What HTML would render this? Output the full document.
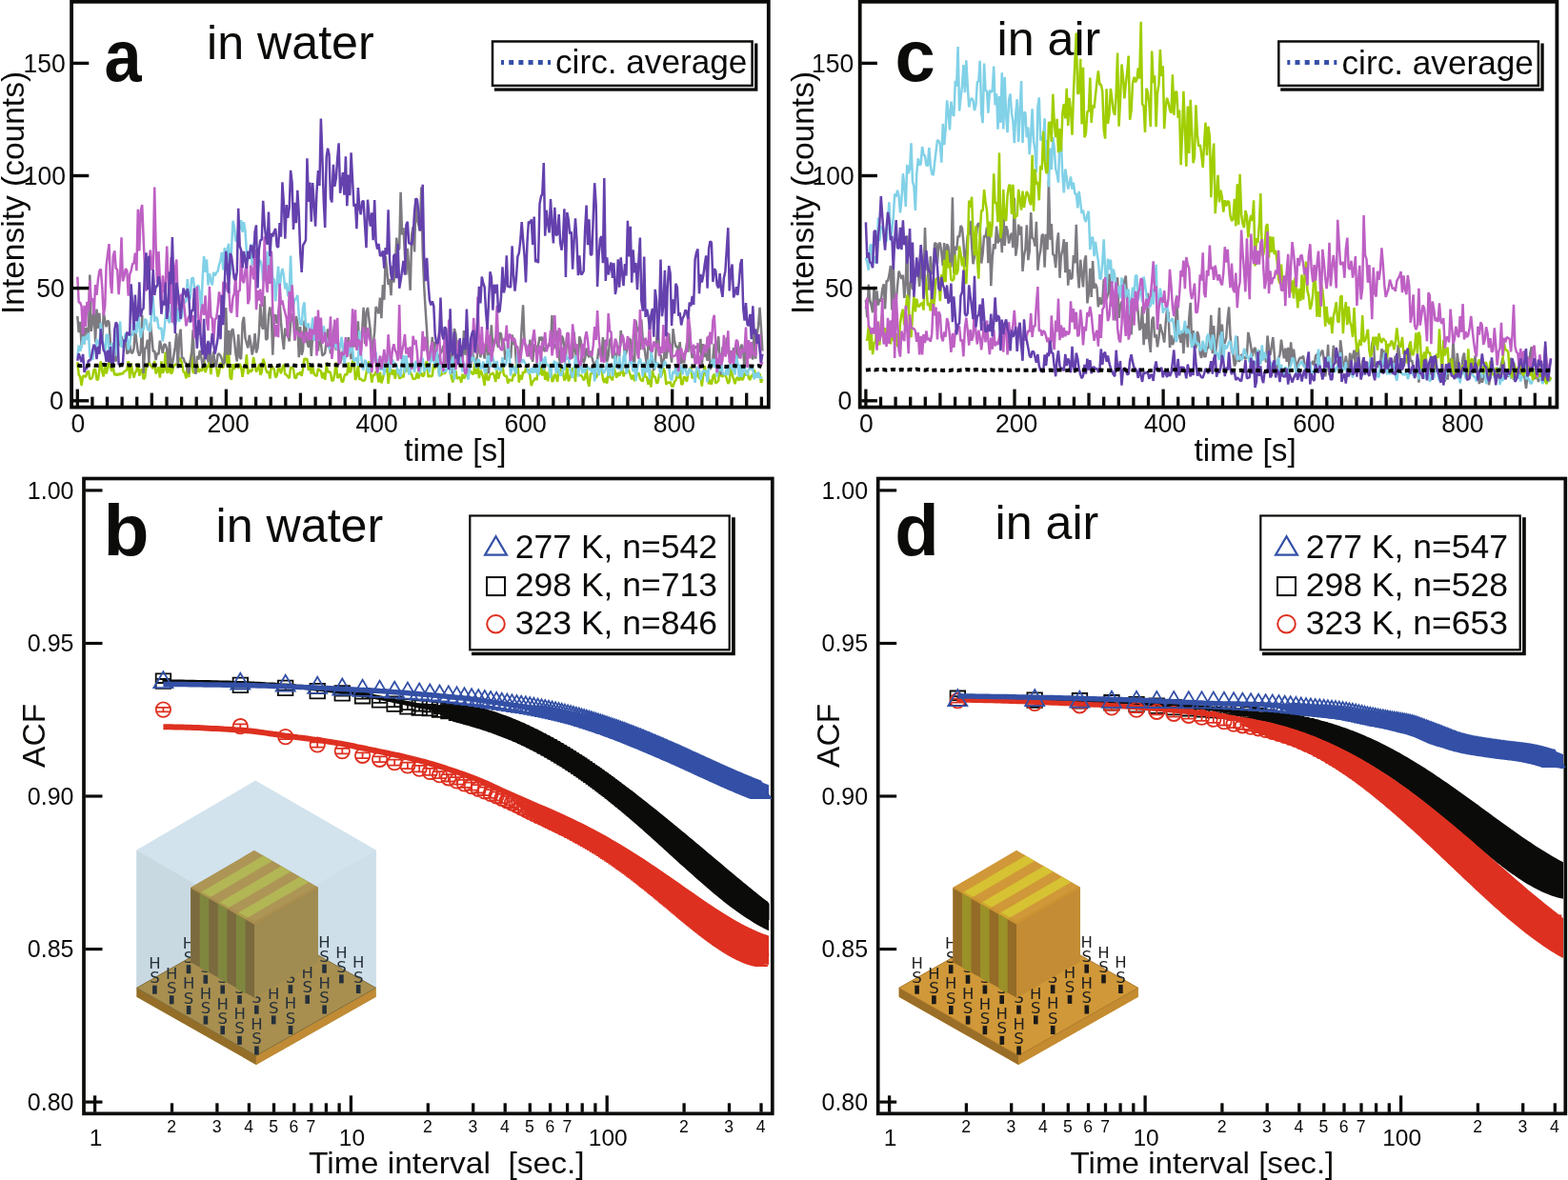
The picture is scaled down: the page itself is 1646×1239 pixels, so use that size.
<!DOCTYPE html>
<html><head><meta charset="utf-8"><title>Figure</title>
<style>html,body{margin:0;padding:0;background:#fff;}svg{display:block;}</style>
</head><body>
<svg width="1646" height="1239" viewBox="0 0 1646 1239" font-family="'Liberation Sans', Arial, Helvetica, sans-serif">
<rect width="1646" height="1239" fill="#fff"/>
<path d="M81.3 380.2 82.7 393.5 84.2 395.8 85.6 404.8 87.1 394.7 88.5 394.8 90 395.9 91.4 390.9 92.9 389.5 94.3 397.9 95.7 397.8 97.2 395.6 98.6 388 100.1 387.7 101.5 398.6 103 398.7 104.4 387.8 105.8 379.3 107.3 390.5 108.7 395.3 110.2 384.2 111.6 392.4 113.1 386.4 114.5 378.8 116 385.3 117.4 389.8 118.8 385.7 120.3 394 121.7 392.2 123.2 394.2 124.6 392.2 126.1 393.5 127.5 391.8 128.9 392.7 130.4 389.9 131.8 389.6 133.3 387.9 134.7 379.1 136.2 397.5 137.6 381.5 139.1 390.3 140.5 396.6 141.9 391.4 143.4 389 144.8 381.5 146.3 394.7 147.7 388.4 149.2 388.1 150.6 398.1 152.1 396.7 153.5 385.8 154.9 383.4 156.4 379.8 157.8 383.7 159.3 385.1 160.7 387.1 162.2 379 163.6 392.4 165 389.5 166.5 385.5 167.9 396.6 169.4 379.4 170.8 391.8 172.3 388.6 173.7 369.7 175.2 391 176.6 391.1 178 375.6 179.5 392.7 180.9 390.5 182.4 383.8 183.8 383.3 185.3 382.1 186.7 383.5 188.2 375.7 189.6 377.5 191 381.1 192.5 390.2 193.9 391.2 195.4 397.5 196.8 382.9 198.3 396.2 199.7 381.2 201.1 370 202.6 391.2 204 391 205.5 389.7 206.9 380.4 208.4 390.9 209.8 387.5 211.3 389.6 212.7 388.1 214.1 376.3 215.6 391.1 217 386.2 218.5 384.1 219.9 379.4 221.4 393.1 222.8 378.7 224.2 382 225.7 379 227.1 384.7 228.6 395.5 230 391.3 231.5 380.8 232.9 385.2 234.4 386.2 235.8 371.4 237.2 364.9 238.7 384.3 240.1 369.9 241.6 396.4 243 398.7 244.5 382.2 245.9 387.8 247.4 382.6 248.8 382.5 250.2 386.9 251.7 382 253.1 385.4 254.6 395.8 256 386.9 257.5 385.9 258.9 372.3 260.3 392.9 261.8 388.1 263.2 390.4 264.7 388.9 266.1 374.9 267.6 383.8 269 390.4 270.5 387.3 271.9 382.5 273.3 393.6 274.8 390.6 276.2 376.8 277.7 380.9 279.1 388 280.6 391.6 282 390.1 283.4 397.6 284.9 383.6 286.3 386 287.8 387.8 289.2 396.4 290.7 394.4 292.1 386.6 293.6 387.4 295 392.3 296.4 386.5 297.9 382.6 299.3 393.1 300.8 393.5 302.2 395.4 303.7 397.2 305.1 385.7 306.6 386.2 308 387.6 309.4 396.7 310.9 397.1 312.3 391.9 313.8 393.3 315.2 390.3 316.7 394.8 318.1 386.9 319.5 376.3 321 377.3 322.4 376.8 323.9 389 325.3 384.2 326.8 392.5 328.2 384.8 329.7 392.6 331.1 394.1 332.5 395.1 334 386.9 335.4 388.8 336.9 389.6 338.3 397.3 339.8 391.1 341.2 398.9 342.7 381.7 344.1 391 345.5 389.9 347 391.7 348.4 399.7 349.9 399.6 351.3 392.6 352.8 380.5 354.2 396.7 355.6 396.1 357.1 392.3 358.5 400.3 360 401.2 361.4 395.2 362.9 392.2 364.3 393.9 365.8 380.6 367.2 391.4 368.6 389.2 370.1 379.3 371.5 377 373 399 374.4 394.8 375.9 383.9 377.3 398.5 378.7 397.7 380.2 399.4 381.6 399.9 383.1 398.9 384.5 391.7 386 382.7 387.4 379.3 388.9 390.5 390.3 401.7 391.7 393.6 393.2 394.1 394.6 390 396.1 392.5 397.5 401.3 399 390.8 400.4 402.3 401.9 397.3 403.3 390.8 404.7 389.7 406.2 380.2 407.6 402.8 409.1 391.7 410.5 387.5 412 393.7 413.4 388.2 414.8 397.9 416.3 388.8 417.7 388.3 419.2 397.4 420.6 396.7 422.1 394 423.5 396.3 425 385.8 426.4 390.6 427.8 382.8 429.3 382.9 430.7 391.1 432.2 393.5 433.6 397.9 435.1 397.7 436.5 397.6 437.9 391.1 439.4 397.4 440.8 392.8 442.3 391.5 443.7 395.4 445.2 394.1 446.6 382.6 448.1 379.4 449.5 396 450.9 394.3 452.4 395.2 453.8 394.7 455.3 382.1 456.7 387.1 458.2 383.2 459.6 378.2 461.1 394.2 462.5 394.2 463.9 392.9 465.4 386 466.8 392.8 468.3 388.8 469.7 384.4 471.2 383.9 472.6 389.2 474 397.1 475.5 401.5 476.9 386.9 478.4 389.4 479.8 397.9 481.3 396.6 482.7 396.1 484.2 401.9 485.6 392.8 487 397.5 488.5 395.4 489.9 388.6 491.4 393.2 492.8 389.6 494.3 390 495.7 392.5 497.2 392.7 498.6 379.1 500 392.8 501.5 381.2 502.9 397.1 504.4 388.9 505.8 391.6 507.3 397 508.7 405 510.1 384.2 511.6 398.6 513 399 514.5 393.1 515.9 392.8 517.4 391.3 518.8 394.4 520.3 401 521.7 388.6 523.1 397.7 524.6 392.3 526 389.3 527.5 384.3 528.9 393.5 530.4 394.9 531.8 394.7 533.2 402.5 534.7 398.5 536.1 399.1 537.6 399.9 539 393 540.5 394.9 541.9 381.8 543.4 380.8 544.8 401.6 546.2 393.6 547.7 398.6 549.1 390.3 550.6 391.8 552 386.7 553.5 390.5 554.9 387.8 556.4 394.4 557.8 405 559.2 400.9 560.7 398.9 562.1 396.8 563.6 399.2 565 382.6 566.5 393.3 567.9 384.3 569.3 394.5 570.8 381.6 572.2 398.9 573.7 390.4 575.1 400.2 576.6 391.7 578 381.8 579.5 401 580.9 399.2 582.3 392.9 583.8 394.6 585.2 400.8 586.7 387 588.1 392.6 589.6 384.5 591 390.7 592.4 399.6 593.9 397.2 595.3 384.7 596.8 400.3 598.2 397.3 599.7 390.5 601.1 386.6 602.6 387.5 604 400.9 605.4 379.6 606.9 393.6 608.3 393.9 609.8 394 611.2 395.4 612.7 399.4 614.1 396.6 615.6 385.4 617 400.4 618.4 405.8 619.9 392.8 621.3 391.9 622.8 389.2 624.2 380.9 625.7 397.1 627.1 393.6 628.5 391 630 385.4 631.4 386.3 632.9 398.2 634.3 401.8 635.8 396.9 637.2 402.7 638.7 388.5 640.1 396.1 641.5 396.7 643 399.5 644.4 384.7 645.9 391.7 647.3 396.6 648.8 391 650.2 394.7 651.7 390.9 653.1 385 654.5 395.3 656 391.6 657.4 391.4 658.9 386.7 660.3 390.1 661.8 394.1 663.2 398.3 664.6 393.5 666.1 400.2 667.5 391.6 669 394.2 670.4 391.4 671.9 397.5 673.3 399.5 674.8 400.3 676.2 388.6 677.6 395.6 679.1 396.4 680.5 403.8 682 396.7 683.4 406.5 684.9 389 686.3 395.9 687.7 395.2 689.2 402.3 690.6 401.6 692.1 392.5 693.5 396.2 695 392.8 696.4 386.4 697.9 390.1 699.3 403.9 700.7 401.5 702.2 401.9 703.6 400.9 705.1 405.5 706.5 405.9 708 400.8 709.4 399.4 710.9 392.9 712.3 397.1 713.7 386.1 715.2 403.6 716.6 403.3 718.1 395.3 719.5 397.1 721 400.9 722.4 391.7 723.8 388 725.3 385.8 726.7 397 728.2 396 729.6 394.5 731.1 395.3 732.5 389.1 734 397.9 735.4 393.9 736.8 405.7 738.3 392.9 739.7 383.9 741.2 394.9 742.6 389 744.1 403.4 745.5 398.8 746.9 403.7 748.4 395.3 749.8 392.7 751.3 402.5 752.7 401.2 754.2 399.8 755.6 378.3 757.1 394.9 758.5 395.3 759.9 393.9 761.4 394.1 762.8 397.3 764.3 402.8 765.7 400.6 767.2 385.7 768.6 393.6 770.1 398 771.5 403.1 772.9 397.5 774.4 396.3 775.8 399.8 777.3 391.3 778.7 399 780.2 397.7 781.6 391.3 783 394.5 784.5 388.9 785.9 397 787.4 398.9 788.8 394 790.3 395 791.7 388.5 793.2 393.2 794.6 396.3 796 393.9 797.5 392.2 798.9 401.8 800.4 398.1" fill="none" stroke="#a0ce00" stroke-width="2.5" stroke-linejoin="bevel"/>
<path d="M81.3 332 82.7 349.2 84.2 337.9 85.6 363 87.1 332.5 88.5 361.4 90 344.8 91.4 344.8 92.9 354.7 94.3 288.6 95.7 347.9 97.2 337.5 98.6 325.3 100.1 359.4 101.5 324.5 103 344.9 104.4 328.7 105.8 356.6 107.3 360.9 108.7 328.3 110.2 336.4 111.6 343.3 113.1 336.5 114.5 338.5 116 363 117.4 376.7 118.8 373.8 120.3 375.1 121.7 379.7 123.2 365.3 124.6 362.5 126.1 356.5 127.5 353 128.9 361.4 130.4 361.5 131.8 357.9 133.3 371.3 134.7 370.3 136.2 361.9 137.6 370.3 139.1 370.7 140.5 366 141.9 344.8 143.4 359 144.8 369.4 146.3 373.7 147.7 369.2 149.2 330.8 150.6 392.3 152.1 365.7 153.5 365.3 154.9 356.7 156.4 380.8 157.8 338.7 159.3 352.8 160.7 369.2 162.2 368.2 163.6 378.1 165 370.8 166.5 372.1 167.9 357.7 169.4 364.3 170.8 370.7 172.3 361.4 173.7 362 175.2 366.6 176.6 385.6 178 358.9 179.5 381.8 180.9 382.4 182.4 373.2 183.8 364.5 185.3 349.9 186.7 386.7 188.2 353.9 189.6 345.6 191 375.7 192.5 375.9 193.9 380.3 195.4 381.4 196.8 388.5 198.3 392.2 199.7 379.3 201.1 371.8 202.6 346.2 204 381.7 205.5 392.9 206.9 373.8 208.4 377.5 209.8 367.9 211.3 375.4 212.7 384.3 214.1 379.7 215.6 361.1 217 365.8 218.5 380.4 219.9 360.2 221.4 384.4 222.8 378.2 224.2 368.9 225.7 384.4 227.1 384.4 228.6 372.1 230 371.5 231.5 373.4 232.9 377.1 234.4 382.8 235.8 380.4 237.2 323 238.7 372.8 240.1 346.9 241.6 372.7 243 347.6 244.5 345.3 245.9 356.7 247.4 371.2 248.8 379.5 250.2 351.2 251.7 375.5 253.1 377 254.6 338.9 256 332.8 257.5 355 258.9 360.3 260.3 365.3 261.8 351.8 263.2 360.7 264.7 372.6 266.1 365.2 267.6 350.1 269 370.5 270.5 365.3 271.9 349.7 273.3 319.2 274.8 341.9 276.2 345.7 277.7 310.7 279.1 356.5 280.6 355.8 282 331.2 283.4 322.5 284.9 332.3 286.3 372.7 287.8 335.1 289.2 330.2 290.7 340 292.1 330.9 293.6 315.6 295 338.4 296.4 354.7 297.9 366.8 299.3 344.6 300.8 352.5 302.2 351.3 303.7 358.5 305.1 340 306.6 329.6 308 333.9 309.4 357.8 310.9 332.1 312.3 339.2 313.8 375.2 315.2 343.1 316.7 372.8 318.1 367.3 319.5 336.9 321 339.9 322.4 359.5 323.9 364.7 325.3 349.4 326.8 374 328.2 350.6 329.7 357.5 331.1 343.6 332.5 355.2 334 368.6 335.4 354.3 336.9 360.2 338.3 373.4 339.8 372.3 341.2 370.6 342.7 357.8 344.1 345.4 345.5 356 347 371.5 348.4 363.9 349.9 350 351.3 339.8 352.8 367.7 354.2 355.1 355.6 362.7 357.1 381.8 358.5 376.1 360 367.7 361.4 366.2 362.9 364.5 364.3 366.6 365.8 354 367.2 369.2 368.6 377.1 370.1 353.1 371.5 364.6 373 346.2 374.4 366.2 375.9 337.3 377.3 369.7 378.7 371.8 380.2 347.1 381.6 322.7 383.1 361.2 384.5 327.9 386 323 387.4 335.1 388.9 348 390.3 369.5 391.7 362.1 393.2 348.6 394.6 322 396.1 325.7 397.5 329.2 399 312.7 400.4 334.2 401.9 299.1 403.3 314.8 404.7 269.2 406.2 283.6 407.6 299 409.1 292.9 410.5 310.2 412 279 413.4 296.7 414.8 280.8 416.3 249.6 417.7 263.4 419.2 260.8 420.6 201.7 422.1 246.4 423.5 239.1 425 268.5 426.4 288.4 427.8 260.9 429.3 283.1 430.7 304.8 432.2 246 433.6 238.2 435.1 264.5 436.5 208.3 437.9 230.2 439.4 236.3 440.8 242.6 442.3 196.6 443.7 263.6 445.2 300.2 446.6 324.3 448.1 347 449.5 374.7 450.9 369.7 452.4 372 453.8 353.9 455.3 378 456.7 358.8 458.2 373.4 459.6 379.6 461.1 373.7 462.5 370.4 463.9 369.1 465.4 362.7 466.8 366.8 468.3 385.8 469.7 380 471.2 348 472.6 369.6 474 392.1 475.5 371.7 476.9 345.1 478.4 350.6 479.8 367.6 481.3 367.3 482.7 361.4 484.2 371.3 485.6 376.1 487 347.1 488.5 372.8 489.9 356.7 491.4 385.2 492.8 380.6 494.3 383.4 495.7 366.8 497.2 376.8 498.6 378 500 380.8 501.5 369.5 502.9 356.3 504.4 375.3 505.8 362.5 507.3 369 508.7 376.6 510.1 366 511.6 349.5 513 392.1 514.5 364.1 515.9 341.4 517.4 368.7 518.8 358.8 520.3 354.1 521.7 360.4 523.1 364.8 524.6 349.4 526 350.5 527.5 364.5 528.9 359.3 530.4 377.9 531.8 371.8 533.2 367.3 534.7 368.9 536.1 376.2 537.6 351.5 539 361.9 540.5 357.5 541.9 381.3 543.4 375.8 544.8 376.9 546.2 371.4 547.7 343 549.1 320.3 550.6 361 552 362.2 553.5 369.7 554.9 374.4 556.4 356.7 557.8 371.7 559.2 379.8 560.7 361.2 562.1 369.2 563.6 363.9 565 363.3 566.5 353.6 567.9 357.6 569.3 353.6 570.8 367.5 572.2 368.9 573.7 362.7 575.1 363.8 576.6 360.5 578 361.9 579.5 331.1 580.9 366.6 582.3 361 583.8 365 585.2 347.4 586.7 374.5 588.1 381.7 589.6 352.7 591 355.4 592.4 363.8 593.9 375.9 595.3 350.6 596.8 360 598.2 373.9 599.7 374.1 601.1 376 602.6 348.5 604 368.1 605.4 379.2 606.9 376 608.3 353.4 609.8 357.9 611.2 375.1 612.7 381.3 614.1 376.3 615.6 365.5 617 372.6 618.4 375.1 619.9 368.6 621.3 374.8 622.8 380.8 624.2 384.2 625.7 380.3 627.1 377.7 628.5 366.1 630 366.8 631.4 377.3 632.9 354 634.3 380 635.8 356.6 637.2 379.7 638.7 373.4 640.1 357.5 641.5 354.6 643 376.4 644.4 368.2 645.9 380.3 647.3 372.1 648.8 363 650.2 373.9 651.7 347 653.1 359 654.5 357.6 656 373.6 657.4 370.3 658.9 364.4 660.3 355.5 661.8 356.8 663.2 371.7 664.6 377.8 666.1 381.8 667.5 336.5 669 347.8 670.4 343.4 671.9 367.4 673.3 335.5 674.8 357.7 676.2 363.7 677.6 373.7 679.1 383.5 680.5 361.3 682 366.3 683.4 367.8 684.9 382.4 686.3 389.1 687.7 382.6 689.2 358.2 690.6 336.4 692.1 372.9 693.5 372.5 695 384.7 696.4 381.1 697.9 365.8 699.3 376.6 700.7 367.8 702.2 350.2 703.6 368.5 705.1 380.7 706.5 345.2 708 357.2 709.4 364.2 710.9 363.6 712.3 370.3 713.7 359.2 715.2 382.2 716.6 370.4 718.1 381.3 719.5 370.9 721 360.1 722.4 369.6 723.8 341.7 725.3 366.2 726.7 376.2 728.2 365.5 729.6 365.1 731.1 363.8 732.5 367.4 734 369.7 735.4 355.8 736.8 384.4 738.3 361.2 739.7 374.7 741.2 370.8 742.6 378.9 744.1 352.4 745.5 388 746.9 384.2 748.4 375.9 749.8 360.9 751.3 382.4 752.7 364.3 754.2 353.2 755.6 377.8 757.1 393.4 758.5 363.7 759.9 370.8 761.4 370.7 762.8 354.6 764.3 357.3 765.7 374.8 767.2 368.3 768.6 379.2 770.1 365.2 771.5 370 772.9 363.1 774.4 376.3 775.8 367.9 777.3 365.3 778.7 361.8 780.2 367.9 781.6 389.4 783 366.6 784.5 382.3 785.9 358 787.4 368.9 788.8 370 790.3 377.4 791.7 345 793.2 376.7 794.6 351.3 796 342.8 797.5 322.9 798.9 343.1 800.4 368.6" fill="none" stroke="#7d7a80" stroke-width="2.5" stroke-linejoin="bevel"/>
<path d="M81.3 375.8 82.7 362.6 84.2 368.6 85.6 364.2 87.1 353.4 88.5 361.1 90 352.4 91.4 356.8 92.9 349.6 94.3 374.5 95.7 374.5 97.2 378 98.6 362.1 100.1 367.6 101.5 356.2 103 360.9 104.4 363.1 105.8 338.9 107.3 355.2 108.7 363.3 110.2 372.6 111.6 351.8 113.1 351.4 114.5 371.6 116 365.1 117.4 360.2 118.8 376.1 120.3 366.2 121.7 346.3 123.2 374.1 124.6 357.5 126.1 337.5 127.5 364.1 128.9 364.2 130.4 356.2 131.8 350.6 133.3 349.9 134.7 367.4 136.2 361.4 137.6 350.7 139.1 352.5 140.5 334.3 141.9 348.3 143.4 349.9 144.8 321.8 146.3 343.3 147.7 354.6 149.2 345.3 150.6 346.4 152.1 335 153.5 336.4 154.9 345.5 156.4 346.7 157.8 348.1 159.3 324.9 160.7 311.1 162.2 338 163.6 332.7 165 334.3 166.5 344.3 167.9 345.2 169.4 344.4 170.8 358.3 172.3 348.4 173.7 332.8 175.2 324 176.6 336.6 178 339.2 179.5 326.2 180.9 302.7 182.4 339.9 183.8 341.1 185.3 336.7 186.7 323.1 188.2 337.9 189.6 322.8 191 333.6 192.5 313.6 193.9 318.2 195.4 315.8 196.8 293.1 198.3 313.9 199.7 312.5 201.1 292.9 202.6 291.3 204 301.1 205.5 333.6 206.9 300.6 208.4 299.7 209.8 307.8 211.3 327.1 212.7 291.4 214.1 269.2 215.6 285.8 217 272.5 218.5 299.5 219.9 287.1 221.4 294.9 222.8 299.3 224.2 286 225.7 289.6 227.1 286.4 228.6 284.9 230 277.9 231.5 273.7 232.9 264.9 234.4 283.5 235.8 260 237.2 288.1 238.7 261.6 240.1 255.7 241.6 289.3 243 262.5 244.5 231.9 245.9 237.9 247.4 253 248.8 253.7 250.2 238.5 251.7 241.1 253.1 231.1 254.6 243.8 256 233.2 257.5 242.9 258.9 265.1 260.3 273 261.8 269.1 263.2 256.5 264.7 278.4 266.1 255.7 267.6 293.8 269 281.9 270.5 290.3 271.9 273 273.3 273.9 274.8 279 276.2 295.7 277.7 293 279.1 289.9 280.6 264 282 287.2 283.4 272.6 284.9 264.7 286.3 293.1 287.8 293 289.2 316.3 290.7 297.4 292.1 279.5 293.6 303.4 295 289.1 296.4 282 297.9 289.5 299.3 303.5 300.8 297.2 302.2 310.5 303.7 310.1 305.1 268.6 306.6 312.2 308 321.3 309.4 314 310.9 314 312.3 309.9 313.8 331.8 315.2 339.9 316.7 341.6 318.1 322.7 319.5 317.3 321 341.7 322.4 343.2 323.9 339.5 325.3 350.9 326.8 349 328.2 333.7 329.7 357.6 331.1 344.1 332.5 332.7 334 357.8 335.4 337.2 336.9 348.3 338.3 355.8 339.8 342.3 341.2 351.2 342.7 356.8 344.1 362 345.5 366.2 347 365.3 348.4 363.5 349.9 354.1 351.3 364.5 352.8 361.1 354.2 368 355.6 361.2 357.1 366.6 358.5 353.8 360 364.2 361.4 382.1 362.9 372.8 364.3 375 365.8 362.8 367.2 371.4 368.6 364.9 370.1 366.1 371.5 379.3 373 378.1 374.4 375.3 375.9 384 377.3 347.4 378.7 367.6 380.2 385.6 381.6 388.4 383.1 377.7 384.5 380.8 386 389.5 387.4 391.7 388.9 380.3 390.3 382.8 391.7 376.2 393.2 380.2 394.6 369.7 396.1 392.1 397.5 377.1 399 386.7 400.4 388.7 401.9 373.9 403.3 393.8 404.7 384 406.2 384.7 407.6 371.2 409.1 391.1 410.5 380.3 412 377.7 413.4 381.7 414.8 381.1 416.3 383.3 417.7 392.5 419.2 387.6 420.6 395.6 422.1 376.4 423.5 373.2 425 391.6 426.4 373.2 427.8 383.1 429.3 393.2 430.7 389.5 432.2 379 433.6 383.4 435.1 390.8 436.5 378.7 437.9 384.5 439.4 387.3 440.8 392.5 442.3 380.6 443.7 375.9 445.2 390.4 446.6 386.9 448.1 386.3 449.5 382.9 450.9 391.4 452.4 365.9 453.8 379.8 455.3 375.7 456.7 385.6 458.2 363.5 459.6 378.1 461.1 395.4 462.5 377.3 463.9 383.7 465.4 391.5 466.8 385.5 468.3 390.7 469.7 379.2 471.2 378.4 472.6 393.2 474 380.1 475.5 374.5 476.9 398.8 478.4 375.4 479.8 377.7 481.3 376.4 482.7 370.2 484.2 383.3 485.6 390.5 487 382.3 488.5 385.5 489.9 381 491.4 398.6 492.8 389.6 494.3 358.7 495.7 379 497.2 375.2 498.6 380.9 500 386.9 501.5 377.9 502.9 377.6 504.4 386.7 505.8 386.5 507.3 379.5 508.7 390.1 510.1 391.5 511.6 375.7 513 373.5 514.5 385.3 515.9 370.6 517.4 375.9 518.8 380.6 520.3 388.3 521.7 379 523.1 388.4 524.6 386 526 389.7 527.5 375.1 528.9 382.9 530.4 384.7 531.8 379.4 533.2 359 534.7 372.9 536.1 394.3 537.6 386.3 539 384.4 540.5 389.2 541.9 392.3 543.4 370.5 544.8 376.9 546.2 376.1 547.7 381 549.1 377.4 550.6 380.1 552 383.1 553.5 386.4 554.9 392.2 556.4 391.2 557.8 386.4 559.2 391.7 560.7 383.5 562.1 391.5 563.6 379.7 565 394.2 566.5 384.1 567.9 373.9 569.3 376.7 570.8 388.5 572.2 374.3 573.7 384 575.1 382.5 576.6 385.6 578 396.7 579.5 382.7 580.9 381.8 582.3 378.8 583.8 391.8 585.2 379.9 586.7 389.7 588.1 394 589.6 393.7 591 385.2 592.4 388.7 593.9 372.2 595.3 377.4 596.8 374.6 598.2 385.9 599.7 393.2 601.1 396.9 602.6 389 604 375.1 605.4 373.3 606.9 395.6 608.3 385.2 609.8 380 611.2 392.2 612.7 386.6 614.1 391.1 615.6 385.5 617 384.3 618.4 388.2 619.9 387.1 621.3 391 622.8 385.8 624.2 400.5 625.7 385.4 627.1 377.1 628.5 394.1 630 388.6 631.4 381.7 632.9 390.7 634.3 391.6 635.8 387.4 637.2 380.3 638.7 394.8 640.1 385.7 641.5 381.9 643 395 644.4 386.4 645.9 373.4 647.3 385.1 648.8 387.5 650.2 373.8 651.7 389.4 653.1 388.1 654.5 375 656 368.4 657.4 392.4 658.9 388.7 660.3 383 661.8 374.9 663.2 381.6 664.6 390.4 666.1 380.7 667.5 399.6 669 387.6 670.4 380.8 671.9 376.4 673.3 382 674.8 395.7 676.2 380.4 677.6 390 679.1 390.5 680.5 377.6 682 398.3 683.4 367.8 684.9 377.2 686.3 378.3 687.7 387.2 689.2 381.3 690.6 381.4 692.1 384.6 693.5 396.5 695 385 696.4 384.9 697.9 379 699.3 382.9 700.7 384.6 702.2 385.6 703.6 396.6 705.1 399.5 706.5 389.9 708 392.5 709.4 384.5 710.9 395.1 712.3 392.3 713.7 382.5 715.2 386.9 716.6 393.4 718.1 384 719.5 385.1 721 394.3 722.4 392.9 723.8 386.9 725.3 389.1 726.7 389.9 728.2 391.8 729.6 401.8 731.1 386.8 732.5 385.4 734 388.7 735.4 399 736.8 392.5 738.3 388.9 739.7 389.9 741.2 389.2 742.6 401.2 744.1 385.8 745.5 383.7 746.9 382.7 748.4 376.8 749.8 385.7 751.3 376.8 752.7 395.6 754.2 384.6 755.6 390 757.1 377.1 758.5 391.1 759.9 392.8 761.4 393.8 762.8 386 764.3 394.1 765.7 383.2 767.2 382.7 768.6 388.2 770.1 388.2 771.5 393.5 772.9 373.2 774.4 381.1 775.8 396.1 777.3 382.6 778.7 395.9 780.2 388.4 781.6 384.8 783 391.6 784.5 394 785.9 388 787.4 385.5 788.8 388.1 790.3 387.1 791.7 398.3 793.2 391.7 794.6 396.6 796 390.5 797.5 397 798.9 396.4 800.4 397.1" fill="none" stroke="#81d1e7" stroke-width="2.5" stroke-linejoin="bevel"/>
<path d="M81.3 290.6 82.7 317.5 84.2 317.8 85.6 321.6 87.1 351.1 88.5 320.8 90 342.9 91.4 316.7 92.9 326.4 94.3 294.3 95.7 315.9 97.2 313.4 98.6 330.5 100.1 299.1 101.5 309.9 103 292.9 104.4 284.5 105.8 282.4 107.3 302.3 108.7 331.2 110.2 321.6 111.6 279 113.1 266.6 114.5 256.1 116 296.8 117.4 308.1 118.8 268.8 120.3 263.3 121.7 281.7 123.2 283.4 124.6 309.1 126.1 289.5 127.5 249.4 128.9 295.3 130.4 290.3 131.8 282.1 133.3 284 134.7 310.6 136.2 288 137.6 284.6 139.1 277.2 140.5 276.4 141.9 265.6 143.4 284.2 144.8 219.9 146.3 263.4 147.7 221.5 149.2 215 150.6 249.9 152.1 282.7 153.5 305.6 154.9 298.3 156.4 274.5 157.8 262.5 159.3 283.3 160.7 281.5 162.2 196.5 163.6 257.4 165 296.5 166.5 264.1 167.9 295.4 169.4 327 170.8 289.4 172.3 307.1 173.7 297.2 175.2 258.5 176.6 295.8 178 318.8 179.5 270.1 180.9 338.8 182.4 332 183.8 282.1 185.3 272.5 186.7 313 188.2 326.1 189.6 310 191 309.4 192.5 313.6 193.9 326.9 195.4 342.3 196.8 336.4 198.3 331.9 199.7 332.4 201.1 337.8 202.6 331 204 355.3 205.5 316.8 206.9 300.9 208.4 337.2 209.8 351.8 211.3 326.7 212.7 319.4 214.1 330.8 215.6 310.4 217 336.2 218.5 347 219.9 300.9 221.4 333.1 222.8 334.2 224.2 359.4 225.7 334.9 227.1 334.3 228.6 323 230 306.4 231.5 313.2 232.9 336.3 234.4 295.9 235.8 302.3 237.2 296.6 238.7 306.3 240.1 301.7 241.6 325.7 243 328.3 244.5 312.1 245.9 308.5 247.4 287.3 248.8 333 250.2 305.7 251.7 305 253.1 262.9 254.6 294.6 256 297 257.5 284.7 258.9 274 260.3 319.1 261.8 313.6 263.2 278.5 264.7 283.6 266.1 293.4 267.6 262 269 325.1 270.5 304.8 271.9 315.7 273.3 303.7 274.8 322 276.2 306.9 277.7 248.2 279.1 293.3 280.6 307 282 278.2 283.4 297.8 284.9 263.6 286.3 328.2 287.8 338.3 289.2 353.5 290.7 341.2 292.1 354.1 293.6 297.9 295 320 296.4 315.4 297.9 323.1 299.3 328.5 300.8 334.4 302.2 354.6 303.7 306.1 305.1 337.8 306.6 299.4 308 320 309.4 356.7 310.9 348.2 312.3 348.3 313.8 352.2 315.2 354.1 316.7 348 318.1 356.5 319.5 360.2 321 349.3 322.4 349.3 323.9 357.6 325.3 344.9 326.8 356.8 328.2 345.7 329.7 351.2 331.1 332.3 332.5 373.5 334 325.5 335.4 357 336.9 333.6 338.3 360.5 339.8 358 341.2 348.8 342.7 360.8 344.1 364.1 345.5 360.7 347 332.4 348.4 377 349.9 361.9 351.3 335.6 352.8 361.1 354.2 333.7 355.6 383.1 357.1 379.2 358.5 369.8 360 372.7 361.4 371.8 362.9 354.1 364.3 374.8 365.8 359.5 367.2 358 368.6 364.4 370.1 324.4 371.5 364 373 325.3 374.4 367.8 375.9 356.5 377.3 358 378.7 373.3 380.2 355 381.6 343.4 383.1 352.5 384.5 363.7 386 343.9 387.4 352.7 388.9 359.3 390.3 391.2 391.7 373.8 393.2 355.8 394.6 380.3 396.1 391.6 397.5 382.8 399 373.5 400.4 387.5 401.9 377.6 403.3 367 404.7 380.8 406.2 378.6 407.6 351.2 409.1 370 410.5 382.9 412 366.4 413.4 361.3 414.8 368.1 416.3 370.9 417.7 378.8 419.2 320.1 420.6 377.1 422.1 368.8 423.5 361.4 425 351 426.4 371.6 427.8 364.9 429.3 375.2 430.7 364 432.2 387.8 433.6 352.7 435.1 361.9 436.5 356.9 437.9 369.8 439.4 390.1 440.8 383 442.3 375 443.7 347.9 445.2 368.7 446.6 353.6 448.1 366.9 449.5 378.8 450.9 375.9 452.4 363.6 453.8 359.3 455.3 378.7 456.7 369.7 458.2 367.9 459.6 358.6 461.1 347.7 462.5 382.4 463.9 380.5 465.4 389.9 466.8 343.7 468.3 365 469.7 385.5 471.2 335.5 472.6 368.5 474 367.3 475.5 364.5 476.9 356.9 478.4 388 479.8 373.1 481.3 357.4 482.7 361.3 484.2 368.7 485.6 375.3 487 385.5 488.5 393 489.9 390.4 491.4 365.4 492.8 364.5 494.3 374.5 495.7 366 497.2 333.9 498.6 362.8 500 371.4 501.5 311.6 502.9 357.5 504.4 372.2 505.8 343 507.3 371.7 508.7 364.2 510.1 359.1 511.6 337.1 513 370.2 514.5 351.8 515.9 379.6 517.4 366.6 518.8 361.4 520.3 357 521.7 320.9 523.1 360.5 524.6 364.3 526 367.3 527.5 367.3 528.9 355.1 530.4 358 531.8 341.5 533.2 366 534.7 350.8 536.1 352.1 537.6 358.3 539 354.6 540.5 357 541.9 363.8 543.4 364.3 544.8 381.1 546.2 378.5 547.7 367.2 549.1 356.7 550.6 355.3 552 366.1 553.5 374.3 554.9 362 556.4 364.9 557.8 377.2 559.2 355.6 560.7 346.2 562.1 362.6 563.6 381 565 366.9 566.5 362.9 567.9 379.4 569.3 358.6 570.8 362.3 572.2 348.9 573.7 369.1 575.1 364.5 576.6 362.8 578 347.2 579.5 373.4 580.9 363.3 582.3 331.1 583.8 361.5 585.2 375.8 586.7 344.6 588.1 347.4 589.6 381.2 591 364.6 592.4 380.4 593.9 366.8 595.3 349.8 596.8 350.1 598.2 376.6 599.7 376.3 601.1 340.3 602.6 354 604 365.8 605.4 361.2 606.9 375.9 608.3 384.2 609.8 382.7 611.2 360.8 612.7 374.5 614.1 355.3 615.6 348.2 617 357.5 618.4 372.6 619.9 371.3 621.3 373.5 622.8 362.2 624.2 343 625.7 356.9 627.1 326.1 628.5 352.3 630 368.3 631.4 380.1 632.9 375.5 634.3 380.6 635.8 358.4 637.2 363.3 638.7 329.1 640.1 347.7 641.5 348.6 643 372.1 644.4 371.7 645.9 355.6 647.3 359.5 648.8 372.2 650.2 370.1 651.7 360.3 653.1 351.2 654.5 355.2 656 365.8 657.4 366.3 658.9 353.1 660.3 360.1 661.8 379.2 663.2 375 664.6 355.6 666.1 335.2 667.5 345.1 669 370.1 670.4 376.7 671.9 325.1 673.3 353.9 674.8 367 676.2 361.2 677.6 354.8 679.1 363.2 680.5 361.9 682 337.5 683.4 368 684.9 369.4 686.3 358.6 687.7 361.9 689.2 365.4 690.6 360.4 692.1 373.7 693.5 363.9 695 370.9 696.4 341 697.9 369.8 699.3 364.4 700.7 348.8 702.2 369.5 703.6 360.8 705.1 374.2 706.5 374 708 373.8 709.4 372.9 710.9 367.5 712.3 390 713.7 367.4 715.2 365.8 716.6 374.3 718.1 378.4 719.5 367.7 721 369.7 722.4 325.6 723.8 342 725.3 362.4 726.7 371.2 728.2 361.8 729.6 381.6 731.1 381.6 732.5 360.2 734 386.5 735.4 373.9 736.8 377.9 738.3 368.6 739.7 362.1 741.2 370.6 742.6 353.6 744.1 365.6 745.5 348.5 746.9 361.3 748.4 336.4 749.8 330.7 751.3 360.4 752.7 391.3 754.2 378.9 755.6 370.6 757.1 383.5 758.5 378.1 759.9 351.9 761.4 374.5 762.8 370.4 764.3 347.4 765.7 380.1 767.2 381.6 768.6 367.9 770.1 382 771.5 368 772.9 357 774.4 358.5 775.8 371.7 777.3 376.5 778.7 365.8 780.2 370 781.6 366.8 783 343.5 784.5 385.9 785.9 357 787.4 376.4 788.8 359.2 790.3 370.1 791.7 373.1 793.2 373.2 794.6 352.4 796 360.8 797.5 350.9 798.9 383.5 800.4 380.1" fill="none" stroke="#be60c4" stroke-width="2.5" stroke-linejoin="bevel"/>
<path d="M81.3 378.8 82.7 371.1 84.2 376.1 85.6 380.2 87.1 371.9 88.5 390.9 90 387.1 91.4 386.3 92.9 378.2 94.3 378.7 95.7 375.5 97.2 367.8 98.6 361.7 100.1 364.8 101.5 377.1 103 363.6 104.4 371.8 105.8 345.3 107.3 357.3 108.7 367.7 110.2 369.8 111.6 379.8 113.1 367.9 114.5 380.5 116 364.2 117.4 386.1 118.8 381.8 120.3 346.3 121.7 338.4 123.2 341 124.6 382.6 126.1 382.8 127.5 382.1 128.9 382.2 130.4 356.5 131.8 359.1 133.3 348.7 134.7 350.9 136.2 352.1 137.6 298.3 139.1 319.9 140.5 346.8 141.9 309.6 143.4 337.3 144.8 332 146.3 296.4 147.7 332.4 149.2 325.5 150.6 323.7 152.1 279.5 153.5 265.4 154.9 304.2 156.4 268.9 157.8 330.8 159.3 316.3 160.7 282.7 162.2 310 163.6 300.5 165 300.8 166.5 290.1 167.9 297.8 169.4 329.8 170.8 315.8 172.3 320.4 173.7 296.5 175.2 334.9 176.6 325.3 178 285.4 179.5 298.5 180.9 249 182.4 303.8 183.8 350 185.3 296.7 186.7 305.6 188.2 317.4 189.6 335.2 191 319.2 192.5 302.6 193.9 306.3 195.4 312.3 196.8 303.3 198.3 311.5 199.7 338.7 201.1 325.9 202.6 326.2 204 302.6 205.5 343.9 206.9 365.8 208.4 336.1 209.8 340.7 211.3 362 212.7 372.7 214.1 334.7 215.6 377.3 217 370.7 218.5 357.9 219.9 372.2 221.4 362.5 222.8 350.1 224.2 360.8 225.7 371.5 227.1 364 228.6 355.3 230 330.7 231.5 356.1 232.9 309.9 234.4 341.2 235.8 297.2 237.2 263.9 238.7 278.2 240.1 307.9 241.6 266 243 269 244.5 281 245.9 292.5 247.4 294.1 248.8 285.4 250.2 218.7 251.7 258.5 253.1 262.4 254.6 281.2 256 263.9 257.5 273.5 258.9 281.9 260.3 263.7 261.8 271.9 263.2 257.6 264.7 259.4 266.1 271.2 267.6 243.3 269 236.4 270.5 302.4 271.9 261.6 273.3 252.4 274.8 251.6 276.2 210.7 277.7 235.8 279.1 248.9 280.6 256.7 282 222.6 283.4 269.2 284.9 245.1 286.3 248.4 287.8 243.2 289.2 240.1 290.7 258.5 292.1 259.8 293.6 234 295 248.7 296.4 191.4 297.9 213.7 299.3 250.7 300.8 215.1 302.2 228.9 303.7 218.2 305.1 178.8 306.6 191.9 308 240.9 309.4 212.7 310.9 234.1 312.3 199.8 313.8 225.3 315.2 264.6 316.7 285.9 318.1 257.4 319.5 255.3 321 251.9 322.4 166.3 323.9 211.8 325.3 191.6 326.8 232.8 328.2 192.1 329.7 215.2 331.1 237.7 332.5 200.8 334 179.1 335.4 194.9 336.9 124.6 338.3 162.1 339.8 211.2 341.2 239 342.7 164.6 344.1 155.7 345.5 162.2 347 208.2 348.4 212.4 349.9 172.9 351.3 195.8 352.8 187.2 354.2 166.7 355.6 150.3 357.1 202.8 358.5 192.5 360 181 361.4 204.6 362.9 164.3 364.3 216.2 365.8 183.5 367.2 205.1 368.6 160.2 370.1 189.9 371.5 216.8 373 214.1 374.4 240.2 375.9 197.1 377.3 218 378.7 225.3 380.2 211.7 381.6 210.7 383.1 237.5 384.5 260.1 386 209.7 387.4 225.6 388.9 237.6 390.3 223.4 391.7 252.3 393.2 210 394.6 253.7 396.1 261.6 397.5 256 399 268.6 400.4 268.2 401.9 263.4 403.3 281.6 404.7 260.1 406.2 267.2 407.6 220.4 409.1 273.5 410.5 288.9 412 294.1 413.4 268.3 414.8 267 416.3 292.1 417.7 256 419.2 302.7 420.6 294.7 422.1 284.1 423.5 273.8 425 288.7 426.4 236.2 427.8 232.8 429.3 255.3 430.7 255.8 432.2 257 433.6 248.8 435.1 221.9 436.5 208.7 437.9 209.4 439.4 223.1 440.8 241.9 442.3 239.8 443.7 193.7 445.2 269.2 446.6 295.2 448.1 270.8 449.5 297 450.9 314.9 452.4 320.3 453.8 316.3 455.3 321.1 456.7 351.7 458.2 360.3 459.6 360.1 461.1 352.8 462.5 312.5 463.9 349.8 465.4 356.4 466.8 343.3 468.3 345.5 469.7 371 471.2 388.1 472.6 324.3 474 367.4 475.5 372.8 476.9 348.6 478.4 376.7 479.8 371.8 481.3 383.1 482.7 355.2 484.2 374.2 485.6 366.3 487 354.8 488.5 367.2 489.9 324.6 491.4 362.9 492.8 382.2 494.3 355.1 495.7 349.2 497.2 347 498.6 370.1 500 357.7 501.5 335.7 502.9 300.9 504.4 318.5 505.8 290.5 507.3 297.5 508.7 301.5 510.1 327.9 511.6 346 513 316.3 514.5 285.2 515.9 291.6 517.4 325.8 518.8 298.8 520.3 308 521.7 298.6 523.1 327.8 524.6 326.7 526 312.4 527.5 280.4 528.9 307.4 530.4 300.1 531.8 268.4 533.2 301.1 534.7 301.1 536.1 301.6 537.6 258.3 539 288.3 540.5 305.6 541.9 292.3 543.4 269.5 544.8 265.9 546.2 253.5 547.7 233 549.1 251.9 550.6 269.2 552 296.4 553.5 254.3 554.9 232.6 556.4 234.7 557.8 230.4 559.2 257 560.7 227.6 562.1 275.2 563.6 272.1 565 276.2 566.5 214.3 567.9 206.6 569.3 203.4 570.8 171.1 572.2 247.7 573.7 220.7 575.1 234.8 576.6 244.4 578 209.1 579.5 235.7 580.9 255.4 582.3 217.8 583.8 247.3 585.2 245.8 586.7 225 588.1 254.7 589.6 262.7 591 249.8 592.4 219.2 593.9 290.9 595.3 223.1 596.8 231.1 598.2 245.6 599.7 243.3 601.1 282.8 602.6 252.1 604 229.4 605.4 251.2 606.9 289.1 608.3 268.3 609.8 288.1 611.2 287.5 612.7 284.5 614.1 241.6 615.6 215.5 617 257.3 618.4 230.2 619.9 267.5 621.3 267.5 622.8 226.7 624.2 192.2 625.7 215.5 627.1 300.9 628.5 269.9 630 250.9 631.4 248.1 632.9 276.3 634.3 187 635.8 295 637.2 270.3 638.7 288.4 640.1 281.2 641.5 275.6 643 291.8 644.4 276.2 645.9 309 647.3 300.7 648.8 272.2 650.2 301.6 651.7 270.4 653.1 287.2 654.5 300.1 656 277.2 657.4 289.4 658.9 231.8 660.3 269.4 661.8 237.7 663.2 296.8 664.6 262.3 666.1 286.3 667.5 276 669 304.1 670.4 274.6 671.9 249.6 673.3 315.6 674.8 326.6 676.2 269.6 677.6 332.9 679.1 324.7 680.5 331.6 682 345.8 683.4 331 684.9 323.9 686.3 353.8 687.7 303.9 689.2 316.1 690.6 356.9 692.1 325.2 693.5 272.6 695 332.2 696.4 320 697.9 283.7 699.3 353.3 700.7 302 702.2 279.2 703.6 286.8 705.1 342 706.5 314.2 708 329.3 709.4 297.8 710.9 301.6 712.3 331.8 713.7 328.3 715.2 341.4 716.6 334.3 718.1 331.4 719.5 325.2 721 328.7 722.4 334.9 723.8 317.5 725.3 321.4 726.7 310.9 728.2 319.9 729.6 272.4 731.1 265.1 732.5 261.5 734 308.3 735.4 287.9 736.8 296.4 738.3 289.3 739.7 278 741.2 268.4 742.6 302.6 744.1 261 745.5 253.3 746.9 254.6 748.4 296 749.8 282.1 751.3 284.3 752.7 299.3 754.2 302.5 755.6 287.2 757.1 304.1 758.5 311.8 759.9 291.7 761.4 284.7 762.8 262 764.3 239.2 765.7 305.4 767.2 285.2 768.6 277.6 770.1 312.4 771.5 308.1 772.9 301.3 774.4 310 775.8 295.9 777.3 277 778.7 272.1 780.2 323.5 781.6 336.6 783 318 784.5 340.6 785.9 342.1 787.4 329.8 788.8 356.2 790.3 321.3 791.7 351.3 793.2 345.6 794.6 360.7 796 351.1 797.5 367.3 798.9 380.5 800.4 371.6" fill="none" stroke="#6441ad" stroke-width="2.5" stroke-linejoin="bevel"/>
<path d="M81.3 383.4 84.4 384.2 87.5 383.6 90.7 384 93.8 383.4 96.9 383.5 100 383.8 103.2 383.8 106.3 383.5 109.4 382.7 112.5 383.5 115.6 383.8 118.8 383.6 121.9 383.7 125 383.7 128.1 383.1 131.3 383.9 134.4 383.4 137.5 383.5 140.6 383.9 143.7 383.4 146.9 383.8 150 383.4 153.1 383.6 156.2 383.6 159.3 383.5 162.5 383.4 165.6 383.7 168.7 383.8 171.8 384.1 175 383.5 178.1 383.8 181.2 384.5 184.3 383.9 187.4 384 190.6 383.9 193.7 383.2 196.8 383.7 199.9 383.1 203.1 384.1 206.2 384.4 209.3 383.7 212.4 384.5 215.5 383.5 218.7 383.5 221.8 384.1 224.9 383.6 228 383.7 231.2 384.3 234.3 383.6 237.4 383.8 240.5 383.9 243.6 384 246.8 384.2 249.9 383.8 253 383.4 256.1 384.2 259.3 384.8 262.4 384.1 265.5 384 268.6 383.7 271.7 383.7 274.9 383.3 278 384 281.1 383.7 284.2 384.2 287.4 383.3 290.5 384.2 293.6 383.6 296.7 383.5 299.8 383.5 303 383.4 306.1 382.9 309.2 383.8 312.3 383.9 315.4 384 318.6 383.8 321.7 383.8 324.8 383 327.9 383.6 331.1 383.1 334.2 383.4 337.3 384 340.4 383.5 343.5 382.5 346.7 383.1 349.8 383.2 352.9 383.3 356 383.7 359.2 383.7 362.3 383.7 365.4 383.4 368.5 383.2 371.6 383.2 374.8 383.5 377.9 383.6 381 383.8 384.1 383.3 387.3 383.4 390.4 383.8 393.5 382.8 396.6 383.5 399.7 383 402.9 383.8 406 383.8 409.1 383.9 412.2 383.9 415.4 383.6 418.5 383 421.6 383.5 424.7 383.7 427.8 383.6 431 383.4 434.1 383.5 437.2 383.6 440.3 383.1 443.5 383.7 446.6 383.7 449.7 383.4 452.8 383.7 455.9 383.9 459.1 383.2 462.2 384.1 465.3 383.9 468.4 383.9 471.6 383.9 474.7 383.8 477.8 383.6 480.9 383.4 484 383.8 487.2 383.7 490.3 383.4 493.4 384.3 496.5 384 499.6 383.6 502.8 383.2 505.9 383.4 509 383.9 512.1 383.7 515.3 383.3 518.4 383.9 521.5 383.8 524.6 383.7 527.7 383.4 530.9 384 534 383.5 537.1 383.8 540.2 384.3 543.4 384.3 546.5 383.9 549.6 382.9 552.7 384.2 555.8 383.6 559 383.5 562.1 384.2 565.2 383.3 568.3 384.2 571.5 384.3 574.6 384.2 577.7 384.1 580.8 384 583.9 383.9 587.1 383.7 590.2 384.9 593.3 383.9 596.4 383.8 599.6 384.1 602.7 384.3 605.8 384.5 608.9 384 612 384.1 615.2 383.9 618.3 384.1 621.4 384.5 624.5 384.1 627.6 384 630.8 384.2 633.9 383.9 637 383.4 640.1 384 643.3 383.2 646.4 384.1 649.5 384.4 652.6 384.6 655.7 384.4 658.9 384.3 662 383.9 665.1 383.9 668.2 384.2 671.4 384 674.5 384 677.6 384.3 680.7 384 683.8 383.7 687 384.3 690.1 384 693.2 384.6 696.3 384.8 699.5 384.7 702.6 384.6 705.7 384.9 708.8 384.1 711.9 384.2 715.1 384.5 718.2 384.3 721.3 384.5 724.4 384.3 727.6 384.4 730.7 384.3 733.8 384.7 736.9 384.4 740 384 743.2 384.5 746.3 384.3 749.4 385 752.5 384.7 755.7 385 758.8 384.6 761.9 384.9 765 384.8 768.1 384.8 771.3 384 774.4 384.7 777.5 385.1 780.6 384.6 783.7 385 786.9 384.4 790 384.5 793.1 384.9 796.2 384.1 799.4 385.2" fill="none" stroke="#000" stroke-width="4" stroke-dasharray="5 3.8"/>
<rect x="75.1" y="1.8" width="731.7" height="425.8" fill="none" stroke="#0b0c09" stroke-width="3.8"/>
<line x1="76.6" y1="420.8" x2="93.3" y2="420.8" stroke="#0b0c09" stroke-width="3.4"/>
<text x="66.8" y="430.3" font-size="27.8" text-anchor="end" font-weight="normal" fill="#0b0c09" transform="matrix(0.9550 0 0 1 3 0)">0</text>
<line x1="76.6" y1="302.6" x2="93.3" y2="302.6" stroke="#0b0c09" stroke-width="3.4"/>
<text x="67.8" y="312.1" font-size="27.8" text-anchor="end" font-weight="normal" fill="#0b0c09" transform="matrix(0.9550 0 0 1 3.1 0)">50</text>
<line x1="76.6" y1="184.5" x2="93.3" y2="184.5" stroke="#0b0c09" stroke-width="3.4"/>
<text x="69.1" y="194" font-size="27.8" text-anchor="end" font-weight="normal" fill="#0b0c09" transform="matrix(0.9550 0 0 1 3.1 0)">100</text>
<line x1="76.6" y1="66.4" x2="93.3" y2="66.4" stroke="#0b0c09" stroke-width="3.4"/>
<text x="68.7" y="75.9" font-size="27.8" text-anchor="end" font-weight="normal" fill="#0b0c09" transform="matrix(0.9550 0 0 1 3.1 0)">150</text>
<line x1="81.3" y1="426.1" x2="81.3" y2="408.6" stroke="#0b0c09" stroke-width="3.3"/>
<text x="81.8" y="453.8" font-size="27.8" text-anchor="middle" font-weight="normal" fill="#0b0c09" transform="matrix(0.9550 0 0 1 3.7 0)">0</text>
<line x1="96.9" y1="426.1" x2="96.9" y2="416.6" stroke="#0b0c09" stroke-width="3.3"/>
<line x1="112.5" y1="426.1" x2="112.5" y2="416.6" stroke="#0b0c09" stroke-width="3.3"/>
<line x1="128.1" y1="426.1" x2="128.1" y2="416.6" stroke="#0b0c09" stroke-width="3.3"/>
<line x1="143.7" y1="426.1" x2="143.7" y2="416.6" stroke="#0b0c09" stroke-width="3.3"/>
<line x1="159.3" y1="426.1" x2="159.3" y2="412.6" stroke="#0b0c09" stroke-width="3.3"/>
<line x1="175" y1="426.1" x2="175" y2="416.6" stroke="#0b0c09" stroke-width="3.3"/>
<line x1="190.6" y1="426.1" x2="190.6" y2="416.6" stroke="#0b0c09" stroke-width="3.3"/>
<line x1="206.2" y1="426.1" x2="206.2" y2="416.6" stroke="#0b0c09" stroke-width="3.3"/>
<line x1="221.8" y1="426.1" x2="221.8" y2="416.6" stroke="#0b0c09" stroke-width="3.3"/>
<line x1="237.4" y1="426.1" x2="237.4" y2="408.6" stroke="#0b0c09" stroke-width="3.3"/>
<text x="239.5" y="453.8" font-size="27.8" text-anchor="middle" font-weight="normal" fill="#0b0c09" transform="matrix(0.9550 0 0 1 10.8 0)">200</text>
<line x1="253" y1="426.1" x2="253" y2="416.6" stroke="#0b0c09" stroke-width="3.3"/>
<line x1="268.6" y1="426.1" x2="268.6" y2="416.6" stroke="#0b0c09" stroke-width="3.3"/>
<line x1="284.2" y1="426.1" x2="284.2" y2="416.6" stroke="#0b0c09" stroke-width="3.3"/>
<line x1="299.8" y1="426.1" x2="299.8" y2="416.6" stroke="#0b0c09" stroke-width="3.3"/>
<line x1="315.4" y1="426.1" x2="315.4" y2="412.6" stroke="#0b0c09" stroke-width="3.3"/>
<line x1="331.1" y1="426.1" x2="331.1" y2="416.6" stroke="#0b0c09" stroke-width="3.3"/>
<line x1="346.7" y1="426.1" x2="346.7" y2="416.6" stroke="#0b0c09" stroke-width="3.3"/>
<line x1="362.3" y1="426.1" x2="362.3" y2="416.6" stroke="#0b0c09" stroke-width="3.3"/>
<line x1="377.9" y1="426.1" x2="377.9" y2="416.6" stroke="#0b0c09" stroke-width="3.3"/>
<line x1="393.5" y1="426.1" x2="393.5" y2="408.6" stroke="#0b0c09" stroke-width="3.3"/>
<text x="395.6" y="453.8" font-size="27.8" text-anchor="middle" font-weight="normal" fill="#0b0c09" transform="matrix(0.9550 0 0 1 17.8 0)">400</text>
<line x1="409.1" y1="426.1" x2="409.1" y2="416.6" stroke="#0b0c09" stroke-width="3.3"/>
<line x1="424.7" y1="426.1" x2="424.7" y2="416.6" stroke="#0b0c09" stroke-width="3.3"/>
<line x1="440.3" y1="426.1" x2="440.3" y2="416.6" stroke="#0b0c09" stroke-width="3.3"/>
<line x1="455.9" y1="426.1" x2="455.9" y2="416.6" stroke="#0b0c09" stroke-width="3.3"/>
<line x1="471.6" y1="426.1" x2="471.6" y2="412.6" stroke="#0b0c09" stroke-width="3.3"/>
<line x1="487.2" y1="426.1" x2="487.2" y2="416.6" stroke="#0b0c09" stroke-width="3.3"/>
<line x1="502.8" y1="426.1" x2="502.8" y2="416.6" stroke="#0b0c09" stroke-width="3.3"/>
<line x1="518.4" y1="426.1" x2="518.4" y2="416.6" stroke="#0b0c09" stroke-width="3.3"/>
<line x1="534" y1="426.1" x2="534" y2="416.6" stroke="#0b0c09" stroke-width="3.3"/>
<line x1="549.6" y1="426.1" x2="549.6" y2="408.6" stroke="#0b0c09" stroke-width="3.3"/>
<text x="551.7" y="453.8" font-size="27.8" text-anchor="middle" font-weight="normal" fill="#0b0c09" transform="matrix(0.9550 0 0 1 24.8 0)">600</text>
<line x1="565.2" y1="426.1" x2="565.2" y2="416.6" stroke="#0b0c09" stroke-width="3.3"/>
<line x1="580.8" y1="426.1" x2="580.8" y2="416.6" stroke="#0b0c09" stroke-width="3.3"/>
<line x1="596.4" y1="426.1" x2="596.4" y2="416.6" stroke="#0b0c09" stroke-width="3.3"/>
<line x1="612" y1="426.1" x2="612" y2="416.6" stroke="#0b0c09" stroke-width="3.3"/>
<line x1="627.6" y1="426.1" x2="627.6" y2="412.6" stroke="#0b0c09" stroke-width="3.3"/>
<line x1="643.3" y1="426.1" x2="643.3" y2="416.6" stroke="#0b0c09" stroke-width="3.3"/>
<line x1="658.9" y1="426.1" x2="658.9" y2="416.6" stroke="#0b0c09" stroke-width="3.3"/>
<line x1="674.5" y1="426.1" x2="674.5" y2="416.6" stroke="#0b0c09" stroke-width="3.3"/>
<line x1="690.1" y1="426.1" x2="690.1" y2="416.6" stroke="#0b0c09" stroke-width="3.3"/>
<line x1="705.7" y1="426.1" x2="705.7" y2="408.6" stroke="#0b0c09" stroke-width="3.3"/>
<text x="707.8" y="453.8" font-size="27.8" text-anchor="middle" font-weight="normal" fill="#0b0c09" transform="matrix(0.9550 0 0 1 31.9 0)">800</text>
<line x1="721.3" y1="426.1" x2="721.3" y2="416.6" stroke="#0b0c09" stroke-width="3.3"/>
<line x1="736.9" y1="426.1" x2="736.9" y2="416.6" stroke="#0b0c09" stroke-width="3.3"/>
<line x1="752.5" y1="426.1" x2="752.5" y2="416.6" stroke="#0b0c09" stroke-width="3.3"/>
<line x1="768.1" y1="426.1" x2="768.1" y2="416.6" stroke="#0b0c09" stroke-width="3.3"/>
<line x1="783.7" y1="426.1" x2="783.7" y2="412.6" stroke="#0b0c09" stroke-width="3.3"/>
<line x1="799.4" y1="426.1" x2="799.4" y2="416.6" stroke="#0b0c09" stroke-width="3.3"/>
<text x="477.8" y="483.7" font-size="33.3" text-anchor="middle" font-weight="normal" fill="#0b0c09">time [s]</text>
<text transform="translate(24.7 202.5) rotate(-90)" font-size="33.5" text-anchor="middle" fill="#0b0c09">Intensity (counts)</text>
<text x="109.6" y="85" font-size="76" text-anchor="start" font-weight="bold" fill="#0b0c09" transform="matrix(0.9250 0 0 1 8.2 0)">a</text>
<text x="217" y="61.5" font-size="50.2" text-anchor="start" font-weight="normal" fill="#0b0c09">in water</text>
<rect x="518.9" y="45.5" width="276.5" height="50.2" fill="#0b0c09"/>
<rect x="515.8" y="42.3" width="276.3" height="50.1" fill="#fff"/>
<rect x="517" y="43.5" width="272.6" height="46.4" fill="#fff" stroke="#0b0c09" stroke-width="2.5"/>
<line x1="526" y1="65.6" x2="578" y2="65.6" stroke="#3550a8" stroke-width="5" stroke-dasharray="3 5.2 5 5.2 5 5.2 5 5.2 5 5.2 5 5.2"/>
<text x="583" y="77.2" font-size="35.2" text-anchor="start" font-weight="normal" fill="#0b0c09">circ. average</text>
<path d="M908.9 314.7 910.3 333.3 911.8 298.7 913.2 315.2 914.7 320.6 916.1 328.2 917.6 300.7 919 327.4 920.5 305.4 921.9 320.6 923.3 313.7 924.8 316.6 926.2 303.6 927.7 298.4 929.1 324.5 930.6 294.7 932 295.3 933.4 289.1 934.9 279 936.3 325.4 937.8 276.5 939.2 325.3 940.7 316.8 942.1 300.2 943.6 284.6 945 288.9 946.4 292.8 947.9 288.8 949.3 313 950.8 298 952.2 247.2 953.7 325.1 955.1 300.4 956.5 293.8 958 304.1 959.4 292.6 960.9 286.1 962.3 290 963.8 286.5 965.2 300.8 966.7 273.7 968.1 290.2 969.5 298.1 971 239.1 972.4 282 973.9 283.8 975.3 304.7 976.8 269.2 978.2 288 979.7 283.3 981.1 255.8 982.5 255 984 277.1 985.4 256 986.9 255 988.3 264.9 989.8 279.2 991.2 255.1 992.6 286.5 994.1 256.4 995.5 259.2 997 280.4 998.4 279.4 999.9 207.3 1001.3 286.8 1002.8 258.7 1004.2 262.6 1005.6 247.9 1007.1 248.8 1008.5 236.8 1010 239.3 1011.4 254.4 1012.9 280.1 1014.3 264.5 1015.8 247.2 1017.2 245.1 1018.6 231.9 1020.1 256.9 1021.5 277.2 1023 268.9 1024.4 253 1025.9 236.8 1027.3 234.1 1028.7 238.5 1030.2 276.5 1031.6 266.7 1033.1 247.3 1034.5 249.2 1036 238.7 1037.4 276.2 1038.9 247.2 1040.3 300.1 1041.7 271 1043.2 256.2 1044.6 261.3 1046.1 237.7 1047.5 255.3 1049 252.3 1050.4 237.9 1051.8 265.2 1053.3 221 1054.7 257.9 1056.2 237.4 1057.6 241.9 1059.1 255.5 1060.5 248.4 1062 244.8 1063.4 260.2 1064.8 207.9 1066.3 268.6 1067.7 258.1 1069.2 235.7 1070.6 246.9 1072.1 237.8 1073.5 285 1075 268.5 1076.4 261.5 1077.8 236.4 1079.3 273.1 1080.7 263.8 1082.2 223.1 1083.6 249.7 1085.1 250.9 1086.5 258.5 1087.9 232.7 1089.4 283.8 1090.8 270.5 1092.3 262.8 1093.7 247.3 1095.2 246 1096.6 280.8 1098.1 245.8 1099.5 262.2 1100.9 189 1102.4 251.8 1103.8 235 1105.3 267.1 1106.7 268 1108.2 281.2 1109.6 255.4 1111 244.4 1112.5 291.8 1113.9 268.7 1115.4 262.4 1116.8 251.2 1118.3 286.3 1119.7 254.1 1121.2 299.6 1122.6 282.8 1124 293.1 1125.5 292 1126.9 268 1128.4 276.4 1129.8 235.7 1131.3 285.3 1132.7 302.5 1134.2 272.7 1135.6 287.2 1137 301.5 1138.5 273.8 1139.9 268.4 1141.4 318.4 1142.8 308.8 1144.3 281.9 1145.7 312 1147.1 274.1 1148.6 303 1150 297.9 1151.5 302.2 1152.9 322.4 1154.4 312.1 1155.8 319.5 1157.3 317.1 1158.7 293.2 1160.1 298.3 1161.6 314.2 1163 309 1164.5 287.5 1165.9 312.7 1167.4 321.8 1168.8 306.3 1170.3 325.2 1171.7 336.8 1173.1 291.2 1174.6 333.9 1176 321.7 1177.5 316.7 1178.9 328.2 1180.4 294.3 1181.8 289.6 1183.2 317.1 1184.7 346.9 1186.1 326 1187.6 351.4 1189 325.7 1190.5 318.3 1191.9 326.4 1193.4 313 1194.8 329.4 1196.2 346.6 1197.7 343.6 1199.1 321.9 1200.6 362.1 1202 339.6 1203.5 356.1 1204.9 307.9 1206.3 357.7 1207.8 369.9 1209.2 336.3 1210.7 332.7 1212.1 354.5 1213.6 351.1 1215 364.4 1216.5 354.3 1217.9 340.3 1219.3 346.5 1220.8 352.3 1222.2 359.6 1223.7 338.9 1225.1 324.6 1226.6 328.7 1228 365 1229.5 351.9 1230.9 362.1 1232.3 358.1 1233.8 348.4 1235.2 310.3 1236.7 344.9 1238.1 352.5 1239.6 359.7 1241 347.3 1242.4 371.2 1243.9 348 1245.3 342.3 1246.8 364.7 1248.2 334.4 1249.7 317.8 1251.1 361.9 1252.6 347 1254 361.5 1255.4 365.6 1256.9 348 1258.3 352.6 1259.8 371.6 1261.2 375.8 1262.7 358.9 1264.1 374.2 1265.5 374.6 1267 364.7 1268.4 365.9 1269.9 356.1 1271.3 330.7 1272.8 371.3 1274.2 342.1 1275.7 373.4 1277.1 362 1278.5 347.3 1280 323 1281.4 375.5 1282.9 340.5 1284.3 360.6 1285.8 359.8 1287.2 354.9 1288.7 334.1 1290.1 322.4 1291.5 353.2 1293 368.3 1294.4 371.8 1295.9 384.4 1297.3 381.1 1298.8 353.1 1300.2 379.7 1301.6 378.4 1303.1 372.4 1304.5 373.2 1306 375.3 1307.4 377.1 1308.9 373.7 1310.3 348.9 1311.8 356 1313.2 364.2 1314.6 374.3 1316.1 367.1 1317.5 364.8 1319 376.6 1320.4 380.7 1321.9 368 1323.3 376.7 1324.8 378.3 1326.2 371.6 1327.6 371.5 1329.1 380.5 1330.5 352.5 1332 366 1333.4 372.9 1334.9 363.8 1336.3 354 1337.7 370.4 1339.2 393.1 1340.6 386.6 1342.1 375.9 1343.5 372.6 1345 356.7 1346.4 366.6 1347.9 376.4 1349.3 365.6 1350.7 380 1352.2 364.9 1353.6 387.9 1355.1 359.3 1356.5 375.9 1358 366.7 1359.4 377.7 1360.8 388.8 1362.3 380.7 1363.7 377.3 1365.2 375.2 1366.6 376.4 1368.1 373.7 1369.5 383 1371 392.7 1372.4 384.9 1373.8 391.1 1375.3 382.5 1376.7 382.3 1378.2 379 1379.6 384 1381.1 373.4 1382.5 372.3 1384 371 1385.4 374.2 1386.8 370.4 1388.3 367.7 1389.7 376.8 1391.2 395.4 1392.6 386.7 1394.1 361.7 1395.5 394.3 1396.9 380.1 1398.4 384.3 1399.8 362.8 1401.3 372.9 1402.7 380.6 1404.2 378.8 1405.6 392.2 1407.1 357.2 1408.5 368.5 1409.9 385.6 1411.4 384.6 1412.8 373.7 1414.3 384.2 1415.7 386.6 1417.2 370.7 1418.6 378.8 1420 374.4 1421.5 367.7 1422.9 384.7 1424.4 361.2 1425.8 366.1 1427.3 386.6 1428.7 390.4 1430.2 379.3 1431.6 375.9 1433 385.3 1434.5 382.5 1435.9 381.9 1437.4 383.1 1438.8 376.4 1440.3 361.6 1441.7 354.4 1443.2 385 1444.6 381.2 1446 385.7 1447.5 381.8 1448.9 384.4 1450.4 366.3 1451.8 368.9 1453.3 385 1454.7 367 1456.1 386 1457.6 380.7 1459 375.7 1460.5 384.3 1461.9 388.5 1463.4 379.8 1464.8 373.6 1466.3 382.7 1467.7 362 1469.1 373 1470.6 386.4 1472 376.1 1473.5 385 1474.9 378.9 1476.4 376 1477.8 377.4 1479.3 365 1480.7 379.7 1482.1 378.3 1483.6 385.8 1485 395.5 1486.5 390.3 1487.9 384.1 1489.4 401.6 1490.8 384.6 1492.2 381.2 1493.7 373.1 1495.1 380.3 1496.6 373.4 1498 384.3 1499.5 389.2 1500.9 381.3 1502.4 393.6 1503.8 373.8 1505.2 394.1 1506.7 372.9 1508.1 390 1509.6 391.1 1511 395.4 1512.5 390.1 1513.9 386.8 1515.3 398 1516.8 400.6 1518.2 390 1519.7 398.6 1521.1 384.3 1522.6 376.4 1524 391.6 1525.5 355.1 1526.9 385.7 1528.3 396.3 1529.8 370.8 1531.2 382.9 1532.7 392.5 1534.1 390 1535.6 375.5 1537 370.7 1538.5 387.7 1539.9 396.8 1541.3 394.5 1542.8 384.1 1544.2 388.6 1545.7 386.6 1547.1 386.3 1548.6 373.3 1550 390.9 1551.4 391 1552.9 403.2 1554.3 393.2 1555.8 401.7 1557.2 397.2 1558.7 390.6 1560.1 394.9 1561.6 392 1563 404.2 1564.4 395.6 1565.9 389.9 1567.3 390.5 1568.8 387.3 1570.2 395.6 1571.7 385.7 1573.1 394.6 1574.5 393.5 1576 382.4 1577.4 375.8 1578.9 381.7 1580.3 398 1581.8 394.6 1583.2 395.4 1584.7 391.3 1586.1 375.9 1587.5 379.1 1589 399 1590.4 390.3 1591.9 389.9 1593.3 396.8 1594.8 395.8 1596.2 382.5 1597.7 392.9 1599.1 394 1600.5 396.4 1602 407.8 1603.4 395.4 1604.9 385.7 1606.3 371 1607.8 364.1 1609.2 398.3 1610.6 394.5 1612.1 397.7 1613.5 392.3 1615 401 1616.4 393.1 1617.9 388.9 1619.3 388.7 1620.8 390.9 1622.2 385.5 1623.6 395.7 1625.1 398.2 1626.5 396.2 1628 397.7" fill="none" stroke="#7d7a80" stroke-width="2.5" stroke-linejoin="bevel"/>
<path d="M908.9 270.5 910.3 275.3 911.8 283.8 913.2 258.7 914.7 256.4 916.1 277.8 917.6 268.7 919 275.3 920.5 276 921.9 228.6 923.3 252.8 924.8 237.9 926.2 238.9 927.7 240.6 929.1 254.3 930.6 253.1 932 229.2 933.4 212.4 934.9 253 936.3 242.7 937.8 228.1 939.2 203.6 940.7 206.6 942.1 199.8 943.6 206.1 945 223.4 946.4 210.3 947.9 182.2 949.3 195.4 950.8 216.9 952.2 172.9 953.7 182.3 955.1 176.5 956.5 150.3 958 191 959.4 195.6 960.9 220.9 962.3 181.9 963.8 166.3 965.2 173.6 966.7 171.8 968.1 154 969.5 162.2 971 163.8 972.4 173.2 973.9 174.3 975.3 155.2 976.8 174.1 978.2 182.4 979.7 184 981.1 171.5 982.5 159.5 984 147.1 985.4 147.8 986.9 151.5 988.3 170.7 989.8 130 991.2 152.1 992.6 136.7 994.1 105.3 995.5 117.5 997 136.4 998.4 106.6 999.9 119.2 1001.3 122 1002.8 84.9 1004.2 90.5 1005.6 49.1 1007.1 116.5 1008.5 102.6 1010 90.4 1011.4 68.1 1012.9 97.2 1014.3 63.3 1015.8 90.8 1017.2 112.5 1018.6 105 1020.1 103 1021.5 105.6 1023 116 1024.4 110.3 1025.9 86 1027.3 85.4 1028.7 63.8 1030.2 118.6 1031.6 129.1 1033.1 66.6 1034.5 94.9 1036 95.7 1037.4 118.6 1038.9 94.8 1040.3 96.8 1041.7 95.8 1043.2 69.5 1044.6 110.3 1046.1 98.4 1047.5 135.7 1049 101 1050.4 128.9 1051.8 76.3 1053.3 135.5 1054.7 81.1 1056.2 122.2 1057.6 139.1 1059.1 104.9 1060.5 98.5 1062 118.9 1063.4 127.6 1064.8 150.1 1066.3 119.2 1067.7 104.2 1069.2 148.9 1070.6 116.9 1072.1 85 1073.5 150 1075 118.1 1076.4 118.2 1077.8 144.3 1079.3 133.6 1080.7 162.2 1082.2 141.3 1083.6 114.2 1085.1 148.7 1086.5 157 1087.9 181 1089.4 112.4 1090.8 102.3 1092.3 147.6 1093.7 142.8 1095.2 148.6 1096.6 124.2 1098.1 177.8 1099.5 147 1100.9 196.3 1102.4 155.5 1103.8 177.9 1105.3 144.1 1106.7 154.9 1108.2 177.5 1109.6 182.8 1111 191.6 1112.5 142 1113.9 149.3 1115.4 183.8 1116.8 202.5 1118.3 177.5 1119.7 185.9 1121.2 198.5 1122.6 193.2 1124 185.4 1125.5 198.7 1126.9 191.7 1128.4 203.8 1129.8 203.1 1131.3 218.5 1132.7 200.9 1134.2 212.4 1135.6 224 1137 220.6 1138.5 229.7 1139.9 233.1 1141.4 225.4 1142.8 221.8 1144.3 262.1 1145.7 250.5 1147.1 248.9 1148.6 269.2 1150 253.8 1151.5 265.4 1152.9 274 1154.4 292.3 1155.8 292.8 1157.3 275.9 1158.7 251.2 1160.1 282.5 1161.6 307.7 1163 271.6 1164.5 283.2 1165.9 272.6 1167.4 297 1168.8 282.5 1170.3 289.4 1171.7 311.1 1173.1 305.1 1174.6 300.3 1176 313.2 1177.5 291.3 1178.9 310.3 1180.4 298.7 1181.8 312.8 1183.2 304.9 1184.7 304.1 1186.1 330.6 1187.6 315.9 1189 301.7 1190.5 312.3 1191.9 289.7 1193.4 289.1 1194.8 315.2 1196.2 307.7 1197.7 302.7 1199.1 317.1 1200.6 290.5 1202 299.3 1203.5 309.7 1204.9 320.7 1206.3 322.4 1207.8 321.1 1209.2 302.9 1210.7 319.7 1212.1 300.8 1213.6 277.8 1215 322 1216.5 321.2 1217.9 302.6 1219.3 312.7 1220.8 328.6 1222.2 323.9 1223.7 325.1 1225.1 318.6 1226.6 337.6 1228 336.1 1229.5 336.9 1230.9 334.2 1232.3 342.2 1233.8 356.5 1235.2 358.8 1236.7 335.9 1238.1 350.9 1239.6 347.9 1241 349.2 1242.4 346.8 1243.9 337 1245.3 350.4 1246.8 345.3 1248.2 348.4 1249.7 352 1251.1 365 1252.6 362 1254 349.4 1255.4 359.5 1256.9 361 1258.3 360.8 1259.8 368.2 1261.2 366.3 1262.7 357.7 1264.1 365.8 1265.5 369.8 1267 353.9 1268.4 350.8 1269.9 358.9 1271.3 367.5 1272.8 351.5 1274.2 355 1275.7 371.7 1277.1 369.5 1278.5 373.3 1280 378.1 1281.4 353.2 1282.9 348.3 1284.3 377.8 1285.8 361.6 1287.2 366 1288.7 363.5 1290.1 358.8 1291.5 358.6 1293 366.5 1294.4 372.3 1295.9 364 1297.3 352.4 1298.8 377.6 1300.2 376.9 1301.6 373.3 1303.1 378.1 1304.5 376 1306 366 1307.4 369.6 1308.9 374.8 1310.3 374.9 1311.8 380.5 1313.2 370.6 1314.6 379.4 1316.1 384.6 1317.5 382.2 1319 378.8 1320.4 366.8 1321.9 378.4 1323.3 382.5 1324.8 362.4 1326.2 378.5 1327.6 369.8 1329.1 375.8 1330.5 375.2 1332 387.4 1333.4 379.4 1334.9 384.3 1336.3 388.8 1337.7 380.1 1339.2 383 1340.6 381.6 1342.1 375 1343.5 394.5 1345 382.7 1346.4 392.3 1347.9 394 1349.3 385.3 1350.7 387.1 1352.2 396.5 1353.6 386.9 1355.1 383.8 1356.5 375.8 1358 376.7 1359.4 384.6 1360.8 394 1362.3 387.9 1363.7 383.2 1365.2 381 1366.6 378.8 1368.1 384.3 1369.5 383.3 1371 389.2 1372.4 388.9 1373.8 383.3 1375.3 380 1376.7 393 1378.2 390.4 1379.6 388.6 1381.1 382.7 1382.5 386.2 1384 366.7 1385.4 383.5 1386.8 390.4 1388.3 388.2 1389.7 389.8 1391.2 387.7 1392.6 384.5 1394.1 375.3 1395.5 374.7 1396.9 381.2 1398.4 392 1399.8 384 1401.3 390.8 1402.7 387.6 1404.2 383.4 1405.6 386.3 1407.1 370 1408.5 384.6 1409.9 388.3 1411.4 388.1 1412.8 380.1 1414.3 394.9 1415.7 390.4 1417.2 393.4 1418.6 389.3 1420 396.4 1421.5 389.9 1422.9 381.2 1424.4 390.9 1425.8 380.3 1427.3 390.8 1428.7 389 1430.2 394.3 1431.6 385.3 1433 384.5 1434.5 386.7 1435.9 381.8 1437.4 390.5 1438.8 375.5 1440.3 386.1 1441.7 393 1443.2 391.1 1444.6 389.5 1446 395.6 1447.5 395.8 1448.9 378.9 1450.4 385 1451.8 382.3 1453.3 370.1 1454.7 382.9 1456.1 393.4 1457.6 384.7 1459 393.3 1460.5 382.5 1461.9 384.9 1463.4 381.5 1464.8 394.1 1466.3 399.7 1467.7 389.8 1469.1 385.6 1470.6 389.8 1472 392.9 1473.5 393.2 1474.9 393.6 1476.4 387.6 1477.8 398 1479.3 393.6 1480.7 387.6 1482.1 390.8 1483.6 394 1485 394 1486.5 389.1 1487.9 386.2 1489.4 398.7 1490.8 376.9 1492.2 387.6 1493.7 391.3 1495.1 397.3 1496.6 396.4 1498 387.6 1499.5 388.7 1500.9 400.7 1502.4 397.9 1503.8 393.8 1505.2 397.4 1506.7 380.2 1508.1 383.2 1509.6 393.8 1511 400.1 1512.5 392.7 1513.9 394.5 1515.3 395.1 1516.8 398.7 1518.2 389.2 1519.7 392.3 1521.1 385.1 1522.6 386.5 1524 394.2 1525.5 392 1526.9 396.1 1528.3 392.4 1529.8 397.7 1531.2 389.4 1532.7 402.3 1534.1 392.2 1535.6 392.9 1537 388.3 1538.5 397.4 1539.9 392.6 1541.3 389.1 1542.8 393.1 1544.2 392.2 1545.7 393.2 1547.1 395.4 1548.6 396.1 1550 400.6 1551.4 393 1552.9 393.1 1554.3 382.9 1555.8 396.6 1557.2 383.5 1558.7 385.1 1560.1 403.1 1561.6 395.2 1563 385.2 1564.4 392.8 1565.9 389.1 1567.3 387 1568.8 396.9 1570.2 391.6 1571.7 394.2 1573.1 385.8 1574.5 404 1576 397.3 1577.4 399.9 1578.9 395.7 1580.3 392 1581.8 392.5 1583.2 394.5 1584.7 389 1586.1 397.8 1587.5 389.5 1589 393.4 1590.4 400.4 1591.9 394 1593.3 392.5 1594.8 393.8 1596.2 400.5 1597.7 395.5 1599.1 380.7 1600.5 379.9 1602 398.2 1603.4 396.3 1604.9 397.9 1606.3 402.1 1607.8 402.8 1609.2 397 1610.6 388 1612.1 388.9 1613.5 386.8 1615 381.1 1616.4 397.7 1617.9 397.1 1619.3 403 1620.8 398.5 1622.2 394.2 1623.6 388.8 1625.1 400.8 1626.5 399.9 1628 397.7" fill="none" stroke="#81d1e7" stroke-width="2.5" stroke-linejoin="bevel"/>
<path d="M908.9 356.3 910.3 357 911.8 342.6 913.2 367.6 914.7 348.2 916.1 372.2 917.6 360.2 919 358.9 920.5 341.7 921.9 354.3 923.3 362.3 924.8 338.5 926.2 330 927.7 358.6 929.1 344.1 930.6 355.2 932 348.3 933.4 345.2 934.9 361.3 936.3 347.4 937.8 357.5 939.2 356.9 940.7 350.1 942.1 364.2 943.6 360.2 945 339.5 946.4 330 947.9 324.7 949.3 341.4 950.8 326.8 952.2 309.9 953.7 313.4 955.1 348 956.5 354.3 958 328.6 959.4 311 960.9 327.3 962.3 313.7 963.8 321.9 965.2 321.5 966.7 318.8 968.1 318 969.5 325.6 971 288.4 972.4 298.4 973.9 320.9 975.3 318 976.8 326.5 978.2 304.1 979.7 327.2 981.1 313.5 982.5 293.1 984 292.3 985.4 290.7 986.9 316.3 988.3 288.1 989.8 298.1 991.2 272.7 992.6 296.3 994.1 262.8 995.5 281.1 997 275.9 998.4 293.6 999.9 294.6 1001.3 293.2 1002.8 267.6 1004.2 288.4 1005.6 283.9 1007.1 258.4 1008.5 266.1 1010 279.3 1011.4 269.8 1012.9 295.1 1014.3 297.9 1015.8 265.2 1017.2 210.6 1018.6 217.7 1020.1 206.7 1021.5 245.4 1023 268.3 1024.4 237.2 1025.9 272.3 1027.3 292.6 1028.7 244.6 1030.2 220.9 1031.6 221.5 1033.1 199.1 1034.5 212 1036 221.2 1037.4 248.1 1038.9 232.6 1040.3 249.2 1041.7 234.9 1043.2 182.2 1044.6 213.4 1046.1 212.5 1047.5 233.1 1049 160.4 1050.4 250.2 1051.8 239.5 1053.3 199.1 1054.7 228.7 1056.2 231.9 1057.6 205 1059.1 194.9 1060.5 194 1062 225 1063.4 193.9 1064.8 229.6 1066.3 226.9 1067.7 227 1069.2 198.9 1070.6 208.7 1072.1 220.7 1073.5 200.6 1075 218 1076.4 208 1077.8 201 1079.3 203.8 1080.7 211.3 1082.2 215.2 1083.6 162.7 1085.1 221.6 1086.5 177.5 1087.9 193.6 1089.4 191.2 1090.8 210.3 1092.3 174 1093.7 178.4 1095.2 137.8 1096.6 168.7 1098.1 180.7 1099.5 181.7 1100.9 128.7 1102.4 128.6 1103.8 148.9 1105.3 98.9 1106.7 128.4 1108.2 144.2 1109.6 124.9 1111 160.1 1112.5 135 1113.9 159 1115.4 118.5 1116.8 109.1 1118.3 124.4 1119.7 92.7 1121.2 132 1122.6 102.9 1124 115.9 1125.5 141.7 1126.9 98.9 1128.4 64.3 1129.8 34.5 1131.3 98.8 1132.7 96.9 1134.2 61.7 1135.6 130.4 1137 70.8 1138.5 144.3 1139.9 140.2 1141.4 116.9 1142.8 117.3 1144.3 81.5 1145.7 128.9 1147.1 110.7 1148.6 113.5 1150 100.2 1151.5 85.9 1152.9 74.5 1154.4 89.1 1155.8 88.4 1157.3 96.3 1158.7 136 1160.1 145.6 1161.6 93.3 1163 129.7 1164.5 119.7 1165.9 93 1167.4 104.5 1168.8 116.9 1170.3 120.9 1171.7 97.9 1173.1 55.5 1174.6 132.8 1176 104.8 1177.5 67.5 1178.9 80.7 1180.4 103.3 1181.8 88.4 1183.2 75.8 1184.7 58.6 1186.1 125.7 1187.6 116.6 1189 87.6 1190.5 80.9 1191.9 86.3 1193.4 83.5 1194.8 71.3 1196.2 82.6 1197.7 22.7 1199.1 109.2 1200.6 111.4 1202 138.9 1203.5 92.7 1204.9 97.2 1206.3 108.1 1207.8 133.1 1209.2 53.6 1210.7 86.9 1212.1 79.3 1213.6 133.3 1215 97.8 1216.5 88.4 1217.9 52.1 1219.3 80 1220.8 69.4 1222.2 135.2 1223.7 111.5 1225.1 102.8 1226.6 108.3 1228 115.5 1229.5 118.7 1230.9 78.2 1232.3 120.8 1233.8 96.9 1235.2 96.1 1236.7 123.9 1238.1 115.6 1239.6 173.3 1241 141.9 1242.4 95.7 1243.9 136.2 1245.3 174.8 1246.8 111.5 1248.2 161 1249.7 104.9 1251.1 136.2 1252.6 171.3 1254 164.3 1255.4 110.2 1256.9 141.4 1258.3 153.8 1259.8 151.9 1261.2 161.8 1262.7 175.9 1264.1 150.8 1265.5 128.7 1267 163.2 1268.4 132.7 1269.9 144 1271.3 207.1 1272.8 168.8 1274.2 150.5 1275.7 224.1 1277.1 205.9 1278.5 183.9 1280 212.4 1281.4 199.7 1282.9 207.6 1284.3 222.7 1285.8 210.2 1287.2 216.3 1288.7 211.1 1290.1 211.8 1291.5 226.5 1293 231.9 1294.4 230.2 1295.9 208.9 1297.3 237.5 1298.8 193.4 1300.2 235.9 1301.6 182.7 1303.1 224.5 1304.5 234.8 1306 239 1307.4 221.1 1308.9 226.6 1310.3 249.3 1311.8 233 1313.2 226 1314.6 231.9 1316.1 210.4 1317.5 279.4 1319 250.1 1320.4 254.8 1321.9 235.8 1323.3 203 1324.8 268 1326.2 267.6 1327.6 259.3 1329.1 237.7 1330.5 235.2 1332 270.7 1333.4 248.1 1334.9 264.9 1336.3 248.7 1337.7 267 1339.2 262.9 1340.6 274.4 1342.1 292.7 1343.5 297.9 1345 277.6 1346.4 297.3 1347.9 305.9 1349.3 297.5 1350.7 287.6 1352.2 285.7 1353.6 309 1355.1 304.9 1356.5 294.3 1358 313.4 1359.4 291.7 1360.8 303.9 1362.3 323.5 1363.7 303.2 1365.2 316 1366.6 288.2 1368.1 314.8 1369.5 291.5 1371 274.6 1372.4 305.4 1373.8 310.6 1375.3 324.8 1376.7 320.2 1378.2 309.6 1379.6 287.5 1381.1 299.7 1382.5 332.6 1384 306.1 1385.4 333 1386.8 298 1388.3 304.7 1389.7 317.7 1391.2 342.8 1392.6 321.9 1394.1 337.4 1395.5 340.2 1396.9 332.8 1398.4 350.1 1399.8 332 1401.3 325.6 1402.7 317.2 1404.2 337.5 1405.6 338.3 1407.1 312.1 1408.5 310.3 1409.9 350.1 1411.4 326.7 1412.8 317.1 1414.3 341.1 1415.7 321.8 1417.2 338.1 1418.6 342.6 1420 353.8 1421.5 323 1422.9 351.6 1424.4 369.6 1425.8 364.2 1427.3 356.8 1428.7 362.9 1430.2 331.1 1431.6 359 1433 357.7 1434.5 352.6 1435.9 345.8 1437.4 368.5 1438.8 375 1440.3 369.6 1441.7 353.6 1443.2 362.3 1444.6 353.5 1446 367.6 1447.5 350 1448.9 356.4 1450.4 360 1451.8 355.2 1453.3 357 1454.7 358.5 1456.1 376 1457.6 360.9 1459 363.8 1460.5 357.8 1461.9 359.7 1463.4 367.2 1464.8 359.2 1466.3 344.4 1467.7 356.2 1469.1 363.8 1470.6 364 1472 353.8 1473.5 372.2 1474.9 367.8 1476.4 371.7 1477.8 382 1479.3 362.8 1480.7 358.4 1482.1 372.1 1483.6 372.5 1485 364.9 1486.5 349.4 1487.9 370.8 1489.4 348.5 1490.8 354 1492.2 387.3 1493.7 376.8 1495.1 369.5 1496.6 376.6 1498 364 1499.5 370.7 1500.9 370 1502.4 378 1503.8 391 1505.2 376.1 1506.7 386.8 1508.1 371.5 1509.6 375.9 1511 345.3 1512.5 372.5 1513.9 393.1 1515.3 356.9 1516.8 373.5 1518.2 368.1 1519.7 364.9 1521.1 388.3 1522.6 391.2 1524 376.6 1525.5 391.2 1526.9 397.6 1528.3 391.6 1529.8 387.6 1531.2 379.9 1532.7 389.2 1534.1 391.9 1535.6 383.5 1537 385 1538.5 379.2 1539.9 395 1541.3 366.3 1542.8 393.6 1544.2 377.6 1545.7 376.9 1547.1 391.8 1548.6 388.2 1550 391.2 1551.4 381.8 1552.9 377.5 1554.3 386.1 1555.8 385.1 1557.2 392.2 1558.7 381.5 1560.1 380.6 1561.6 388.4 1563 394.7 1564.4 379 1565.9 393.6 1567.3 392.3 1568.8 393.9 1570.2 386.2 1571.7 388 1573.1 397 1574.5 392.9 1576 393.2 1577.4 380.6 1578.9 360.4 1580.3 367.2 1581.8 367.6 1583.2 369.7 1584.7 390.5 1586.1 391.6 1587.5 397.3 1589 380.8 1590.4 385.9 1591.9 395.4 1593.3 385.6 1594.8 389.2 1596.2 380.7 1597.7 390.4 1599.1 394.3 1600.5 390.4 1602 390.8 1603.4 382.5 1604.9 391.9 1606.3 394 1607.8 390.1 1609.2 399.1 1610.6 395.8 1612.1 385.8 1613.5 397.3 1615 383.4 1616.4 395.4 1617.9 394.3 1619.3 388.4 1620.8 391.1 1622.2 400.5 1623.6 403.3 1625.1 393 1626.5 399.6 1628 396.4" fill="none" stroke="#a0ce00" stroke-width="2.5" stroke-linejoin="bevel"/>
<path d="M908.9 324.1 910.3 312.6 911.8 342.4 913.2 344.1 914.7 350.8 916.1 344.2 917.6 350.5 919 315.3 920.5 367.7 921.9 337.5 923.3 357.9 924.8 352 926.2 313 927.7 361.5 929.1 349.4 930.6 364 932 333.8 933.4 361 934.9 336.3 936.3 354.4 937.8 313.4 939.2 375.9 940.7 308.2 942.1 337 943.6 368.1 945 374.6 946.4 347.6 947.9 354.6 949.3 358.1 950.8 320.8 952.2 345 953.7 371.3 955.1 330.3 956.5 343.6 958 344.9 959.4 345 960.9 347.6 962.3 358.8 963.8 349 965.2 372.5 966.7 352.8 968.1 372.4 969.5 351.1 971 360 972.4 347.5 973.9 357.2 975.3 354.9 976.8 358.8 978.2 350.9 979.7 318.8 981.1 331.2 982.5 322.6 984 356.5 985.4 327.2 986.9 330.7 988.3 354.1 989.8 358.4 991.2 348.4 992.6 353.7 994.1 334.1 995.5 338.9 997 352.9 998.4 369.9 999.9 349.8 1001.3 364.9 1002.8 349 1004.2 344.5 1005.6 342.4 1007.1 343.2 1008.5 358.3 1010 356.6 1011.4 374.3 1012.9 344.2 1014.3 333.7 1015.8 347.1 1017.2 362.6 1018.6 346.1 1020.1 357.7 1021.5 353.2 1023 320.2 1024.4 349 1025.9 361.5 1027.3 346.8 1028.7 354.2 1030.2 367.4 1031.6 354.4 1033.1 339.4 1034.5 359.4 1036 336.7 1037.4 357.3 1038.9 372.2 1040.3 354.7 1041.7 366.7 1043.2 345.8 1044.6 363.5 1046.1 358.5 1047.5 362.1 1049 354.2 1050.4 347.8 1051.8 353.7 1053.3 369.7 1054.7 341.8 1056.2 342.3 1057.6 372.4 1059.1 338.2 1060.5 355.6 1062 349.3 1063.4 341.2 1064.8 325.9 1066.3 346.6 1067.7 352.6 1069.2 346.2 1070.6 339 1072.1 364.1 1073.5 358.4 1075 352.4 1076.4 357.6 1077.8 352.6 1079.3 347 1080.7 348.3 1082.2 329.1 1083.6 353.9 1085.1 342.2 1086.5 342.8 1087.9 319.2 1089.4 301 1090.8 347.8 1092.3 346 1093.7 352.6 1095.2 347.3 1096.6 348.4 1098.1 353.1 1099.5 359.1 1100.9 354.6 1102.4 372 1103.8 331.4 1105.3 356.2 1106.7 367.1 1108.2 336.5 1109.6 348.5 1111 313.6 1112.5 357.1 1113.9 341.3 1115.4 354.5 1116.8 344 1118.3 353.3 1119.7 347.6 1121.2 351.3 1122.6 349 1124 316.3 1125.5 338.3 1126.9 324 1128.4 345.6 1129.8 327.7 1131.3 353.2 1132.7 351.7 1134.2 325.2 1135.6 338.1 1137 362.5 1138.5 342.9 1139.9 347.5 1141.4 327.8 1142.8 332.5 1144.3 321.9 1145.7 330.4 1147.1 345 1148.6 357.8 1150 351.1 1151.5 346.9 1152.9 363.7 1154.4 330 1155.8 355 1157.3 324.9 1158.7 322.7 1160.1 291 1161.6 319.8 1163 337.1 1164.5 332.1 1165.9 313.1 1167.4 295.2 1168.8 336.5 1170.3 306.7 1171.7 296.3 1173.1 344.4 1174.6 356.4 1176 359.4 1177.5 340.4 1178.9 298.8 1180.4 335.8 1181.8 353 1183.2 312.4 1184.7 356.6 1186.1 349.7 1187.6 316.3 1189 313.1 1190.5 341.7 1191.9 305.9 1193.4 326.3 1194.8 306.9 1196.2 303.7 1197.7 292.2 1199.1 294.1 1200.6 329.2 1202 323.2 1203.5 313.6 1204.9 322.2 1206.3 314.2 1207.8 310.2 1209.2 295.1 1210.7 274.3 1212.1 306.3 1213.6 300.3 1215 346.2 1216.5 323.5 1217.9 314.2 1219.3 313 1220.8 317.9 1222.2 305.1 1223.7 321.9 1225.1 321.7 1226.6 313.5 1228 282.9 1229.5 300.6 1230.9 322.1 1232.3 332.1 1233.8 318 1235.2 311.2 1236.7 323.5 1238.1 308.9 1239.6 284.2 1241 290.4 1242.4 273.6 1243.9 303.2 1245.3 270.1 1246.8 278.1 1248.2 281.5 1249.7 306.2 1251.1 314 1252.6 306.3 1254 297.6 1255.4 328.2 1256.9 327.7 1258.3 314.6 1259.8 288.2 1261.2 294.5 1262.7 265.2 1264.1 307.8 1265.5 312.2 1267 283.9 1268.4 289.8 1269.9 257.6 1271.3 282.7 1272.8 280 1274.2 294 1275.7 278.6 1277.1 288 1278.5 294.4 1280 288.1 1281.4 296.4 1282.9 299.4 1284.3 286.5 1285.8 259.2 1287.2 275.7 1288.7 261.8 1290.1 284.4 1291.5 302.2 1293 276.5 1294.4 303.6 1295.9 307.1 1297.3 286.5 1298.8 323.1 1300.2 302.9 1301.6 296.4 1303.1 241.6 1304.5 265.3 1306 284.7 1307.4 306.3 1308.9 250.2 1310.3 286.7 1311.8 314.1 1313.2 245.5 1314.6 266.5 1316.1 277.2 1317.5 258.2 1319 277.9 1320.4 263.3 1321.9 277.6 1323.3 255.3 1324.8 251.2 1326.2 279.6 1327.6 303.2 1329.1 294.1 1330.5 243 1332 308.2 1333.4 284.4 1334.9 298.2 1336.3 292.1 1337.7 291.8 1339.2 283.7 1340.6 288.1 1342.1 262.9 1343.5 291.2 1345 304.4 1346.4 305.3 1347.9 289.3 1349.3 321.3 1350.7 285.2 1352.2 266.9 1353.6 312.7 1355.1 280.3 1356.5 254.1 1358 266.2 1359.4 281.5 1360.8 301.2 1362.3 270.9 1363.7 279 1365.2 268.8 1366.6 267.8 1368.1 277.6 1369.5 288.3 1371 280.8 1372.4 299.7 1373.8 268.4 1375.3 256.2 1376.7 282.2 1378.2 296.2 1379.6 278.1 1381.1 294.6 1382.5 278.1 1384 263.6 1385.4 290 1386.8 321.7 1388.3 261.8 1389.7 273.7 1391.2 291.4 1392.6 303.1 1394.1 289.9 1395.5 254.9 1396.9 300.5 1398.4 281.3 1399.8 267.8 1401.3 281.2 1402.7 302.5 1404.2 230.8 1405.6 254.1 1407.1 278 1408.5 276.7 1409.9 275.2 1411.4 291.8 1412.8 261.6 1414.3 249.6 1415.7 281.6 1417.2 282.9 1418.6 273.8 1420 291.6 1421.5 283.5 1422.9 269.1 1424.4 321 1425.8 296.6 1427.3 278.8 1428.7 314.4 1430.2 302.7 1431.6 226.1 1433 267.7 1434.5 272.3 1435.9 296.8 1437.4 278.2 1438.8 302.9 1440.3 335.2 1441.7 280.9 1443.2 307.5 1444.6 311.5 1446 284.8 1447.5 293.9 1448.9 284 1450.4 260.4 1451.8 277.1 1453.3 299.7 1454.7 311.9 1456.1 307.5 1457.6 302.9 1459 293.7 1460.5 298.5 1461.9 303.4 1463.4 302.1 1464.8 305.8 1466.3 295.1 1467.7 292.3 1469.1 289.9 1470.6 285.1 1472 307.1 1473.5 289.3 1474.9 304 1476.4 309.1 1477.8 289.1 1479.3 300 1480.7 338.8 1482.1 329.7 1483.6 309.3 1485 341.7 1486.5 346.1 1487.9 341.1 1489.4 302.7 1490.8 341.6 1492.2 331.3 1493.7 320.5 1495.1 323.5 1496.6 339.2 1498 358.3 1499.5 307.4 1500.9 310.3 1502.4 361.1 1503.8 316.5 1505.2 324.5 1506.7 337.2 1508.1 333.8 1509.6 337.9 1511 318.3 1512.5 338 1513.9 339.8 1515.3 334.1 1516.8 365.6 1518.2 354.6 1519.7 353.8 1521.1 359.5 1522.6 324.6 1524 341.9 1525.5 361 1526.9 356.1 1528.3 342.8 1529.8 350 1531.2 354.1 1532.7 332.2 1534.1 348.8 1535.6 319 1537 356.5 1538.5 348.1 1539.9 354.1 1541.3 351.9 1542.8 343.4 1544.2 331.9 1545.7 346.8 1547.1 359.2 1548.6 369.4 1550 374.5 1551.4 342.9 1552.9 351.6 1554.3 338.3 1555.8 341.5 1557.2 362 1558.7 357 1560.1 343.3 1561.6 350.3 1563 365.1 1564.4 355.2 1565.9 369.6 1567.3 368.3 1568.8 344.3 1570.2 361.3 1571.7 383.7 1573.1 369.4 1574.5 365.9 1576 338.8 1577.4 373.5 1578.9 354.9 1580.3 359.5 1581.8 353.8 1583.2 355.1 1584.7 355.7 1586.1 369.3 1587.5 352.1 1589 319.8 1590.4 363.5 1591.9 369.6 1593.3 370.9 1594.8 386.3 1596.2 366 1597.7 380.8 1599.1 370 1600.5 368.7 1602 377.7 1603.4 374.4 1604.9 384.5 1606.3 376.8 1607.8 387.7 1609.2 367.5 1610.6 362.6 1612.1 382.6 1613.5 396 1615 387.9 1616.4 372.3 1617.9 384.6 1619.3 384 1620.8 381.8 1622.2 363.2 1623.6 379 1625.1 387 1626.5 385.6 1628 376" fill="none" stroke="#be60c4" stroke-width="2.5" stroke-linejoin="bevel"/>
<path d="M908.9 233.4 910.3 271 911.8 265.2 913.2 275.3 914.7 276.4 916.1 281.3 917.6 243.1 919 242.1 920.5 276.6 921.9 247.6 923.3 235.1 924.8 206.1 926.2 226 927.7 247.8 929.1 262.7 930.6 238.7 932 222.8 933.4 230.9 934.9 251.9 936.3 247.8 937.8 282.8 939.2 252.6 940.7 231.1 942.1 260.4 943.6 260.8 945 238.9 946.4 262.3 947.9 231.2 949.3 257.2 950.8 247.7 952.2 276.7 953.7 264.7 955.1 240 956.5 297.1 958 254.5 959.4 311.6 960.9 287.4 962.3 270.3 963.8 290.8 965.2 278 966.7 257.2 968.1 274.7 969.5 313.8 971 273.1 972.4 263 973.9 280 975.3 284.9 976.8 285.9 978.2 314.2 979.7 300.1 981.1 260.3 982.5 270.1 984 280.1 985.4 302.8 986.9 305.2 988.3 290.8 989.8 299.2 991.2 302.7 992.6 313.7 994.1 299.5 995.5 318.6 997 314.9 998.4 297.6 999.9 338.1 1001.3 311.4 1002.8 331.5 1004.2 351.3 1005.6 340.8 1007.1 339.7 1008.5 310.4 1010 306.8 1011.4 283.6 1012.9 329.4 1014.3 331.8 1015.8 328.8 1017.2 299.4 1018.6 310.7 1020.1 322 1021.5 335.2 1023 289.8 1024.4 343.4 1025.9 331.9 1027.3 330.8 1028.7 319.6 1030.2 347.1 1031.6 313.4 1033.1 333.9 1034.5 348.4 1036 347.9 1037.4 341 1038.9 347.9 1040.3 329.6 1041.7 353.3 1043.2 339 1044.6 312.3 1046.1 338 1047.5 331.3 1049 333.5 1050.4 368.3 1051.8 335.6 1053.3 351.2 1054.7 340.2 1056.2 335.4 1057.6 345 1059.1 350.3 1060.5 368.4 1062 346.6 1063.4 353.8 1064.8 350.3 1066.3 343.2 1067.7 369 1069.2 347.3 1070.6 338.8 1072.1 362.5 1073.5 378.8 1075 335.4 1076.4 352.1 1077.8 357.3 1079.3 364.9 1080.7 373.3 1082.2 375.6 1083.6 368.8 1085.1 369.4 1086.5 374.6 1087.9 380.8 1089.4 372 1090.8 383.8 1092.3 389.2 1093.7 388.9 1095.2 391 1096.6 372.4 1098.1 383.8 1099.5 370.6 1100.9 373.9 1102.4 357.7 1103.8 369.8 1105.3 370.8 1106.7 384.7 1108.2 395.2 1109.6 377.2 1111 368.3 1112.5 384.4 1113.9 387.2 1115.4 386.8 1116.8 389.5 1118.3 371.9 1119.7 383.9 1121.2 376.4 1122.6 380.3 1124 391.3 1125.5 363.9 1126.9 384.6 1128.4 391.3 1129.8 370.6 1131.3 376.7 1132.7 387.3 1134.2 393.4 1135.6 397.2 1137 394.6 1138.5 382.9 1139.9 392.6 1141.4 376.6 1142.8 388.7 1144.3 378.1 1145.7 392.2 1147.1 385.7 1148.6 385.4 1150 387.7 1151.5 386.8 1152.9 390.8 1154.4 388.7 1155.8 366.3 1157.3 382.8 1158.7 371.6 1160.1 369.8 1161.6 379.9 1163 373.6 1164.5 381.4 1165.9 386.6 1167.4 389.7 1168.8 393.3 1170.3 395.1 1171.7 367.7 1173.1 386.1 1174.6 387.5 1176 379 1177.5 404.6 1178.9 388.4 1180.4 386.4 1181.8 387.7 1183.2 393.3 1184.7 392.6 1186.1 378.5 1187.6 372.2 1189 380.1 1190.5 385.9 1191.9 387.2 1193.4 390 1194.8 396.9 1196.2 386.7 1197.7 394.3 1199.1 400.9 1200.6 391.1 1202 392.2 1203.5 391.1 1204.9 390.8 1206.3 397.7 1207.8 393.7 1209.2 393.6 1210.7 399.9 1212.1 386.6 1213.6 379.5 1215 388.7 1216.5 389.7 1217.9 388.7 1219.3 385.9 1220.8 396.2 1222.2 389.3 1223.7 391.7 1225.1 396 1226.6 390.3 1228 394.9 1229.5 391.6 1230.9 380.4 1232.3 367.5 1233.8 389.6 1235.2 396.6 1236.7 376.8 1238.1 394.3 1239.6 385.2 1241 386.5 1242.4 385.5 1243.9 389.7 1245.3 397.4 1246.8 382.6 1248.2 389.1 1249.7 395.4 1251.1 387.6 1252.6 394 1254 363.2 1255.4 380.6 1256.9 394.6 1258.3 390.5 1259.8 394 1261.2 396.2 1262.7 396.4 1264.1 392.4 1265.5 387 1267 389.2 1268.4 392.1 1269.9 386.7 1271.3 379.2 1272.8 392.7 1274.2 376.4 1275.7 372.5 1277.1 395.6 1278.5 389.7 1280 391.6 1281.4 385.7 1282.9 373 1284.3 379.1 1285.8 395.1 1287.2 385.9 1288.7 388.7 1290.1 369.7 1291.5 387.6 1293 393.1 1294.4 389.7 1295.9 391 1297.3 399.1 1298.8 396.4 1300.2 397.6 1301.6 399.4 1303.1 400.3 1304.5 391.3 1306 390.8 1307.4 378.2 1308.9 397.2 1310.3 396.8 1311.8 396.2 1313.2 375.9 1314.6 392.3 1316.1 378.6 1317.5 407 1319 400.6 1320.4 369.4 1321.9 394.9 1323.3 384.3 1324.8 397.9 1326.2 402.1 1327.6 390.1 1329.1 390.8 1330.5 391.5 1332 368.3 1333.4 396.4 1334.9 394.2 1336.3 381.7 1337.7 378.4 1339.2 396.5 1340.6 387.9 1342.1 390.9 1343.5 401 1345 386.8 1346.4 394.4 1347.9 395.6 1349.3 395.2 1350.7 386.9 1352.2 403.7 1353.6 392.5 1355.1 396.8 1356.5 401.5 1358 397.2 1359.4 393.8 1360.8 391.9 1362.3 398.9 1363.7 390.5 1365.2 392.9 1366.6 400.4 1368.1 392.4 1369.5 388.3 1371 397.6 1372.4 377.8 1373.8 369.4 1375.3 403.5 1376.7 392.1 1378.2 398 1379.6 399.9 1381.1 382.1 1382.5 389.7 1384 391.5 1385.4 383.8 1386.8 389.9 1388.3 398.5 1389.7 392.4 1391.2 374.9 1392.6 385.6 1394.1 380 1395.5 387.6 1396.9 398.6 1398.4 398.3 1399.8 383 1401.3 381.6 1402.7 364.9 1404.2 373.2 1405.6 386 1407.1 374.3 1408.5 401 1409.9 394.7 1411.4 392.6 1412.8 402.5 1414.3 388.7 1415.7 395.5 1417.2 388.7 1418.6 378.4 1420 393.6 1421.5 391.6 1422.9 380.7 1424.4 395.6 1425.8 374.9 1427.3 385.8 1428.7 398.6 1430.2 391 1431.6 375.1 1433 393.6 1434.5 379.3 1435.9 391.5 1437.4 394.9 1438.8 387 1440.3 375.3 1441.7 393 1443.2 399.3 1444.6 384.5 1446 379.6 1447.5 382.7 1448.9 378.7 1450.4 387 1451.8 392.1 1453.3 390.3 1454.7 370.5 1456.1 387.3 1457.6 385.1 1459 381.1 1460.5 375.7 1461.9 392.7 1463.4 390.6 1464.8 393.7 1466.3 371.2 1467.7 386.2 1469.1 390.9 1470.6 376.2 1472 388.5 1473.5 383.7 1474.9 368.6 1476.4 371.4 1477.8 365.6 1479.3 391 1480.7 392.1 1482.1 386.2 1483.6 383.2 1485 397.2 1486.5 389.8 1487.9 371.3 1489.4 384.7 1490.8 392.8 1492.2 391.4 1493.7 398 1495.1 378 1496.6 378.9 1498 399.4 1499.5 382.8 1500.9 378.9 1502.4 374.4 1503.8 399 1505.2 375.9 1506.7 373.6 1508.1 386 1509.6 390.3 1511 395.1 1512.5 402 1513.9 382 1515.3 404.5 1516.8 392 1518.2 382.3 1519.7 387.5 1521.1 380.9 1522.6 388.6 1524 395 1525.5 394.6 1526.9 398 1528.3 392.4 1529.8 396.1 1531.2 380 1532.7 397.2 1534.1 391.3 1535.6 385.7 1537 386.1 1538.5 378.3 1539.9 398.9 1541.3 398.4 1542.8 397.3 1544.2 381.1 1545.7 388.5 1547.1 391.5 1548.6 381.1 1550 384.5 1551.4 399.4 1552.9 390.5 1554.3 386.5 1555.8 371.3 1557.2 381.3 1558.7 384.4 1560.1 385.4 1561.6 395.9 1563 400.1 1564.4 397.2 1565.9 375.4 1567.3 387.6 1568.8 389.4 1570.2 404.3 1571.7 393.4 1573.1 392.3 1574.5 397.5 1576 395.6 1577.4 382.6 1578.9 389.8 1580.3 398.3 1581.8 393 1583.2 390.1 1584.7 393.1 1586.1 387.6 1587.5 376.3 1589 382 1590.4 400.8 1591.9 398.1 1593.3 392.6 1594.8 383.6 1596.2 376.4 1597.7 383.4 1599.1 390.4 1600.5 377.5 1602 366.1 1603.4 395.2 1604.9 392 1606.3 386.4 1607.8 386.5 1609.2 384.2 1610.6 376.1 1612.1 385.6 1613.5 393.8 1615 377.5 1616.4 383.5 1617.9 378.9 1619.3 400 1620.8 393.9 1622.2 358.6 1623.6 395.2 1625.1 400.1 1626.5 388.6 1628 376.9" fill="none" stroke="#6441ad" stroke-width="2.5" stroke-linejoin="bevel"/>
<path d="M908.9 388.4 912 388.2 915.1 387.9 918.3 388.5 921.4 388 924.5 388.2 927.6 388 930.8 388.8 933.9 388.7 937 387.9 940.1 388.1 943.2 388.5 946.4 388.1 949.5 388.7 952.6 388.6 955.7 387.9 958.9 388.4 962 387.6 965.1 388.3 968.2 388.4 971.3 388.7 974.5 387.9 977.6 388.6 980.7 388.7 983.8 388.4 986.9 388.6 990.1 389 993.2 388.8 996.3 389.1 999.4 388.5 1002.6 388.7 1005.7 389 1008.8 388.5 1011.9 388.5 1015 388 1018.2 388.4 1021.3 388.9 1024.4 388.1 1027.5 388.2 1030.7 388.4 1033.8 389 1036.9 388.5 1040 388.3 1043.1 388.8 1046.3 388.9 1049.4 388.4 1052.5 388.5 1055.6 388.5 1058.8 388.7 1061.9 388.8 1065 388.7 1068.1 388.4 1071.2 388.5 1074.4 388.7 1077.5 388.7 1080.6 388.3 1083.7 388.9 1086.9 388.5 1090 388.8 1093.1 388.6 1096.2 389 1099.3 388.9 1102.5 388.6 1105.6 388.9 1108.7 388.9 1111.8 388.4 1115 388.5 1118.1 388.9 1121.2 388.8 1124.3 388.5 1127.4 388.9 1130.6 388.3 1133.7 388.4 1136.8 388.6 1139.9 388.6 1143 388.4 1146.2 388.6 1149.3 388.9 1152.4 388.8 1155.5 388.5 1158.7 388.9 1161.8 388.4 1164.9 388.9 1168 389.1 1171.1 388.7 1174.3 387.9 1177.4 389.1 1180.5 388 1183.6 389.3 1186.8 388.3 1189.9 388.7 1193 388.8 1196.1 388.4 1199.2 388.4 1202.4 388 1205.5 389.3 1208.6 389.1 1211.7 389.1 1214.9 388.1 1218 388.4 1221.1 388.5 1224.2 388.7 1227.3 388.4 1230.5 388.2 1233.6 388.3 1236.7 388.2 1239.8 388.8 1243 389.2 1246.1 388.9 1249.2 388.8 1252.3 388.6 1255.4 388.3 1258.6 388.1 1261.7 388.4 1264.8 388.3 1267.9 388.9 1271.1 388.3 1274.2 388.3 1277.3 388.7 1280.4 388.8 1283.5 388.8 1286.7 389.4 1289.8 389.5 1292.9 388.8 1296 388.7 1299.2 389.2 1302.3 388.8 1305.4 389.1 1308.5 388.6 1311.6 389.4 1314.8 389.2 1317.9 388.8 1321 389 1324.1 388.9 1327.2 390 1330.4 389.4 1333.5 389.5 1336.6 389.4 1339.7 389.3 1342.9 388.6 1346 389.1 1349.1 388.4 1352.2 389.3 1355.3 389.1 1358.5 388.7 1361.6 388.7 1364.7 389 1367.8 389.2 1371 388.8 1374.1 389.2 1377.2 388.3 1380.3 389.4 1383.4 388.9 1386.6 389.4 1389.7 388.7 1392.8 389.5 1395.9 389.2 1399.1 388.8 1402.2 389 1405.3 389.4 1408.4 389.6 1411.5 389.2 1414.7 388.6 1417.8 389.3 1420.9 389.2 1424 389 1427.2 388.9 1430.3 389.3 1433.4 389 1436.5 389.2 1439.6 389.5 1442.8 389.1 1445.9 389.4 1449 389.5 1452.1 389.4 1455.2 389.5 1458.4 389.4 1461.5 389 1464.6 388.9 1467.7 389.4 1470.9 389.9 1474 389.3 1477.1 389 1480.2 389.1 1483.3 389.3 1486.5 389.4 1489.6 389.2 1492.7 389.1 1495.8 388.6 1499 389 1502.1 388.7 1505.2 388.9 1508.3 389.1 1511.4 388.9 1514.6 389 1517.7 389.9 1520.8 389.1 1523.9 389 1527.1 389.2 1530.2 389.2 1533.3 389.3 1536.4 388.5 1539.5 388.7 1542.7 388.2 1545.8 389.5 1548.9 389 1552 388.6 1555.2 389.1 1558.3 388.8 1561.4 389.4 1564.5 388.6 1567.6 389.5 1570.8 389.3 1573.9 388.5 1577 389.3 1580.1 389 1583.3 389.1 1586.4 389.5 1589.5 388.6 1592.6 389.3 1595.7 389.6 1598.9 388.8 1602 388.3 1605.1 388.8 1608.2 388.3 1611.3 389 1614.5 389 1617.6 389.1 1620.7 388.5 1623.8 389.1 1627 388.6" fill="none" stroke="#000" stroke-width="4" stroke-dasharray="5 3.8"/>
<rect x="902.7" y="1.8" width="731.7" height="425.8" fill="none" stroke="#0b0c09" stroke-width="3.8"/>
<line x1="904.2" y1="420.8" x2="920.9" y2="420.8" stroke="#0b0c09" stroke-width="3.4"/>
<text x="894.4" y="430.3" font-size="27.8" text-anchor="end" font-weight="normal" fill="#0b0c09" transform="matrix(0.9550 0 0 1 40.2 0)">0</text>
<line x1="904.2" y1="302.6" x2="920.9" y2="302.6" stroke="#0b0c09" stroke-width="3.4"/>
<text x="895.4" y="312.1" font-size="27.8" text-anchor="end" font-weight="normal" fill="#0b0c09" transform="matrix(0.9550 0 0 1 40.3 0)">50</text>
<line x1="904.2" y1="184.5" x2="920.9" y2="184.5" stroke="#0b0c09" stroke-width="3.4"/>
<text x="896.7" y="194" font-size="27.8" text-anchor="end" font-weight="normal" fill="#0b0c09" transform="matrix(0.9550 0 0 1 40.4 0)">100</text>
<line x1="904.2" y1="66.4" x2="920.9" y2="66.4" stroke="#0b0c09" stroke-width="3.4"/>
<text x="896.3" y="75.9" font-size="27.8" text-anchor="end" font-weight="normal" fill="#0b0c09" transform="matrix(0.9550 0 0 1 40.3 0)">150</text>
<line x1="908.9" y1="426.1" x2="908.9" y2="408.6" stroke="#0b0c09" stroke-width="3.3"/>
<text x="909.4" y="453.8" font-size="27.8" text-anchor="middle" font-weight="normal" fill="#0b0c09" transform="matrix(0.9550 0 0 1 40.9 0)">0</text>
<line x1="924.5" y1="426.1" x2="924.5" y2="416.6" stroke="#0b0c09" stroke-width="3.3"/>
<line x1="940.1" y1="426.1" x2="940.1" y2="416.6" stroke="#0b0c09" stroke-width="3.3"/>
<line x1="955.7" y1="426.1" x2="955.7" y2="416.6" stroke="#0b0c09" stroke-width="3.3"/>
<line x1="971.3" y1="426.1" x2="971.3" y2="416.6" stroke="#0b0c09" stroke-width="3.3"/>
<line x1="986.9" y1="426.1" x2="986.9" y2="412.6" stroke="#0b0c09" stroke-width="3.3"/>
<line x1="1002.6" y1="426.1" x2="1002.6" y2="416.6" stroke="#0b0c09" stroke-width="3.3"/>
<line x1="1018.2" y1="426.1" x2="1018.2" y2="416.6" stroke="#0b0c09" stroke-width="3.3"/>
<line x1="1033.8" y1="426.1" x2="1033.8" y2="416.6" stroke="#0b0c09" stroke-width="3.3"/>
<line x1="1049.4" y1="426.1" x2="1049.4" y2="416.6" stroke="#0b0c09" stroke-width="3.3"/>
<line x1="1065" y1="426.1" x2="1065" y2="408.6" stroke="#0b0c09" stroke-width="3.3"/>
<text x="1067.1" y="453.8" font-size="27.8" text-anchor="middle" font-weight="normal" fill="#0b0c09" transform="matrix(0.9550 0 0 1 48 0)">200</text>
<line x1="1080.6" y1="426.1" x2="1080.6" y2="416.6" stroke="#0b0c09" stroke-width="3.3"/>
<line x1="1096.2" y1="426.1" x2="1096.2" y2="416.6" stroke="#0b0c09" stroke-width="3.3"/>
<line x1="1111.8" y1="426.1" x2="1111.8" y2="416.6" stroke="#0b0c09" stroke-width="3.3"/>
<line x1="1127.4" y1="426.1" x2="1127.4" y2="416.6" stroke="#0b0c09" stroke-width="3.3"/>
<line x1="1143" y1="426.1" x2="1143" y2="412.6" stroke="#0b0c09" stroke-width="3.3"/>
<line x1="1158.7" y1="426.1" x2="1158.7" y2="416.6" stroke="#0b0c09" stroke-width="3.3"/>
<line x1="1174.3" y1="426.1" x2="1174.3" y2="416.6" stroke="#0b0c09" stroke-width="3.3"/>
<line x1="1189.9" y1="426.1" x2="1189.9" y2="416.6" stroke="#0b0c09" stroke-width="3.3"/>
<line x1="1205.5" y1="426.1" x2="1205.5" y2="416.6" stroke="#0b0c09" stroke-width="3.3"/>
<line x1="1221.1" y1="426.1" x2="1221.1" y2="408.6" stroke="#0b0c09" stroke-width="3.3"/>
<text x="1223.2" y="453.8" font-size="27.8" text-anchor="middle" font-weight="normal" fill="#0b0c09" transform="matrix(0.9550 0 0 1 55 0)">400</text>
<line x1="1236.7" y1="426.1" x2="1236.7" y2="416.6" stroke="#0b0c09" stroke-width="3.3"/>
<line x1="1252.3" y1="426.1" x2="1252.3" y2="416.6" stroke="#0b0c09" stroke-width="3.3"/>
<line x1="1267.9" y1="426.1" x2="1267.9" y2="416.6" stroke="#0b0c09" stroke-width="3.3"/>
<line x1="1283.5" y1="426.1" x2="1283.5" y2="416.6" stroke="#0b0c09" stroke-width="3.3"/>
<line x1="1299.2" y1="426.1" x2="1299.2" y2="412.6" stroke="#0b0c09" stroke-width="3.3"/>
<line x1="1314.8" y1="426.1" x2="1314.8" y2="416.6" stroke="#0b0c09" stroke-width="3.3"/>
<line x1="1330.4" y1="426.1" x2="1330.4" y2="416.6" stroke="#0b0c09" stroke-width="3.3"/>
<line x1="1346" y1="426.1" x2="1346" y2="416.6" stroke="#0b0c09" stroke-width="3.3"/>
<line x1="1361.6" y1="426.1" x2="1361.6" y2="416.6" stroke="#0b0c09" stroke-width="3.3"/>
<line x1="1377.2" y1="426.1" x2="1377.2" y2="408.6" stroke="#0b0c09" stroke-width="3.3"/>
<text x="1379.3" y="453.8" font-size="27.8" text-anchor="middle" font-weight="normal" fill="#0b0c09" transform="matrix(0.9550 0 0 1 62.1 0)">600</text>
<line x1="1392.8" y1="426.1" x2="1392.8" y2="416.6" stroke="#0b0c09" stroke-width="3.3"/>
<line x1="1408.4" y1="426.1" x2="1408.4" y2="416.6" stroke="#0b0c09" stroke-width="3.3"/>
<line x1="1424" y1="426.1" x2="1424" y2="416.6" stroke="#0b0c09" stroke-width="3.3"/>
<line x1="1439.6" y1="426.1" x2="1439.6" y2="416.6" stroke="#0b0c09" stroke-width="3.3"/>
<line x1="1455.2" y1="426.1" x2="1455.2" y2="412.6" stroke="#0b0c09" stroke-width="3.3"/>
<line x1="1470.9" y1="426.1" x2="1470.9" y2="416.6" stroke="#0b0c09" stroke-width="3.3"/>
<line x1="1486.5" y1="426.1" x2="1486.5" y2="416.6" stroke="#0b0c09" stroke-width="3.3"/>
<line x1="1502.1" y1="426.1" x2="1502.1" y2="416.6" stroke="#0b0c09" stroke-width="3.3"/>
<line x1="1517.7" y1="426.1" x2="1517.7" y2="416.6" stroke="#0b0c09" stroke-width="3.3"/>
<line x1="1533.3" y1="426.1" x2="1533.3" y2="408.6" stroke="#0b0c09" stroke-width="3.3"/>
<text x="1535.4" y="453.8" font-size="27.8" text-anchor="middle" font-weight="normal" fill="#0b0c09" transform="matrix(0.9550 0 0 1 69.1 0)">800</text>
<line x1="1548.9" y1="426.1" x2="1548.9" y2="416.6" stroke="#0b0c09" stroke-width="3.3"/>
<line x1="1564.5" y1="426.1" x2="1564.5" y2="416.6" stroke="#0b0c09" stroke-width="3.3"/>
<line x1="1580.1" y1="426.1" x2="1580.1" y2="416.6" stroke="#0b0c09" stroke-width="3.3"/>
<line x1="1595.7" y1="426.1" x2="1595.7" y2="416.6" stroke="#0b0c09" stroke-width="3.3"/>
<line x1="1611.3" y1="426.1" x2="1611.3" y2="412.6" stroke="#0b0c09" stroke-width="3.3"/>
<line x1="1627" y1="426.1" x2="1627" y2="416.6" stroke="#0b0c09" stroke-width="3.3"/>
<text x="1307.1" y="483.7" font-size="33.3" text-anchor="middle" font-weight="normal" fill="#0b0c09">time [s]</text>
<text transform="translate(854.2 202.5) rotate(-90)" font-size="33.5" text-anchor="middle" fill="#0b0c09">Intensity (counts)</text>
<text x="939.6" y="85" font-size="76" text-anchor="start" font-weight="bold" fill="#0b0c09">c</text>
<text x="1046.5" y="57.5" font-size="50.2" text-anchor="start" font-weight="normal" fill="#0b0c09">in air</text>
<rect x="1344.2" y="45.5" width="276.5" height="50.2" fill="#0b0c09"/>
<rect x="1341.1" y="42.3" width="276.3" height="50.1" fill="#fff"/>
<rect x="1342.3" y="43.5" width="272.6" height="46.4" fill="#fff" stroke="#0b0c09" stroke-width="2.5"/>
<line x1="1351.3" y1="65.6" x2="1403.3" y2="65.6" stroke="#3550a8" stroke-width="5" stroke-dasharray="3 5.2 5 5.2 5 5.2 5 5.2 5 5.2 5 5.2"/>
<text x="1408.5" y="77.5" font-size="35.2" text-anchor="start" font-weight="normal" fill="#0b0c09">circ. average</text>
<path d="M268.2 819.8L394.8 892.7L394.8 1037.3L268.9 1108.4L143.4 1037.3L143.4 892.7Z" fill="#cfdfe8"/>
<path d="M268.2 819.8L394.8 892.7L268.9 965.8L143.4 892.7Z" fill="#d2e3ed"/>
<path d="M143.4 892.7L268.9 965.8L268.9 1108.4L143.4 1037.3Z" fill="#c9d9e2"/>
<path d="M268.9 965.8L394.8 892.7L394.8 1037.3L268.9 1108.4Z" fill="#cfdfe9"/>
<path d="M143.5 1037.3L268.9 966.2L394.6 1037.3L394.6 1046.8L268.9 1117.9L143.5 1046.8Z" fill="#a88f50"/>
<path d="M143.5 1037.3L268.9 1108.4L268.9 1117.9L143.5 1046.8Z" fill="#946e28"/>
<path d="M268.9 1108.4L394.6 1037.3L394.6 1046.8L268.9 1117.9Z" fill="#c08b34"/>
<path d="M143.5 1037.3L268.9 966.2L394.6 1037.3L268.9 1108.4Z" fill="#a88f50" stroke="#7d6c3c" stroke-width="0.9" stroke-linejoin="round"/>
<rect x="266.9" y="970.2" width="4.6" height="9" fill="#25303a"/><text x="269.2" y="967.7" font-size="16.5" text-anchor="middle" fill="#25303a" font-family="'DejaVu Sans', sans-serif">S</text><text x="269.2" y="952.6" font-size="16.5" text-anchor="middle" fill="#25303a" font-family="'DejaVu Sans', sans-serif">H</text><rect x="284.7" y="980.8" width="4.6" height="9" fill="#25303a"/><text x="287" y="978.3" font-size="16.5" text-anchor="middle" fill="#25303a" font-family="'DejaVu Sans', sans-serif">S</text><text x="287" y="963.2" font-size="16.5" text-anchor="middle" fill="#25303a" font-family="'DejaVu Sans', sans-serif">H</text><rect x="302.6" y="991.5" width="4.6" height="9" fill="#25303a"/><text x="304.9" y="989" font-size="16.5" text-anchor="middle" fill="#25303a" font-family="'DejaVu Sans', sans-serif">S</text><text x="304.9" y="973.9" font-size="16.5" text-anchor="middle" fill="#25303a" font-family="'DejaVu Sans', sans-serif">H</text><rect x="231.3" y="991.7" width="4.6" height="9" fill="#25303a"/><text x="233.6" y="989.2" font-size="16.5" text-anchor="middle" fill="#25303a" font-family="'DejaVu Sans', sans-serif">S</text><text x="233.6" y="974.1" font-size="16.5" text-anchor="middle" fill="#25303a" font-family="'DejaVu Sans', sans-serif">H</text><rect x="320.4" y="1002.1" width="4.6" height="9" fill="#25303a"/><text x="322.7" y="999.6" font-size="16.5" text-anchor="middle" fill="#25303a" font-family="'DejaVu Sans', sans-serif">S</text><text x="322.7" y="984.5" font-size="16.5" text-anchor="middle" fill="#25303a" font-family="'DejaVu Sans', sans-serif">H</text><rect x="249.1" y="1002.3" width="4.6" height="9" fill="#25303a"/><text x="251.4" y="999.8" font-size="16.5" text-anchor="middle" fill="#25303a" font-family="'DejaVu Sans', sans-serif">S</text><text x="251.4" y="984.7" font-size="16.5" text-anchor="middle" fill="#25303a" font-family="'DejaVu Sans', sans-serif">H</text><rect x="338.2" y="1012.7" width="4.6" height="9" fill="#25303a"/><text x="340.5" y="1010.2" font-size="16.5" text-anchor="middle" fill="#25303a" font-family="'DejaVu Sans', sans-serif">S</text><text x="340.5" y="995.1" font-size="16.5" text-anchor="middle" fill="#25303a" font-family="'DejaVu Sans', sans-serif">H</text><rect x="267" y="1013" width="4.6" height="9" fill="#25303a"/><text x="269.3" y="1010.5" font-size="16.5" text-anchor="middle" fill="#25303a" font-family="'DejaVu Sans', sans-serif">S</text><text x="269.3" y="995.4" font-size="16.5" text-anchor="middle" fill="#25303a" font-family="'DejaVu Sans', sans-serif">H</text><rect x="195.7" y="1013.2" width="4.6" height="9" fill="#25303a"/><text x="198" y="1010.7" font-size="16.5" text-anchor="middle" fill="#25303a" font-family="'DejaVu Sans', sans-serif">S</text><text x="198" y="995.6" font-size="16.5" text-anchor="middle" fill="#25303a" font-family="'DejaVu Sans', sans-serif">H</text><rect x="356.1" y="1023.4" width="4.6" height="9" fill="#25303a"/><text x="358.4" y="1020.9" font-size="16.5" text-anchor="middle" fill="#25303a" font-family="'DejaVu Sans', sans-serif">S</text><text x="358.4" y="1005.8" font-size="16.5" text-anchor="middle" fill="#25303a" font-family="'DejaVu Sans', sans-serif">H</text><rect x="284.8" y="1023.6" width="4.6" height="9" fill="#25303a"/><text x="287.1" y="1021.1" font-size="16.5" text-anchor="middle" fill="#25303a" font-family="'DejaVu Sans', sans-serif">S</text><text x="287.1" y="1006" font-size="16.5" text-anchor="middle" fill="#25303a" font-family="'DejaVu Sans', sans-serif">H</text><rect x="213.5" y="1023.8" width="4.6" height="9" fill="#25303a"/><text x="215.8" y="1021.3" font-size="16.5" text-anchor="middle" fill="#25303a" font-family="'DejaVu Sans', sans-serif">S</text><text x="215.8" y="1006.2" font-size="16.5" text-anchor="middle" fill="#25303a" font-family="'DejaVu Sans', sans-serif">H</text><rect x="373.9" y="1034" width="4.6" height="9" fill="#25303a"/><text x="376.2" y="1031.5" font-size="16.5" text-anchor="middle" fill="#25303a" font-family="'DejaVu Sans', sans-serif">S</text><text x="376.2" y="1016.4" font-size="16.5" text-anchor="middle" fill="#25303a" font-family="'DejaVu Sans', sans-serif">H</text><rect x="302.6" y="1034.2" width="4.6" height="9" fill="#25303a"/><text x="304.9" y="1031.7" font-size="16.5" text-anchor="middle" fill="#25303a" font-family="'DejaVu Sans', sans-serif">S</text><text x="304.9" y="1016.6" font-size="16.5" text-anchor="middle" fill="#25303a" font-family="'DejaVu Sans', sans-serif">H</text><rect x="231.4" y="1034.5" width="4.6" height="9" fill="#25303a"/><text x="233.7" y="1032" font-size="16.5" text-anchor="middle" fill="#25303a" font-family="'DejaVu Sans', sans-serif">S</text><text x="233.7" y="1016.9" font-size="16.5" text-anchor="middle" fill="#25303a" font-family="'DejaVu Sans', sans-serif">H</text><rect x="160.1" y="1034.7" width="4.6" height="9" fill="#25303a"/><text x="162.4" y="1032.2" font-size="16.5" text-anchor="middle" fill="#25303a" font-family="'DejaVu Sans', sans-serif">S</text><text x="162.4" y="1017.1" font-size="16.5" text-anchor="middle" fill="#25303a" font-family="'DejaVu Sans', sans-serif">H</text><rect x="320.4" y="1044.9" width="4.6" height="9" fill="#25303a"/><text x="322.8" y="1042.4" font-size="16.5" text-anchor="middle" fill="#25303a" font-family="'DejaVu Sans', sans-serif">S</text><text x="322.8" y="1027.3" font-size="16.5" text-anchor="middle" fill="#25303a" font-family="'DejaVu Sans', sans-serif">H</text><rect x="249.2" y="1045.1" width="4.6" height="9" fill="#25303a"/><text x="251.5" y="1042.6" font-size="16.5" text-anchor="middle" fill="#25303a" font-family="'DejaVu Sans', sans-serif">S</text><text x="251.5" y="1027.5" font-size="16.5" text-anchor="middle" fill="#25303a" font-family="'DejaVu Sans', sans-serif">H</text><rect x="177.9" y="1045.3" width="4.6" height="9" fill="#25303a"/><text x="180.2" y="1042.8" font-size="16.5" text-anchor="middle" fill="#25303a" font-family="'DejaVu Sans', sans-serif">S</text><text x="180.2" y="1027.7" font-size="16.5" text-anchor="middle" fill="#25303a" font-family="'DejaVu Sans', sans-serif">H</text><rect x="338.3" y="1055.5" width="4.6" height="9" fill="#25303a"/><text x="340.6" y="1053" font-size="16.5" text-anchor="middle" fill="#25303a" font-family="'DejaVu Sans', sans-serif">S</text><text x="340.6" y="1037.9" font-size="16.5" text-anchor="middle" fill="#25303a" font-family="'DejaVu Sans', sans-serif">H</text><rect x="267" y="1055.7" width="4.6" height="9" fill="#25303a"/><text x="269.3" y="1053.2" font-size="16.5" text-anchor="middle" fill="#25303a" font-family="'DejaVu Sans', sans-serif">S</text><text x="269.3" y="1038.1" font-size="16.5" text-anchor="middle" fill="#25303a" font-family="'DejaVu Sans', sans-serif">H</text><rect x="195.8" y="1056" width="4.6" height="9" fill="#25303a"/><text x="198.1" y="1053.5" font-size="16.5" text-anchor="middle" fill="#25303a" font-family="'DejaVu Sans', sans-serif">S</text><text x="198.1" y="1038.4" font-size="16.5" text-anchor="middle" fill="#25303a" font-family="'DejaVu Sans', sans-serif">H</text><rect x="284.9" y="1066.4" width="4.6" height="9" fill="#25303a"/><text x="287.2" y="1063.9" font-size="16.5" text-anchor="middle" fill="#25303a" font-family="'DejaVu Sans', sans-serif">S</text><text x="287.2" y="1048.8" font-size="16.5" text-anchor="middle" fill="#25303a" font-family="'DejaVu Sans', sans-serif">H</text><rect x="213.6" y="1066.6" width="4.6" height="9" fill="#25303a"/><text x="215.9" y="1064.1" font-size="16.5" text-anchor="middle" fill="#25303a" font-family="'DejaVu Sans', sans-serif">S</text><text x="215.9" y="1049" font-size="16.5" text-anchor="middle" fill="#25303a" font-family="'DejaVu Sans', sans-serif">H</text><rect x="302.7" y="1077" width="4.6" height="9" fill="#25303a"/><text x="305" y="1074.5" font-size="16.5" text-anchor="middle" fill="#25303a" font-family="'DejaVu Sans', sans-serif">S</text><text x="305" y="1059.4" font-size="16.5" text-anchor="middle" fill="#25303a" font-family="'DejaVu Sans', sans-serif">H</text><rect x="231.4" y="1077.2" width="4.6" height="9" fill="#25303a"/><text x="233.7" y="1074.7" font-size="16.5" text-anchor="middle" fill="#25303a" font-family="'DejaVu Sans', sans-serif">S</text><text x="233.7" y="1059.6" font-size="16.5" text-anchor="middle" fill="#25303a" font-family="'DejaVu Sans', sans-serif">H</text><rect x="249.2" y="1087.9" width="4.6" height="9" fill="#25303a"/><text x="251.6" y="1085.4" font-size="16.5" text-anchor="middle" fill="#25303a" font-family="'DejaVu Sans', sans-serif">S</text><text x="251.6" y="1070.3" font-size="16.5" text-anchor="middle" fill="#25303a" font-family="'DejaVu Sans', sans-serif">H</text><rect x="267.1" y="1098.5" width="4.6" height="9" fill="#25303a"/><text x="269.4" y="1096" font-size="16.5" text-anchor="middle" fill="#25303a" font-family="'DejaVu Sans', sans-serif">S</text><text x="269.4" y="1080.9" font-size="16.5" text-anchor="middle" fill="#25303a" font-family="'DejaVu Sans', sans-serif">H</text>
<path d="M266.8 893.1L333.8 931.8L333.8 1009.4L267 1047.6L200.2 1010.2L200.2 932Z" fill="#a08b50"/>
<path d="M200.2 932L267 970.6L267 1047.6L200.2 1010.2Z" fill="#7a6a3e"/>
<path d="M267 970.6L333.8 931.8L333.8 1009.4L267 1047.6Z" fill="#a08b50"/>
<path d="M266.8 893.1L333.8 931.8L267 970.6L200.2 932Z" fill="#ad9556"/>
<path d="M209.7 937.5L219.3 943L285.9 904.1L276.3 898.6Z" fill="#b2b655"/>
<path d="M209.7 937.5L219.3 943L219.3 1021.2L209.7 1015.7Z" fill="#7f873e"/>
<path d="M228.8 948.5L238.4 954.1L305 915.2L295.4 909.6Z" fill="#b2b655"/>
<path d="M228.8 948.5L238.4 954.1L238.4 1032.3L228.8 1026.7Z" fill="#7f873e"/>
<path d="M247.9 959.6L257.5 965.1L324.1 926.2L314.5 920.7Z" fill="#b2b655"/>
<path d="M247.9 959.6L257.5 965.1L257.5 1043.3L247.9 1037.8Z" fill="#7f873e"/>
<path d="M201.2 932L267 969.1L332.8 931.8" fill="none" stroke="#a8884a" stroke-width="3" stroke-opacity="0.55"/>
<rect x="88" y="502.5" width="722.8" height="666.8" fill="none" stroke="#0b0c09" stroke-width="3.7"/>
<line x1="89.5" y1="1157.1" x2="107.5" y2="1157.1" stroke="#0b0c09" stroke-width="3.2"/>
<text x="77.5" y="1165.9" font-size="25" text-anchor="end" font-weight="normal" fill="#0b0c09">0.80</text>
<line x1="89.5" y1="996.6" x2="107.5" y2="996.6" stroke="#0b0c09" stroke-width="3.2"/>
<text x="77.5" y="1005.4" font-size="25" text-anchor="end" font-weight="normal" fill="#0b0c09">0.85</text>
<line x1="89.5" y1="836" x2="107.5" y2="836" stroke="#0b0c09" stroke-width="3.2"/>
<text x="77.5" y="844.8" font-size="25" text-anchor="end" font-weight="normal" fill="#0b0c09">0.90</text>
<line x1="89.5" y1="675.5" x2="107.5" y2="675.5" stroke="#0b0c09" stroke-width="3.2"/>
<text x="77.5" y="684.3" font-size="25" text-anchor="end" font-weight="normal" fill="#0b0c09">0.95</text>
<line x1="89.5" y1="514.9" x2="107.5" y2="514.9" stroke="#0b0c09" stroke-width="3.2"/>
<text x="77.5" y="523.7" font-size="25" text-anchor="end" font-weight="normal" fill="#0b0c09">1.00</text>
<line x1="99.6" y1="1167.8" x2="99.6" y2="1150.3" stroke="#0b0c09" stroke-width="3.3"/>
<text x="100.6" y="1203.3" font-size="24.5" text-anchor="middle" font-weight="normal" fill="#0b0c09">1</text>
<line x1="180.5" y1="1167.8" x2="180.5" y2="1158.3" stroke="#0b0c09" stroke-width="3.3"/>
<text x="180.2" y="1188.8" font-size="17.6" text-anchor="middle" font-weight="normal" fill="#0b0c09">2</text>
<line x1="227.9" y1="1167.8" x2="227.9" y2="1158.3" stroke="#0b0c09" stroke-width="3.3"/>
<text x="227.6" y="1188.8" font-size="17.6" text-anchor="middle" font-weight="normal" fill="#0b0c09">3</text>
<line x1="261.4" y1="1167.8" x2="261.4" y2="1158.3" stroke="#0b0c09" stroke-width="3.3"/>
<text x="261.1" y="1188.8" font-size="17.6" text-anchor="middle" font-weight="normal" fill="#0b0c09">4</text>
<line x1="287.5" y1="1167.8" x2="287.5" y2="1158.3" stroke="#0b0c09" stroke-width="3.3"/>
<text x="287.2" y="1188.8" font-size="17.6" text-anchor="middle" font-weight="normal" fill="#0b0c09">5</text>
<line x1="308.8" y1="1167.8" x2="308.8" y2="1158.3" stroke="#0b0c09" stroke-width="3.3"/>
<text x="308.5" y="1188.8" font-size="17.6" text-anchor="middle" font-weight="normal" fill="#0b0c09">6</text>
<line x1="326.8" y1="1167.8" x2="326.8" y2="1158.3" stroke="#0b0c09" stroke-width="3.3"/>
<text x="326.5" y="1188.8" font-size="17.6" text-anchor="middle" font-weight="normal" fill="#0b0c09">7</text>
<line x1="342.4" y1="1167.8" x2="342.4" y2="1158.3" stroke="#0b0c09" stroke-width="3.3"/>
<line x1="356.1" y1="1167.8" x2="356.1" y2="1158.3" stroke="#0b0c09" stroke-width="3.3"/>
<line x1="368.4" y1="1167.8" x2="368.4" y2="1150.3" stroke="#0b0c09" stroke-width="3.3"/>
<text x="369.4" y="1203.3" font-size="24.5" text-anchor="middle" font-weight="normal" fill="#0b0c09">10</text>
<line x1="449.3" y1="1167.8" x2="449.3" y2="1158.3" stroke="#0b0c09" stroke-width="3.3"/>
<text x="449" y="1188.8" font-size="17.6" text-anchor="middle" font-weight="normal" fill="#0b0c09">2</text>
<line x1="496.7" y1="1167.8" x2="496.7" y2="1158.3" stroke="#0b0c09" stroke-width="3.3"/>
<text x="496.4" y="1188.8" font-size="17.6" text-anchor="middle" font-weight="normal" fill="#0b0c09">3</text>
<line x1="530.2" y1="1167.8" x2="530.2" y2="1158.3" stroke="#0b0c09" stroke-width="3.3"/>
<text x="529.9" y="1188.8" font-size="17.6" text-anchor="middle" font-weight="normal" fill="#0b0c09">4</text>
<line x1="556.3" y1="1167.8" x2="556.3" y2="1158.3" stroke="#0b0c09" stroke-width="3.3"/>
<text x="556" y="1188.8" font-size="17.6" text-anchor="middle" font-weight="normal" fill="#0b0c09">5</text>
<line x1="577.6" y1="1167.8" x2="577.6" y2="1158.3" stroke="#0b0c09" stroke-width="3.3"/>
<text x="577.3" y="1188.8" font-size="17.6" text-anchor="middle" font-weight="normal" fill="#0b0c09">6</text>
<line x1="595.6" y1="1167.8" x2="595.6" y2="1158.3" stroke="#0b0c09" stroke-width="3.3"/>
<text x="595.3" y="1188.8" font-size="17.6" text-anchor="middle" font-weight="normal" fill="#0b0c09">7</text>
<line x1="611.2" y1="1167.8" x2="611.2" y2="1158.3" stroke="#0b0c09" stroke-width="3.3"/>
<line x1="624.9" y1="1167.8" x2="624.9" y2="1158.3" stroke="#0b0c09" stroke-width="3.3"/>
<line x1="637.2" y1="1167.8" x2="637.2" y2="1150.3" stroke="#0b0c09" stroke-width="3.3"/>
<text x="638.2" y="1203.3" font-size="24.5" text-anchor="middle" font-weight="normal" fill="#0b0c09">100</text>
<line x1="718.1" y1="1167.8" x2="718.1" y2="1158.3" stroke="#0b0c09" stroke-width="3.3"/>
<text x="717.8" y="1188.8" font-size="17.6" text-anchor="middle" font-weight="normal" fill="#0b0c09">2</text>
<line x1="765.5" y1="1167.8" x2="765.5" y2="1158.3" stroke="#0b0c09" stroke-width="3.3"/>
<text x="765.2" y="1188.8" font-size="17.6" text-anchor="middle" font-weight="normal" fill="#0b0c09">3</text>
<line x1="799" y1="1167.8" x2="799" y2="1158.3" stroke="#0b0c09" stroke-width="3.3"/>
<text x="798.7" y="1188.8" font-size="17.6" text-anchor="middle" font-weight="normal" fill="#0b0c09">4</text>
<text x="324.1" y="1231.7" font-size="31.5" text-anchor="start" font-weight="normal" fill="#0b0c09" transform="matrix(1.0654 0 0 1 -21.2 0)" xml:space="preserve">Time interval  [sec.]</text>
<text transform="translate(47 772.4) rotate(-90)" font-size="33.5" text-anchor="middle" fill="#0b0c09">ACF</text>
<text x="108.4" y="583.2" font-size="76" text-anchor="start" font-weight="bold" fill="#0b0c09" transform="matrix(1.0350 0 0 1 -3.8 0)">b</text>
<text x="226.5" y="569.1" font-size="50.2" text-anchor="start" font-weight="normal" fill="#0b0c09">in water</text>
<rect x="495" y="543.2" width="276.8" height="145" fill="#0b0c09"/>
<rect x="492.2" y="540.4" width="275.9" height="144.3" fill="#fff"/>
<rect x="493.3" y="541.5" width="272.4" height="140.8" fill="#fff" stroke="#0b0c09" stroke-width="2.2"/>
<path d="M520.5 563.2 L509.1 582.6 L531.9 582.6 Z" fill="none" stroke="#3350a6" stroke-width="2.2" stroke-linejoin="miter"/>
<rect x="511" y="606.1" width="19" height="19" fill="none" stroke="#0b0c09" stroke-width="2"/>
<circle cx="520.5" cy="655.2" r="9.3" fill="none" stroke="#de3020" stroke-width="2"/>
<text x="540.8" y="586.5" font-size="35" text-anchor="start" font-weight="normal" fill="#0b0c09" transform="matrix(1.0150 0 0 1 -8.1 0)">277 K, n=542</text>
<text x="540.8" y="626.3" font-size="35" text-anchor="start" font-weight="normal" fill="#0b0c09" transform="matrix(1.0150 0 0 1 -8.1 0)">298 K, n=713</text>
<text x="540.8" y="666.1" font-size="35" text-anchor="start" font-weight="normal" fill="#0b0c09" transform="matrix(1.0150 0 0 1 -8.1 0)">323 K, n=846</text>
<path d="M163.7 707.3h15.5v15.5h-15.5ZM244.6 711.7h15.5v15.5h-15.5ZM291.9 714.6h15.5v15.5h-15.5ZM325.5 717.8h15.5v15.5h-15.5ZM351.5 720.1h15.5v15.5h-15.5ZM372.8 723h15.5v15.5h-15.5ZM390.8 727.1h15.5v15.5h-15.5ZM406.4 731.3h15.5v15.5h-15.5ZM420.2 734.2h15.5v15.5h-15.5ZM432.5 735.3h15.5v15.5h-15.5ZM443.6 735.9h15.5v15.5h-15.5ZM453.7 737.3h15.5v15.5h-15.5ZM463.1 738.9h15.5v15.5h-15.5ZM471.7 740.5h15.5v15.5h-15.5ZM479.8 742.3h15.5v15.5h-15.5ZM487.3 744.1h15.5v15.5h-15.5ZM494.4 746h15.5v15.5h-15.5ZM501.1 748h15.5v15.5h-15.5ZM507.4 750h15.5v15.5h-15.5ZM513.4 752h15.5v15.5h-15.5ZM519.1 754.1h15.5v15.5h-15.5ZM524.5 756.2h15.5v15.5h-15.5ZM529.7 758.3h15.5v15.5h-15.5ZM534.7 760.4h15.5v15.5h-15.5ZM539.4 762.5h15.5v15.5h-15.5ZM544 764.6h15.5v15.5h-15.5ZM548.4 766.7h15.5v15.5h-15.5ZM552.7 768.8h15.5v15.5h-15.5ZM556.8 770.8h15.5v15.5h-15.5ZM560.7 772.9h15.5v15.5h-15.5ZM564.5 775h15.5v15.5h-15.5ZM568.3 777h15.5v15.5h-15.5ZM571.8 779h15.5v15.5h-15.5ZM575.3 781.1h15.5v15.5h-15.5ZM578.7 783.1h15.5v15.5h-15.5ZM582 785h15.5v15.5h-15.5ZM585.2 787h15.5v15.5h-15.5ZM588.3 788.9h15.5v15.5h-15.5ZM591.3 790.9h15.5v15.5h-15.5ZM594.3 792.8h15.5v15.5h-15.5ZM597.2 794.7h15.5v15.5h-15.5ZM600 796.5h15.5v15.5h-15.5ZM602.7 798.4h15.5v15.5h-15.5ZM605.4 800.2h15.5v15.5h-15.5ZM608 802h15.5v15.5h-15.5ZM610.6 803.8h15.5v15.5h-15.5ZM613.1 805.6h15.5v15.5h-15.5ZM615.6 807.4h15.5v15.5h-15.5ZM618 809.1h15.5v15.5h-15.5ZM620.3 810.8h15.5v15.5h-15.5ZM622.7 812.5h15.5v15.5h-15.5ZM624.9 814.2h15.5v15.5h-15.5ZM627.2 815.9h15.5v15.5h-15.5ZM629.3 817.5h15.5v15.5h-15.5ZM631.5 819.1h15.5v15.5h-15.5ZM633.6 820.7h15.5v15.5h-15.5ZM635.6 822.3h15.5v15.5h-15.5ZM637.7 823.9h15.5v15.5h-15.5ZM639.7 825.5h15.5v15.5h-15.5ZM641.6 827h15.5v15.5h-15.5ZM643.6 828.5h15.5v15.5h-15.5ZM645.5 830h15.5v15.5h-15.5ZM647.3 831.5h15.5v15.5h-15.5ZM649.2 833h15.5v15.5h-15.5ZM651 834.4h15.5v15.5h-15.5ZM652.8 835.9h15.5v15.5h-15.5ZM654.5 837.3h15.5v15.5h-15.5ZM656.2 838.7h15.5v15.5h-15.5ZM657.9 840.1h15.5v15.5h-15.5ZM659.6 841.5h15.5v15.5h-15.5ZM661.3 842.9h15.5v15.5h-15.5ZM662.9 844.2h15.5v15.5h-15.5ZM664.5 845.6h15.5v15.5h-15.5ZM666.1 846.9h15.5v15.5h-15.5ZM667.7 848.2h15.5v15.5h-15.5ZM669.2 849.5h15.5v15.5h-15.5ZM670.8 850.8h15.5v15.5h-15.5ZM672.3 852h15.5v15.5h-15.5ZM673.7 853.3h15.5v15.5h-15.5ZM675.2 854.5h15.5v15.5h-15.5ZM676.7 855.8h15.5v15.5h-15.5ZM678.1 857h15.5v15.5h-15.5ZM679.5 858.2h15.5v15.5h-15.5ZM680.9 859.4h15.5v15.5h-15.5ZM682.3 860.6h15.5v15.5h-15.5ZM683.7 861.7h15.5v15.5h-15.5ZM685 862.9h15.5v15.5h-15.5ZM686.3 864h15.5v15.5h-15.5ZM687.7 865.2h15.5v15.5h-15.5ZM689 866.3h15.5v15.5h-15.5ZM690.3 867.4h15.5v15.5h-15.5ZM691.5 868.5h15.5v15.5h-15.5ZM692.8 869.6h15.5v15.5h-15.5ZM694 870.7h15.5v15.5h-15.5ZM695.3 871.7h15.5v15.5h-15.5ZM696.5 872.8h15.5v15.5h-15.5ZM697.7 873.8h15.5v15.5h-15.5ZM698.9 874.9h15.5v15.5h-15.5ZM700.1 875.9h15.5v15.5h-15.5ZM701.3 876.9h15.5v15.5h-15.5ZM702.4 877.9h15.5v15.5h-15.5ZM703.6 878.9h15.5v15.5h-15.5ZM704.7 879.9h15.5v15.5h-15.5ZM705.8 880.9h15.5v15.5h-15.5ZM707 881.9h15.5v15.5h-15.5ZM708.1 882.8h15.5v15.5h-15.5ZM709.2 883.8h15.5v15.5h-15.5ZM710.3 884.7h15.5v15.5h-15.5ZM711.3 885.6h15.5v15.5h-15.5ZM712.4 886.6h15.5v15.5h-15.5ZM713.4 887.5h15.5v15.5h-15.5ZM714.5 888.4h15.5v15.5h-15.5ZM715.5 889.3h15.5v15.5h-15.5ZM716.6 890.2h15.5v15.5h-15.5ZM717.6 891.1h15.5v15.5h-15.5ZM718.6 891.9h15.5v15.5h-15.5ZM719.6 892.8h15.5v15.5h-15.5ZM720.6 893.6h15.5v15.5h-15.5ZM721.6 894.5h15.5v15.5h-15.5ZM722.5 895.3h15.5v15.5h-15.5ZM723.5 896.2h15.5v15.5h-15.5ZM724.5 897h15.5v15.5h-15.5ZM725.4 897.8h15.5v15.5h-15.5ZM726.4 898.6h15.5v15.5h-15.5ZM727.3 899.4h15.5v15.5h-15.5ZM728.2 900.2h15.5v15.5h-15.5ZM729.2 901h15.5v15.5h-15.5ZM730.1 901.8h15.5v15.5h-15.5ZM731 902.6h15.5v15.5h-15.5ZM731.9 903.3h15.5v15.5h-15.5ZM732.8 904.1h15.5v15.5h-15.5ZM733.7 904.9h15.5v15.5h-15.5ZM734.6 905.6h15.5v15.5h-15.5ZM735.4 906.3h15.5v15.5h-15.5ZM736.3 907.1h15.5v15.5h-15.5ZM737.2 907.8h15.5v15.5h-15.5ZM738 908.5h15.5v15.5h-15.5ZM738.9 909.2h15.5v15.5h-15.5ZM739.7 909.9h15.5v15.5h-15.5ZM740.5 910.6h15.5v15.5h-15.5ZM741.4 911.3h15.5v15.5h-15.5ZM742.2 912h15.5v15.5h-15.5ZM743 912.7h15.5v15.5h-15.5ZM743.8 913.4h15.5v15.5h-15.5ZM744.6 914.1h15.5v15.5h-15.5ZM745.4 914.7h15.5v15.5h-15.5ZM746.2 915.4h15.5v15.5h-15.5ZM747 916h15.5v15.5h-15.5ZM747.8 916.7h15.5v15.5h-15.5ZM748.6 917.3h15.5v15.5h-15.5ZM749.4 918h15.5v15.5h-15.5ZM750.1 918.6h15.5v15.5h-15.5ZM750.9 919.2h15.5v15.5h-15.5ZM751.7 919.9h15.5v15.5h-15.5ZM752.4 920.5h15.5v15.5h-15.5ZM753.2 921.1h15.5v15.5h-15.5ZM753.9 921.7h15.5v15.5h-15.5ZM754.7 922.3h15.5v15.5h-15.5ZM755.4 922.9h15.5v15.5h-15.5ZM756.1 923.5h15.5v15.5h-15.5ZM756.9 924.1h15.5v15.5h-15.5ZM757.6 924.6h15.5v15.5h-15.5ZM758.3 925.2h15.5v15.5h-15.5ZM759 925.8h15.5v15.5h-15.5ZM759.7 926.3h15.5v15.5h-15.5ZM760.4 926.9h15.5v15.5h-15.5ZM761.1 927.5h15.5v15.5h-15.5ZM761.8 928h15.5v15.5h-15.5ZM762.5 928.6h15.5v15.5h-15.5ZM763.2 929.1h15.5v15.5h-15.5ZM763.9 929.6h15.5v15.5h-15.5ZM764.6 930.2h15.5v15.5h-15.5ZM765.3 930.7h15.5v15.5h-15.5ZM765.9 931.2h15.5v15.5h-15.5ZM766.6 931.7h15.5v15.5h-15.5ZM767.3 932.2h15.5v15.5h-15.5ZM767.9 932.8h15.5v15.5h-15.5ZM768.6 933.3h15.5v15.5h-15.5ZM769.2 933.8h15.5v15.5h-15.5ZM769.9 934.3h15.5v15.5h-15.5ZM770.5 934.8h15.5v15.5h-15.5ZM771.2 935.2h15.5v15.5h-15.5ZM771.8 935.7h15.5v15.5h-15.5ZM772.4 936.2h15.5v15.5h-15.5ZM773.1 936.7h15.5v15.5h-15.5ZM773.7 937.2h15.5v15.5h-15.5ZM774.3 937.6h15.5v15.5h-15.5ZM775 938.1h15.5v15.5h-15.5ZM775.6 938.6h15.5v15.5h-15.5ZM776.2 939h15.5v15.5h-15.5ZM776.8 939.5h15.5v15.5h-15.5ZM777.4 939.9h15.5v15.5h-15.5ZM778 940.4h15.5v15.5h-15.5ZM778.6 940.8h15.5v15.5h-15.5ZM779.2 941.2h15.5v15.5h-15.5ZM779.8 941.7h15.5v15.5h-15.5ZM780.4 942.1h15.5v15.5h-15.5ZM781 942.5h15.5v15.5h-15.5ZM781.6 943h15.5v15.5h-15.5ZM782.2 943.4h15.5v15.5h-15.5ZM782.8 943.8h15.5v15.5h-15.5ZM783.3 944.2h15.5v15.5h-15.5ZM783.9 944.6h15.5v15.5h-15.5ZM784.5 945h15.5v15.5h-15.5ZM785.1 945.4h15.5v15.5h-15.5ZM785.6 945.8h15.5v15.5h-15.5ZM786.2 946.2h15.5v15.5h-15.5ZM786.8 946.6h15.5v15.5h-15.5ZM787.3 947h15.5v15.5h-15.5ZM787.9 947.4h15.5v15.5h-15.5ZM788.4 947.8h15.5v15.5h-15.5ZM789 948.2h15.5v15.5h-15.5ZM789.5 948.5h15.5v15.5h-15.5ZM790.1 948.9h15.5v15.5h-15.5ZM790.6 949.3h15.5v15.5h-15.5ZM791.2 949.6h15.5v15.5h-15.5Z" fill="none" stroke="#0b0c09" stroke-width="1.8"/>
<path d="M164.4 713h14M164.4 717h14M171.4 713V717M245.3 717.2h14M245.3 721.6h14M252.3 717.2V721.6M292.7 720h14M292.7 724.8h14M299.7 720V724.8M326.2 722.9h14M326.2 728.1h14M333.2 722.9V728.1M352.3 725.1h14M352.3 730.6h14M359.3 725.1V730.6M373.6 727.9h14M373.6 733.7h14M380.6 727.9V733.7M391.6 731.9h14M391.6 737.9h14M398.6 731.9V737.9M407.2 735.9h14M407.2 742.2h14M414.2 735.9V742.2M420.9 738.6h14M420.9 745.2h14M427.9 738.6V745.2M433.2 739.5h14M433.2 746.5h14M440.2 739.5V746.5M444.3 739.9h14M444.3 747.3h14M451.3 739.9V747.3M454.5 741.2h14M454.5 749h14M461.5 741.2V749M463.8 742.5h14M463.8 750.7h14M470.8 742.5V750.7M472.5 744h14M472.5 752.5h14M479.5 744V752.5M480.5 745.6h14M480.5 754.5h14M487.5 745.6V754.5M488.1 747.2h14M488.1 756.5h14M495.1 747.2V756.5M495.2 748.9h14M495.2 758.6h14M502.2 748.9V758.6M501.8 750.7h14M501.8 760.7h14M508.8 750.7V760.7M508.1 752.6h14M508.1 762.8h14M515.1 752.6V762.8M514.1 754.5h14M514.1 765h14M521.1 754.5V765M519.8 756.4h14M519.8 767.2h14M526.8 756.4V767.2M525.3 758.4h14M525.3 769.4h14M532.3 758.4V769.4M530.4 760.3h14M530.4 771.7h14M537.4 760.3V771.7M535.4 762.3h14M535.4 773.9h14M542.4 762.3V773.9M540.2 764.3h14M540.2 776.1h14M547.2 764.3V776.1M544.8 766.3h14M544.8 778.3h14M551.8 766.3V778.3M549.2 768.3h14M549.2 780.5h14M556.2 768.3V780.5M553.4 770.3h14M553.4 782.7h14M560.4 770.3V782.7M557.5 772.3h14M557.5 784.9h14M564.5 772.3V784.9M561.5 774.3h14M561.5 787h14M568.5 774.3V787M565.3 776.3h14M565.3 789.2h14M572.3 776.3V789.2M569 778.2h14M569 791.3h14M576 778.2V791.3M572.6 780.2h14M572.6 793.4h14M579.6 780.2V793.4M576.1 782.1h14M576.1 795.5h14M583.1 782.1V795.5M579.5 784.1h14M579.5 797.6h14M586.5 784.1V797.6M582.7 786h14M582.7 799.6h14M589.7 786V799.6M585.9 787.9h14M585.9 801.6h14M592.9 787.9V801.6M589.1 789.8h14M589.1 803.6h14M596.1 789.8V803.6M592.1 791.6h14M592.1 805.6h14M599.1 791.6V805.6M595 793.5h14M595 807.6h14M602 793.5V807.6M597.9 795.3h14M597.9 809.5h14M604.9 795.3V809.5M600.7 797.2h14M600.7 811.4h14M607.7 797.2V811.4M603.5 799h14M603.5 813.3h14M610.5 799V813.3M606.2 800.8h14M606.2 815.2h14M613.2 800.8V815.2M608.8 802.5h14M608.8 817h14M615.8 802.5V817M611.4 804.3h14M611.4 818.9h14M618.4 804.3V818.9M613.9 806h14M613.9 820.7h14M620.9 806V820.7M616.3 807.7h14M616.3 822.5h14M623.3 807.7V822.5M618.7 809.4h14M618.7 824.3h14M625.7 809.4V824.3M621.1 811.1h14M621.1 826h14M628.1 811.1V826M623.4 812.8h14M623.4 827.8h14M630.4 812.8V827.8M625.7 814.4h14M625.7 829.5h14M632.7 814.4V829.5M627.9 816h14M627.9 831.2h14M634.9 816V831.2M630.1 817.6h14M630.1 832.9h14M637.1 817.6V832.9M632.2 819.2h14M632.2 834.5h14M639.2 819.2V834.5M634.3 820.8h14M634.3 836.2h14M641.3 820.8V836.2M636.4 822.4h14M636.4 837.8h14M643.4 822.4V837.8M638.4 823.9h14M638.4 839.4h14M645.4 823.9V839.4M640.4 825.4h14M640.4 841h14M647.4 825.4V841M642.4 826.9h14M642.4 842.5h14M649.4 826.9V842.5M644.3 828.4h14M644.3 844.1h14M651.3 828.4V844.1M646.2 829.9h14M646.2 845.6h14M653.2 829.9V845.6M648.1 831.4h14M648.1 847.2h14M655.1 831.4V847.2M649.9 832.8h14M649.9 848.7h14M656.9 832.8V848.7M651.7 834.2h14M651.7 850.1h14M658.7 834.2V850.1M653.5 835.6h14M653.5 851.6h14M660.5 835.6V851.6M655.3 837h14M655.3 853.1h14M662.3 837V853.1M657 838.4h14M657 854.5h14M664 838.4V854.5M658.7 839.8h14M658.7 855.9h14M665.7 839.8V855.9M660.4 841.2h14M660.4 857.3h14M667.4 841.2V857.3M662 842.5h14M662 858.7h14M669 842.5V858.7M663.7 843.8h14M663.7 860.1h14M670.7 843.8V860.1M665.3 845.1h14M665.3 861.5h14M672.3 845.1V861.5M666.9 846.4h14M666.9 862.8h14M673.9 846.4V862.8M668.4 847.7h14M668.4 864.1h14M675.4 847.7V864.1M670 849h14M670 865.5h14M677 849V865.5M671.5 850.3h14M671.5 866.8h14M678.5 850.3V866.8M673 851.5h14M673 868.1h14M680 851.5V868.1M674.5 852.7h14M674.5 869.3h14M681.5 852.7V869.3M676 854h14M676 870.6h14M683 854V870.6M677.4 855.2h14M677.4 871.9h14M684.4 855.2V871.9M678.8 856.4h14M678.8 873.1h14M685.8 856.4V873.1M680.3 857.5h14M680.3 874.3h14M687.3 857.5V874.3M681.7 858.7h14M681.7 875.5h14M688.7 858.7V875.5M683 859.9h14M683 876.7h14M690 859.9V876.7M684.4 861h14M684.4 877.9h14M691.4 861V877.9M685.8 862.2h14M685.8 879.1h14M692.8 862.2V879.1M687.1 863.3h14M687.1 880.3h14M694.1 863.3V880.3M688.4 864.4h14M688.4 881.4h14M695.4 864.4V881.4M689.7 865.5h14M689.7 882.6h14M696.7 865.5V882.6M691 866.6h14M691 883.7h14M698 866.6V883.7M692.3 867.7h14M692.3 884.8h14M699.3 867.7V884.8M693.5 868.7h14M693.5 885.9h14M700.5 868.7V885.9M694.8 869.8h14M694.8 887h14M701.8 869.8V887M696 870.9h14M696 888.1h14M703 870.9V888.1M697.3 871.9h14M697.3 889.2h14M704.3 871.9V889.2M698.5 872.9h14M698.5 890.3h14M705.5 872.9V890.3M699.7 873.9h14M699.7 891.3h14M706.7 873.9V891.3M700.8 875h14M700.8 892.4h14M707.8 875V892.4M702 876h14M702 893.4h14M709 876V893.4M703.2 876.9h14M703.2 894.4h14M710.2 876.9V894.4M704.3 877.9h14M704.3 895.4h14M711.3 877.9V895.4M705.5 878.9h14M705.5 896.4h14M712.5 878.9V896.4M706.6 879.9h14M706.6 897.4h14M713.6 879.9V897.4M707.7 880.8h14M707.7 898.4h14M714.7 880.8V898.4M708.8 881.8h14M708.8 899.4h14M715.8 881.8V899.4M709.9 882.7h14M709.9 900.3h14M716.9 882.7V900.3M711 883.6h14M711 901.3h14M718 883.6V901.3M712.1 884.5h14M712.1 902.2h14M719.1 884.5V902.2M713.1 885.4h14M713.1 903.2h14M720.1 885.4V903.2M714.2 886.3h14M714.2 904.1h14M721.2 886.3V904.1M715.2 887.2h14M715.2 905h14M722.2 887.2V905M716.3 888.1h14M716.3 905.9h14M723.3 888.1V905.9M717.3 889h14M717.3 906.9h14M724.3 889V906.9M718.3 889.9h14M718.3 907.7h14M725.3 889.9V907.7M719.3 890.7h14M719.3 908.6h14M726.3 890.7V908.6M720.3 891.6h14M720.3 909.5h14M727.3 891.6V909.5M721.3 892.4h14M721.3 910.4h14M728.3 892.4V910.4M722.3 893.2h14M722.3 911.2h14M729.3 893.2V911.2M723.3 894.1h14M723.3 912.1h14M730.3 894.1V912.1M724.3 894.9h14M724.3 913h14M731.3 894.9V913M725.2 895.7h14M725.2 913.8h14M732.2 895.7V913.8M726.2 896.5h14M726.2 914.6h14M733.2 896.5V914.6M727.1 897.3h14M727.1 915.4h14M734.1 897.3V915.4M728.1 898.1h14M728.1 916.3h14M735.1 898.1V916.3M729 898.9h14M729 917.1h14M736 898.9V917.1M729.9 899.7h14M729.9 917.9h14M736.9 899.7V917.9M730.8 900.4h14M730.8 918.7h14M737.8 900.4V918.7M731.7 901.2h14M731.7 919.5h14M738.7 901.2V919.5M732.6 901.9h14M732.6 920.2h14M739.6 901.9V920.2M733.5 902.7h14M733.5 921h14M740.5 902.7V921M734.4 903.4h14M734.4 921.8h14M741.4 903.4V921.8M735.3 904.2h14M735.3 922.5h14M742.3 904.2V922.5M736.2 904.9h14M736.2 923.3h14M743.2 904.9V923.3M737 905.6h14M737 924h14M744 905.6V924M737.9 906.3h14M737.9 924.8h14M744.9 906.3V924.8M738.8 907h14M738.8 925.5h14M745.8 907V925.5M739.6 907.7h14M739.6 926.2h14M746.6 907.7V926.2M740.5 908.4h14M740.5 926.9h14M747.5 908.4V926.9M741.3 909.1h14M741.3 927.7h14M748.3 909.1V927.7M742.1 909.8h14M742.1 928.4h14M749.1 909.8V928.4M743 910.5h14M743 929.1h14M750 910.5V929.1M743.8 911.2h14M743.8 929.8h14M750.8 911.2V929.8M744.6 911.8h14M744.6 930.4h14M751.6 911.8V930.4M745.4 912.5h14M745.4 931.1h14M752.4 912.5V931.1M746.2 913.2h14M746.2 931.8h14M753.2 913.2V931.8M747 913.8h14M747 932.5h14M754 913.8V932.5M747.8 914.4h14M747.8 933.1h14M754.8 914.4V933.1M748.6 915.1h14M748.6 933.8h14M755.6 915.1V933.8M749.3 915.7h14M749.3 934.5h14M756.3 915.7V934.5M750.1 916.3h14M750.1 935.1h14M757.1 916.3V935.1M750.9 917h14M750.9 935.7h14M757.9 917V935.7M751.7 917.6h14M751.7 936.4h14M758.7 917.6V936.4M752.4 918.2h14M752.4 937h14M759.4 918.2V937M753.2 918.8h14M753.2 937.6h14M760.2 918.8V937.6M753.9 919.4h14M753.9 938.3h14M760.9 919.4V938.3M754.7 920h14M754.7 938.9h14M761.7 920V938.9M755.4 920.6h14M755.4 939.5h14M762.4 920.6V939.5M756.2 921.2h14M756.2 940.1h14M763.2 921.2V940.1M756.9 921.8h14M756.9 940.7h14M763.9 921.8V940.7M757.6 922.3h14M757.6 941.3h14M764.6 922.3V941.3M758.3 922.9h14M758.3 941.9h14M765.3 922.9V941.9M759.1 923.5h14M759.1 942.5h14M766.1 923.5V942.5M759.8 924h14M759.8 943h14M766.8 924V943M760.5 924.6h14M760.5 943.6h14M767.5 924.6V943.6M761.2 925.1h14M761.2 944.2h14M768.2 925.1V944.2M761.9 925.7h14M761.9 944.7h14M768.9 925.7V944.7M762.6 926.2h14M762.6 945.3h14M769.6 926.2V945.3M763.3 926.8h14M763.3 945.9h14M770.3 926.8V945.9M764 927.3h14M764 946.4h14M771 927.3V946.4M764.6 927.8h14M764.6 946.9h14M771.6 927.8V946.9M765.3 928.3h14M765.3 947.5h14M772.3 928.3V947.5M766 928.9h14M766 948h14M773 928.9V948M766.7 929.4h14M766.7 948.6h14M773.7 929.4V948.6M767.3 929.9h14M767.3 949.1h14M774.3 929.9V949.1M768 930.4h14M768 949.6h14M775 930.4V949.6M768.7 930.9h14M768.7 950.1h14M775.7 930.9V950.1M769.3 931.4h14M769.3 950.6h14M776.3 931.4V950.6M770 931.9h14M770 951.2h14M777 931.9V951.2M770.6 932.4h14M770.6 951.7h14M777.6 932.4V951.7M771.3 932.9h14M771.3 952.2h14M778.3 932.9V952.2M771.9 933.3h14M771.9 952.7h14M778.9 933.3V952.7M772.6 933.8h14M772.6 953.2h14M779.6 933.8V953.2M773.2 934.3h14M773.2 953.6h14M780.2 934.3V953.6M773.8 934.8h14M773.8 954.1h14M780.8 934.8V954.1M774.5 935.2h14M774.5 954.6h14M781.5 935.2V954.6M775.1 935.7h14M775.1 955.1h14M782.1 935.7V955.1M775.7 936.1h14M775.7 955.6h14M782.7 936.1V955.6M776.3 936.6h14M776.3 956h14M783.3 936.6V956M776.9 937h14M776.9 956.5h14M783.9 937V956.5M777.6 937.5h14M777.6 956.9h14M784.6 937.5V956.9M778.2 937.9h14M778.2 957.4h14M785.2 937.9V957.4M778.8 938.4h14M778.8 957.9h14M785.8 938.4V957.9M779.4 938.8h14M779.4 958.3h14M786.4 938.8V958.3M780 939.2h14M780 958.8h14M787 939.2V958.8M780.6 939.7h14M780.6 959.2h14M787.6 939.7V959.2M781.2 940.1h14M781.2 959.6h14M788.2 940.1V959.6M781.8 940.5h14M781.8 960.1h14M788.8 940.5V960.1M782.3 940.9h14M782.3 960.5h14M789.3 940.9V960.5M782.9 941.3h14M782.9 960.9h14M789.9 941.3V960.9M783.5 941.7h14M783.5 961.4h14M790.5 941.7V961.4M784.1 942.2h14M784.1 961.8h14M791.1 942.2V961.8M784.7 942.6h14M784.7 962.2h14M791.7 942.6V962.2M785.2 943h14M785.2 962.6h14M792.2 943V962.6M785.8 943.3h14M785.8 963h14M792.8 943.3V963M786.4 943.7h14M786.4 963.4h14M793.4 943.7V963.4M786.9 944.1h14M786.9 963.8h14M793.9 944.1V963.8M787.5 944.5h14M787.5 964.2h14M794.5 944.5V964.2M788.1 944.9h14M788.1 964.6h14M795.1 944.9V964.6M788.6 945.3h14M788.6 965h14M795.6 945.3V965M789.2 945.7h14M789.2 965.4h14M796.2 945.7V965.4M789.7 946h14M789.7 965.8h14M796.7 946V965.8M790.3 946.4h14M790.3 966.2h14M797.3 946.4V966.2M790.8 946.8h14M790.8 966.5h14M797.8 946.8V966.5M791.4 947.1h14M791.4 966.9h14M798.4 947.1V966.9M791.9 947.5h14M791.9 967.3h14M798.9 947.5V967.3" fill="none" stroke="#0b0c09" stroke-width="1.8"/>
<path d="M445 743L447.6 742.7L450.2 742.2L452.8 741.8L455.4 741.3L458 740.8L460.6 740.3L463.2 739.7L465.8 739.2L468.4 738.6L471 738.1L473.6 737.5L476.3 737.4L478.9 737.7L481.5 738.1L484.1 738.5L486.7 738.9L489.3 739.4L491.9 739.9L494.5 740.5L497.1 741.1L499.7 741.7L502.3 742.3L504.9 743L507.5 743.7L510.1 744.4L512.7 745.2L515.3 746L517.9 746.8L520.5 747.6L523.1 748.5L525.7 749.4L528.3 750.4L530.9 751.3L533.5 752.3L536.2 753.3L538.8 754.4L541.4 755.5L544 756.6L546.6 757.7L549.2 758.8L551.8 760L554.4 761.2L557 762.4L559.6 763.7L562.2 765L564.8 766.3L567.4 767.6L570 769L572.6 770.3L575.2 771.7L577.8 773.1L580.4 774.6L583 776L585.6 777.5L588.2 779L590.8 780.6L593.4 782.1L596.1 783.7L598.7 785.3L601.3 786.9L603.9 788.5L606.5 790.2L609.1 791.8L611.7 793.5L614.3 795.2L616.9 796.9L619.5 798.7L622.1 800.4L624.7 802.2L627.3 804L629.9 805.8L632.5 807.6L635.1 809.5L637.7 811.3L640.3 813.2L642.9 815.1L645.5 817L648.1 818.9L650.7 820.8L653.3 822.8L655.9 824.7L658.6 826.7L661.2 828.7L663.8 830.6L666.4 832.6L669 834.7L671.6 836.7L674.2 838.7L676.8 840.8L679.4 842.8L682 844.9L684.6 847L687.2 849L689.8 851.1L692.4 853.2L695 855.3L697.6 857.4L700.2 859.6L702.8 861.7L705.4 863.8L708 866L710.6 868.1L713.2 870.3L715.8 872.4L718.5 874.6L721.1 876.8L723.7 878.9L726.3 881.1L728.9 883.3L731.5 885.4L734.1 887.6L736.7 889.8L739.3 892L741.9 894.2L744.5 896.4L747.1 898.6L749.7 900.7L752.3 902.9L754.9 905.1L757.5 907.3L760.1 909.5L762.7 911.7L765.3 913.9L767.9 916L770.5 918.2L773.1 920.4L775.7 922.5L778.4 924.7L781 926.9L783.6 929L786.2 931.2L788.8 933.3L791.4 935.5L794 937.6L796.6 939.7L799.2 941.8L801.8 943.9L804.4 946L807 948.1L807 977.3L804.4 976L801.8 974.7L799.2 973.3L796.6 971.9L794 970.4L791.4 968.9L788.8 967.3L786.2 965.6L783.6 963.9L781 962.2L778.4 960.4L775.7 958.6L773.1 956.7L770.5 954.8L767.9 952.9L765.3 950.9L762.7 948.9L760.1 946.9L757.5 944.8L754.9 942.7L752.3 940.6L749.7 938.4L747.1 936.2L744.5 934L741.9 931.8L739.3 929.6L736.7 927.3L734.1 925L731.5 922.7L728.9 920.4L726.3 918.1L723.7 915.8L721.1 913.5L718.5 911.1L715.8 908.8L713.2 906.4L710.6 904L708 901.7L705.4 899.3L702.8 896.9L700.2 894.6L697.6 892.2L695 889.8L692.4 887.5L689.8 885.1L687.2 882.7L684.6 880.4L682 878L679.4 875.7L676.8 873.4L674.2 871.1L671.6 868.8L669 866.5L666.4 864.2L663.8 861.9L661.2 859.7L658.6 857.4L655.9 855.2L653.3 853L650.7 850.8L648.1 848.6L645.5 846.5L642.9 844.3L640.3 842.2L637.7 840.1L635.1 838L632.5 836L629.9 834L627.3 832L624.7 830L622.1 828L619.5 826.1L616.9 824.1L614.3 822.2L611.7 820.4L609.1 818.5L606.5 816.7L603.9 814.9L601.3 813.2L598.7 811.4L596.1 809.7L593.4 808L590.8 806.3L588.2 804.7L585.6 803.1L583 801.5L580.4 800L577.8 798.4L575.2 796.9L572.6 795.5L570 794L567.4 792.6L564.8 791.2L562.2 789.8L559.6 788.5L557 787.2L554.4 785.9L551.8 784.6L549.2 783.4L546.6 782.2L544 781L541.4 779.8L538.8 778.7L536.2 777.6L533.5 776.5L530.9 775.5L528.3 774.4L525.7 773.4L523.1 772.4L520.5 771.5L517.9 770.5L515.3 769.6L512.7 768.7L510.1 767.8L507.5 766.9L504.9 766.1L502.3 765.3L499.7 764.5L497.1 763.7L494.5 762.9L491.9 762.1L489.3 761.4L486.7 760.7L484.1 759.9L481.5 759.2L478.9 758.5L476.3 757.9L473.6 756.7L471 755.2L468.4 753.8L465.8 752.3L463.2 751L460.6 749.7L458 748.4L455.4 747.2L452.8 746L450.2 745L447.6 744L445 743Z" fill="#0b0c09"/>
<path d="M171.4 716 175.4 716 179.4 716 183.4 716 187.4 716.1 191.3 716.1 195.3 716.2 199.3 716.2 203.3 716.3 207.3 716.4 211.3 716.5 215.2 716.5 219.2 716.6 223.2 716.7 227.2 716.8 231.2 716.9 235.2 717 239.2 717.1 243.1 717.3 247.1 717.4 251.1 717.5 255.1 717.6 259.1 717.7 263.1 717.9 267.1 718.1 271 718.2 275 718.4 279 718.7 283 718.9 287 719.1 291 719.4 294.9 719.7 298.9 719.9 302.9 720.2 306.9 720.5 310.9 720.9 314.9 721.2 318.9 721.6 322.8 722 326.8 722.4 330.8 722.9 334.8 723.3 338.8 723.8 342.8 724.3 346.7 724.8 350.7 725.3 354.7 725.9 358.7 726.4 362.7 727 366.7 727.6 370.7 728.1 374.6 728.7 378.6 729.3 382.6 729.9 386.6 730.5 390.6 731.2 394.6 731.9 398.5 732.6 402.5 733.4 406.5 734.2 410.5 734.9 414.5 735.8 418.5 736.6 422.5 737.4 426.4 738.2 430.4 739 434.4 739.9 438.4 740.7 442.4 741.5 446.4 742.2 450.4 742.7 454.3 743.1 458.3 743.6 462.3 744.2 466.3 744.8 470.3 745.5 474.3 746.2 478.2 747 482.2 747.8 486.2 748.7 490.2 749.6 494.2 750.6 498.2 751.7 502.2 752.8 506.1 753.9 510.1 755.1 514.1 756.4 518.1 757.7 522.1 759.1 526.1 760.5 530 762 534 763.6 538 765.2 542 766.9 546 768.7 550 770.5 554 772.3 557.9 774.3 561.9 776.3 565.9 778.3 569.9 780.4 573.9 782.6 577.9 784.8 581.9 787.1 585.8 789.4 589.8 791.8 593.8 794.3 597.8 796.8 601.8 799.4 605.8 802 609.7 804.6 613.7 807.4 617.7 810.1 621.7 812.9 625.7 815.8 629.7 818.7 633.7 821.7 637.6 824.7 641.6 827.7 645.6 830.8 649.6 833.9 653.6 837.1 657.6 840.3 661.5 843.5 665.5 846.7 669.5 850 673.5 853.3 677.5 856.7 681.5 860 685.5 863.4 689.4 866.8 693.4 870.2 697.4 873.6 701.4 877.1 705.4 880.5 709.4 884 713.3 887.4 717.3 890.9 721.3 894.3 725.3 897.8 729.3 901.2 733.3 904.6 737.3 908.1 741.2 911.4 745.2 914.8 749.2 918.2 753.2 921.5 757.2 924.8 761.2 928 765.2 931.2 769.1 934.4 773.1 937.5 777.1 940.6 781.1 943.6 785.1 946.6 789.1 949.5 793 952.3 797 955.1 801 957.8 805 960.4" fill="none" stroke="#0b0c09" stroke-width="5"/>
<path d="M163.7 745.1a7.7 7.7 0 1 0 15.4 0a7.7 7.7 0 1 0 -15.4 0M244.6 762.7a7.7 7.7 0 1 0 15.4 0a7.7 7.7 0 1 0 -15.4 0M292 773.6a7.7 7.7 0 1 0 15.4 0a7.7 7.7 0 1 0 -15.4 0M325.5 782a7.7 7.7 0 1 0 15.4 0a7.7 7.7 0 1 0 -15.4 0M351.6 788.6a7.7 7.7 0 1 0 15.4 0a7.7 7.7 0 1 0 -15.4 0M372.9 793.3a7.7 7.7 0 1 0 15.4 0a7.7 7.7 0 1 0 -15.4 0M390.9 797.3a7.7 7.7 0 1 0 15.4 0a7.7 7.7 0 1 0 -15.4 0M406.5 800.7a7.7 7.7 0 1 0 15.4 0a7.7 7.7 0 1 0 -15.4 0M420.2 803.9a7.7 7.7 0 1 0 15.4 0a7.7 7.7 0 1 0 -15.4 0M432.5 807.1a7.7 7.7 0 1 0 15.4 0a7.7 7.7 0 1 0 -15.4 0M443.6 810.4a7.7 7.7 0 1 0 15.4 0a7.7 7.7 0 1 0 -15.4 0M453.8 813.7a7.7 7.7 0 1 0 15.4 0a7.7 7.7 0 1 0 -15.4 0M463.1 816.8a7.7 7.7 0 1 0 15.4 0a7.7 7.7 0 1 0 -15.4 0M471.8 819.9a7.7 7.7 0 1 0 15.4 0a7.7 7.7 0 1 0 -15.4 0M479.8 822.9a7.7 7.7 0 1 0 15.4 0a7.7 7.7 0 1 0 -15.4 0M487.4 825.7a7.7 7.7 0 1 0 15.4 0a7.7 7.7 0 1 0 -15.4 0M494.5 828.3a7.7 7.7 0 1 0 15.4 0a7.7 7.7 0 1 0 -15.4 0M501.1 831a7.7 7.7 0 1 0 15.4 0a7.7 7.7 0 1 0 -15.4 0M507.4 833.5a7.7 7.7 0 1 0 15.4 0a7.7 7.7 0 1 0 -15.4 0M513.4 836a7.7 7.7 0 1 0 15.4 0a7.7 7.7 0 1 0 -15.4 0M519.1 838.5a7.7 7.7 0 1 0 15.4 0a7.7 7.7 0 1 0 -15.4 0M524.6 840.9a7.7 7.7 0 1 0 15.4 0a7.7 7.7 0 1 0 -15.4 0M529.7 843.2a7.7 7.7 0 1 0 15.4 0a7.7 7.7 0 1 0 -15.4 0M534.7 845.5a7.7 7.7 0 1 0 15.4 0a7.7 7.7 0 1 0 -15.4 0M539.5 847.9a7.7 7.7 0 1 0 15.4 0a7.7 7.7 0 1 0 -15.4 0M544.1 850.2a7.7 7.7 0 1 0 15.4 0a7.7 7.7 0 1 0 -15.4 0M548.5 852.4a7.7 7.7 0 1 0 15.4 0a7.7 7.7 0 1 0 -15.4 0M552.7 854.4a7.7 7.7 0 1 0 15.4 0a7.7 7.7 0 1 0 -15.4 0M556.8 856.3a7.7 7.7 0 1 0 15.4 0a7.7 7.7 0 1 0 -15.4 0M560.8 858.1a7.7 7.7 0 1 0 15.4 0a7.7 7.7 0 1 0 -15.4 0M564.6 859.9a7.7 7.7 0 1 0 15.4 0a7.7 7.7 0 1 0 -15.4 0M568.3 861.7a7.7 7.7 0 1 0 15.4 0a7.7 7.7 0 1 0 -15.4 0M571.9 863.4a7.7 7.7 0 1 0 15.4 0a7.7 7.7 0 1 0 -15.4 0M575.4 865a7.7 7.7 0 1 0 15.4 0a7.7 7.7 0 1 0 -15.4 0M578.8 866.6a7.7 7.7 0 1 0 15.4 0a7.7 7.7 0 1 0 -15.4 0M582 868.2a7.7 7.7 0 1 0 15.4 0a7.7 7.7 0 1 0 -15.4 0M585.2 869.8a7.7 7.7 0 1 0 15.4 0a7.7 7.7 0 1 0 -15.4 0M588.4 871.3a7.7 7.7 0 1 0 15.4 0a7.7 7.7 0 1 0 -15.4 0M591.4 872.8a7.7 7.7 0 1 0 15.4 0a7.7 7.7 0 1 0 -15.4 0M594.3 874.3a7.7 7.7 0 1 0 15.4 0a7.7 7.7 0 1 0 -15.4 0M597.2 875.8a7.7 7.7 0 1 0 15.4 0a7.7 7.7 0 1 0 -15.4 0M600 877.3a7.7 7.7 0 1 0 15.4 0a7.7 7.7 0 1 0 -15.4 0M602.8 878.8a7.7 7.7 0 1 0 15.4 0a7.7 7.7 0 1 0 -15.4 0M605.5 880.2a7.7 7.7 0 1 0 15.4 0a7.7 7.7 0 1 0 -15.4 0M608.1 881.7a7.7 7.7 0 1 0 15.4 0a7.7 7.7 0 1 0 -15.4 0M610.7 883.1a7.7 7.7 0 1 0 15.4 0a7.7 7.7 0 1 0 -15.4 0M613.2 884.5a7.7 7.7 0 1 0 15.4 0a7.7 7.7 0 1 0 -15.4 0M615.6 885.9a7.7 7.7 0 1 0 15.4 0a7.7 7.7 0 1 0 -15.4 0M618 887.3a7.7 7.7 0 1 0 15.4 0a7.7 7.7 0 1 0 -15.4 0M620.4 888.7a7.7 7.7 0 1 0 15.4 0a7.7 7.7 0 1 0 -15.4 0M622.7 890.1a7.7 7.7 0 1 0 15.4 0a7.7 7.7 0 1 0 -15.4 0M625 891.5a7.7 7.7 0 1 0 15.4 0a7.7 7.7 0 1 0 -15.4 0M627.2 892.8a7.7 7.7 0 1 0 15.4 0a7.7 7.7 0 1 0 -15.4 0M629.4 894.2a7.7 7.7 0 1 0 15.4 0a7.7 7.7 0 1 0 -15.4 0M631.5 895.5a7.7 7.7 0 1 0 15.4 0a7.7 7.7 0 1 0 -15.4 0M633.6 896.9a7.7 7.7 0 1 0 15.4 0a7.7 7.7 0 1 0 -15.4 0M635.7 898.2a7.7 7.7 0 1 0 15.4 0a7.7 7.7 0 1 0 -15.4 0M637.7 899.5a7.7 7.7 0 1 0 15.4 0a7.7 7.7 0 1 0 -15.4 0M639.7 900.9a7.7 7.7 0 1 0 15.4 0a7.7 7.7 0 1 0 -15.4 0M641.7 902.2a7.7 7.7 0 1 0 15.4 0a7.7 7.7 0 1 0 -15.4 0M643.6 903.5a7.7 7.7 0 1 0 15.4 0a7.7 7.7 0 1 0 -15.4 0M645.5 904.8a7.7 7.7 0 1 0 15.4 0a7.7 7.7 0 1 0 -15.4 0M647.4 906.1a7.7 7.7 0 1 0 15.4 0a7.7 7.7 0 1 0 -15.4 0M649.2 907.3a7.7 7.7 0 1 0 15.4 0a7.7 7.7 0 1 0 -15.4 0M651 908.6a7.7 7.7 0 1 0 15.4 0a7.7 7.7 0 1 0 -15.4 0M652.8 909.9a7.7 7.7 0 1 0 15.4 0a7.7 7.7 0 1 0 -15.4 0M654.6 911.1a7.7 7.7 0 1 0 15.4 0a7.7 7.7 0 1 0 -15.4 0M656.3 912.3a7.7 7.7 0 1 0 15.4 0a7.7 7.7 0 1 0 -15.4 0M658 913.6a7.7 7.7 0 1 0 15.4 0a7.7 7.7 0 1 0 -15.4 0M659.7 914.8a7.7 7.7 0 1 0 15.4 0a7.7 7.7 0 1 0 -15.4 0M661.3 916a7.7 7.7 0 1 0 15.4 0a7.7 7.7 0 1 0 -15.4 0M663 917.2a7.7 7.7 0 1 0 15.4 0a7.7 7.7 0 1 0 -15.4 0M664.6 918.4a7.7 7.7 0 1 0 15.4 0a7.7 7.7 0 1 0 -15.4 0M666.2 919.6a7.7 7.7 0 1 0 15.4 0a7.7 7.7 0 1 0 -15.4 0M667.7 920.8a7.7 7.7 0 1 0 15.4 0a7.7 7.7 0 1 0 -15.4 0M669.3 922a7.7 7.7 0 1 0 15.4 0a7.7 7.7 0 1 0 -15.4 0M670.8 923.1a7.7 7.7 0 1 0 15.4 0a7.7 7.7 0 1 0 -15.4 0M672.3 924.3a7.7 7.7 0 1 0 15.4 0a7.7 7.7 0 1 0 -15.4 0M673.8 925.4a7.7 7.7 0 1 0 15.4 0a7.7 7.7 0 1 0 -15.4 0M675.3 926.5a7.7 7.7 0 1 0 15.4 0a7.7 7.7 0 1 0 -15.4 0M676.7 927.7a7.7 7.7 0 1 0 15.4 0a7.7 7.7 0 1 0 -15.4 0M678.1 928.8a7.7 7.7 0 1 0 15.4 0a7.7 7.7 0 1 0 -15.4 0M679.6 929.9a7.7 7.7 0 1 0 15.4 0a7.7 7.7 0 1 0 -15.4 0M681 931a7.7 7.7 0 1 0 15.4 0a7.7 7.7 0 1 0 -15.4 0M682.3 932a7.7 7.7 0 1 0 15.4 0a7.7 7.7 0 1 0 -15.4 0M683.7 933.1a7.7 7.7 0 1 0 15.4 0a7.7 7.7 0 1 0 -15.4 0M685.1 934.2a7.7 7.7 0 1 0 15.4 0a7.7 7.7 0 1 0 -15.4 0M686.4 935.2a7.7 7.7 0 1 0 15.4 0a7.7 7.7 0 1 0 -15.4 0M687.7 936.3a7.7 7.7 0 1 0 15.4 0a7.7 7.7 0 1 0 -15.4 0M689 937.3a7.7 7.7 0 1 0 15.4 0a7.7 7.7 0 1 0 -15.4 0M690.3 938.3a7.7 7.7 0 1 0 15.4 0a7.7 7.7 0 1 0 -15.4 0M691.6 939.4a7.7 7.7 0 1 0 15.4 0a7.7 7.7 0 1 0 -15.4 0M692.8 940.4a7.7 7.7 0 1 0 15.4 0a7.7 7.7 0 1 0 -15.4 0M694.1 941.4a7.7 7.7 0 1 0 15.4 0a7.7 7.7 0 1 0 -15.4 0M695.3 942.4a7.7 7.7 0 1 0 15.4 0a7.7 7.7 0 1 0 -15.4 0M696.6 943.3a7.7 7.7 0 1 0 15.4 0a7.7 7.7 0 1 0 -15.4 0M697.8 944.3a7.7 7.7 0 1 0 15.4 0a7.7 7.7 0 1 0 -15.4 0M699 945.3a7.7 7.7 0 1 0 15.4 0a7.7 7.7 0 1 0 -15.4 0M700.1 946.2a7.7 7.7 0 1 0 15.4 0a7.7 7.7 0 1 0 -15.4 0M701.3 947.2a7.7 7.7 0 1 0 15.4 0a7.7 7.7 0 1 0 -15.4 0M702.5 948.1a7.7 7.7 0 1 0 15.4 0a7.7 7.7 0 1 0 -15.4 0M703.6 949a7.7 7.7 0 1 0 15.4 0a7.7 7.7 0 1 0 -15.4 0M704.8 949.9a7.7 7.7 0 1 0 15.4 0a7.7 7.7 0 1 0 -15.4 0M705.9 950.8a7.7 7.7 0 1 0 15.4 0a7.7 7.7 0 1 0 -15.4 0M707 951.7a7.7 7.7 0 1 0 15.4 0a7.7 7.7 0 1 0 -15.4 0M708.1 952.6a7.7 7.7 0 1 0 15.4 0a7.7 7.7 0 1 0 -15.4 0M709.2 953.5a7.7 7.7 0 1 0 15.4 0a7.7 7.7 0 1 0 -15.4 0M710.3 954.4a7.7 7.7 0 1 0 15.4 0a7.7 7.7 0 1 0 -15.4 0M711.4 955.2a7.7 7.7 0 1 0 15.4 0a7.7 7.7 0 1 0 -15.4 0M712.4 956.1a7.7 7.7 0 1 0 15.4 0a7.7 7.7 0 1 0 -15.4 0M713.5 956.9a7.7 7.7 0 1 0 15.4 0a7.7 7.7 0 1 0 -15.4 0M714.5 957.7a7.7 7.7 0 1 0 15.4 0a7.7 7.7 0 1 0 -15.4 0M715.6 958.5a7.7 7.7 0 1 0 15.4 0a7.7 7.7 0 1 0 -15.4 0M716.6 959.4a7.7 7.7 0 1 0 15.4 0a7.7 7.7 0 1 0 -15.4 0M717.6 960.2a7.7 7.7 0 1 0 15.4 0a7.7 7.7 0 1 0 -15.4 0M718.6 961a7.7 7.7 0 1 0 15.4 0a7.7 7.7 0 1 0 -15.4 0M719.6 961.7a7.7 7.7 0 1 0 15.4 0a7.7 7.7 0 1 0 -15.4 0M720.6 962.5a7.7 7.7 0 1 0 15.4 0a7.7 7.7 0 1 0 -15.4 0M721.6 963.3a7.7 7.7 0 1 0 15.4 0a7.7 7.7 0 1 0 -15.4 0M722.6 964a7.7 7.7 0 1 0 15.4 0a7.7 7.7 0 1 0 -15.4 0M723.6 964.8a7.7 7.7 0 1 0 15.4 0a7.7 7.7 0 1 0 -15.4 0M724.5 965.5a7.7 7.7 0 1 0 15.4 0a7.7 7.7 0 1 0 -15.4 0M725.5 966.3a7.7 7.7 0 1 0 15.4 0a7.7 7.7 0 1 0 -15.4 0M726.4 967a7.7 7.7 0 1 0 15.4 0a7.7 7.7 0 1 0 -15.4 0M727.4 967.7a7.7 7.7 0 1 0 15.4 0a7.7 7.7 0 1 0 -15.4 0M728.3 968.4a7.7 7.7 0 1 0 15.4 0a7.7 7.7 0 1 0 -15.4 0M729.2 969.1a7.7 7.7 0 1 0 15.4 0a7.7 7.7 0 1 0 -15.4 0M730.1 969.8a7.7 7.7 0 1 0 15.4 0a7.7 7.7 0 1 0 -15.4 0M731 970.5a7.7 7.7 0 1 0 15.4 0a7.7 7.7 0 1 0 -15.4 0M731.9 971.1a7.7 7.7 0 1 0 15.4 0a7.7 7.7 0 1 0 -15.4 0M732.8 971.8a7.7 7.7 0 1 0 15.4 0a7.7 7.7 0 1 0 -15.4 0M733.7 972.5a7.7 7.7 0 1 0 15.4 0a7.7 7.7 0 1 0 -15.4 0M734.6 973.1a7.7 7.7 0 1 0 15.4 0a7.7 7.7 0 1 0 -15.4 0M735.5 973.8a7.7 7.7 0 1 0 15.4 0a7.7 7.7 0 1 0 -15.4 0M736.3 974.4a7.7 7.7 0 1 0 15.4 0a7.7 7.7 0 1 0 -15.4 0M737.2 975a7.7 7.7 0 1 0 15.4 0a7.7 7.7 0 1 0 -15.4 0M738.1 975.6a7.7 7.7 0 1 0 15.4 0a7.7 7.7 0 1 0 -15.4 0M738.9 976.2a7.7 7.7 0 1 0 15.4 0a7.7 7.7 0 1 0 -15.4 0M739.8 976.8a7.7 7.7 0 1 0 15.4 0a7.7 7.7 0 1 0 -15.4 0M740.6 977.4a7.7 7.7 0 1 0 15.4 0a7.7 7.7 0 1 0 -15.4 0M741.4 978a7.7 7.7 0 1 0 15.4 0a7.7 7.7 0 1 0 -15.4 0M742.3 978.6a7.7 7.7 0 1 0 15.4 0a7.7 7.7 0 1 0 -15.4 0M743.1 979.2a7.7 7.7 0 1 0 15.4 0a7.7 7.7 0 1 0 -15.4 0M743.9 979.7a7.7 7.7 0 1 0 15.4 0a7.7 7.7 0 1 0 -15.4 0M744.7 980.3a7.7 7.7 0 1 0 15.4 0a7.7 7.7 0 1 0 -15.4 0M745.5 980.8a7.7 7.7 0 1 0 15.4 0a7.7 7.7 0 1 0 -15.4 0M746.3 981.3a7.7 7.7 0 1 0 15.4 0a7.7 7.7 0 1 0 -15.4 0M747.1 981.9a7.7 7.7 0 1 0 15.4 0a7.7 7.7 0 1 0 -15.4 0M747.9 982.4a7.7 7.7 0 1 0 15.4 0a7.7 7.7 0 1 0 -15.4 0M748.6 982.9a7.7 7.7 0 1 0 15.4 0a7.7 7.7 0 1 0 -15.4 0M749.4 983.4a7.7 7.7 0 1 0 15.4 0a7.7 7.7 0 1 0 -15.4 0M750.2 983.9a7.7 7.7 0 1 0 15.4 0a7.7 7.7 0 1 0 -15.4 0M751 984.4a7.7 7.7 0 1 0 15.4 0a7.7 7.7 0 1 0 -15.4 0M751.7 984.9a7.7 7.7 0 1 0 15.4 0a7.7 7.7 0 1 0 -15.4 0M752.5 985.4a7.7 7.7 0 1 0 15.4 0a7.7 7.7 0 1 0 -15.4 0M753.2 985.8a7.7 7.7 0 1 0 15.4 0a7.7 7.7 0 1 0 -15.4 0M754 986.3a7.7 7.7 0 1 0 15.4 0a7.7 7.7 0 1 0 -15.4 0M754.7 986.8a7.7 7.7 0 1 0 15.4 0a7.7 7.7 0 1 0 -15.4 0M755.5 987.2a7.7 7.7 0 1 0 15.4 0a7.7 7.7 0 1 0 -15.4 0M756.2 987.7a7.7 7.7 0 1 0 15.4 0a7.7 7.7 0 1 0 -15.4 0M756.9 988.1a7.7 7.7 0 1 0 15.4 0a7.7 7.7 0 1 0 -15.4 0M757.6 988.5a7.7 7.7 0 1 0 15.4 0a7.7 7.7 0 1 0 -15.4 0M758.4 988.9a7.7 7.7 0 1 0 15.4 0a7.7 7.7 0 1 0 -15.4 0M759.1 989.4a7.7 7.7 0 1 0 15.4 0a7.7 7.7 0 1 0 -15.4 0M759.8 989.8a7.7 7.7 0 1 0 15.4 0a7.7 7.7 0 1 0 -15.4 0M760.5 990.2a7.7 7.7 0 1 0 15.4 0a7.7 7.7 0 1 0 -15.4 0M761.2 990.5a7.7 7.7 0 1 0 15.4 0a7.7 7.7 0 1 0 -15.4 0M761.9 990.9a7.7 7.7 0 1 0 15.4 0a7.7 7.7 0 1 0 -15.4 0M762.6 991.3a7.7 7.7 0 1 0 15.4 0a7.7 7.7 0 1 0 -15.4 0M763.3 991.7a7.7 7.7 0 1 0 15.4 0a7.7 7.7 0 1 0 -15.4 0M763.9 992a7.7 7.7 0 1 0 15.4 0a7.7 7.7 0 1 0 -15.4 0M764.6 992.4a7.7 7.7 0 1 0 15.4 0a7.7 7.7 0 1 0 -15.4 0M765.3 992.8a7.7 7.7 0 1 0 15.4 0a7.7 7.7 0 1 0 -15.4 0M766 993.1a7.7 7.7 0 1 0 15.4 0a7.7 7.7 0 1 0 -15.4 0M766.6 993.5a7.7 7.7 0 1 0 15.4 0a7.7 7.7 0 1 0 -15.4 0M767.3 993.8a7.7 7.7 0 1 0 15.4 0a7.7 7.7 0 1 0 -15.4 0M768 994.1a7.7 7.7 0 1 0 15.4 0a7.7 7.7 0 1 0 -15.4 0M768.6 994.5a7.7 7.7 0 1 0 15.4 0a7.7 7.7 0 1 0 -15.4 0M769.3 994.8a7.7 7.7 0 1 0 15.4 0a7.7 7.7 0 1 0 -15.4 0M769.9 995.1a7.7 7.7 0 1 0 15.4 0a7.7 7.7 0 1 0 -15.4 0M770.6 995.4a7.7 7.7 0 1 0 15.4 0a7.7 7.7 0 1 0 -15.4 0M771.2 995.7a7.7 7.7 0 1 0 15.4 0a7.7 7.7 0 1 0 -15.4 0M771.9 996a7.7 7.7 0 1 0 15.4 0a7.7 7.7 0 1 0 -15.4 0M772.5 996.2a7.7 7.7 0 1 0 15.4 0a7.7 7.7 0 1 0 -15.4 0M773.1 996.5a7.7 7.7 0 1 0 15.4 0a7.7 7.7 0 1 0 -15.4 0M773.8 996.8a7.7 7.7 0 1 0 15.4 0a7.7 7.7 0 1 0 -15.4 0M774.4 997a7.7 7.7 0 1 0 15.4 0a7.7 7.7 0 1 0 -15.4 0M775 997.3a7.7 7.7 0 1 0 15.4 0a7.7 7.7 0 1 0 -15.4 0M775.6 997.6a7.7 7.7 0 1 0 15.4 0a7.7 7.7 0 1 0 -15.4 0M776.2 997.8a7.7 7.7 0 1 0 15.4 0a7.7 7.7 0 1 0 -15.4 0M776.9 998.1a7.7 7.7 0 1 0 15.4 0a7.7 7.7 0 1 0 -15.4 0M777.5 998.3a7.7 7.7 0 1 0 15.4 0a7.7 7.7 0 1 0 -15.4 0M778.1 998.6a7.7 7.7 0 1 0 15.4 0a7.7 7.7 0 1 0 -15.4 0M778.7 998.8a7.7 7.7 0 1 0 15.4 0a7.7 7.7 0 1 0 -15.4 0M779.3 999a7.7 7.7 0 1 0 15.4 0a7.7 7.7 0 1 0 -15.4 0M779.9 999.2a7.7 7.7 0 1 0 15.4 0a7.7 7.7 0 1 0 -15.4 0M780.5 999.4a7.7 7.7 0 1 0 15.4 0a7.7 7.7 0 1 0 -15.4 0M781.1 999.6a7.7 7.7 0 1 0 15.4 0a7.7 7.7 0 1 0 -15.4 0M781.6 999.8a7.7 7.7 0 1 0 15.4 0a7.7 7.7 0 1 0 -15.4 0M782.2 1000a7.7 7.7 0 1 0 15.4 0a7.7 7.7 0 1 0 -15.4 0M782.8 1000.2a7.7 7.7 0 1 0 15.4 0a7.7 7.7 0 1 0 -15.4 0M783.4 1000.4a7.7 7.7 0 1 0 15.4 0a7.7 7.7 0 1 0 -15.4 0M784 1000.5a7.7 7.7 0 1 0 15.4 0a7.7 7.7 0 1 0 -15.4 0M784.5 1000.7a7.7 7.7 0 1 0 15.4 0a7.7 7.7 0 1 0 -15.4 0M785.1 1000.8a7.7 7.7 0 1 0 15.4 0a7.7 7.7 0 1 0 -15.4 0M785.7 1001a7.7 7.7 0 1 0 15.4 0a7.7 7.7 0 1 0 -15.4 0M786.2 1001.1a7.7 7.7 0 1 0 15.4 0a7.7 7.7 0 1 0 -15.4 0M786.8 1001.3a7.7 7.7 0 1 0 15.4 0a7.7 7.7 0 1 0 -15.4 0M787.4 1001.4a7.7 7.7 0 1 0 15.4 0a7.7 7.7 0 1 0 -15.4 0M787.9 1001.5a7.7 7.7 0 1 0 15.4 0a7.7 7.7 0 1 0 -15.4 0M788.5 1001.7a7.7 7.7 0 1 0 15.4 0a7.7 7.7 0 1 0 -15.4 0M789 1001.8a7.7 7.7 0 1 0 15.4 0a7.7 7.7 0 1 0 -15.4 0M789.6 1001.9a7.7 7.7 0 1 0 15.4 0a7.7 7.7 0 1 0 -15.4 0M790.1 1002a7.7 7.7 0 1 0 15.4 0a7.7 7.7 0 1 0 -15.4 0M790.7 1002.2a7.7 7.7 0 1 0 15.4 0a7.7 7.7 0 1 0 -15.4 0M791.2 1002.3a7.7 7.7 0 1 0 15.4 0a7.7 7.7 0 1 0 -15.4 0" fill="none" stroke="#de3020" stroke-width="1.8"/>
<path d="M164.4 742.9h14M164.4 747.3h14M171.4 742.9V747.3M245.3 760.3h14M245.3 765h14M252.3 760.3V765M292.7 771.1h14M292.7 776.1h14M299.7 771.1V776.1M326.2 779.3h14M326.2 784.6h14M333.2 779.3V784.6M352.3 785.8h14M352.3 791.4h14M359.3 785.8V791.4M373.6 790.4h14M373.6 796.2h14M380.6 790.4V796.2M391.6 794.3h14M391.6 800.2h14M398.6 794.3V800.2M407.2 797.6h14M407.2 803.7h14M414.2 797.6V803.7M420.9 800.7h14M420.9 807.1h14M427.9 800.7V807.1M433.2 803.8h14M433.2 810.4h14M440.2 803.8V810.4M444.3 806.9h14M444.3 813.8h14M451.3 806.9V813.8M454.5 810.1h14M454.5 817.2h14M461.5 810.1V817.2M463.8 813.1h14M463.8 820.5h14M470.8 813.1V820.5M472.5 816.1h14M472.5 823.7h14M479.5 816.1V823.7M480.5 818.9h14M480.5 826.8h14M487.5 818.9V826.8M488.1 821.6h14M488.1 829.7h14M495.1 821.6V829.7M495.2 824.2h14M495.2 832.5h14M502.2 824.2V832.5M501.8 826.7h14M501.8 835.2h14M508.8 826.7V835.2M508.1 829.1h14M508.1 837.9h14M515.1 829.1V837.9M514.1 831.5h14M514.1 840.5h14M521.1 831.5V840.5M519.8 833.9h14M519.8 843.1h14M526.8 833.9V843.1M525.3 836.2h14M525.3 845.6h14M532.3 836.2V845.6M530.4 838.4h14M530.4 848h14M537.4 838.4V848M535.4 840.6h14M535.4 850.4h14M542.4 840.6V850.4M540.2 843h14M540.2 852.9h14M547.2 843V852.9M544.8 845.2h14M544.8 855.3h14M551.8 845.2V855.3M549.2 847.2h14M549.2 857.5h14M556.2 847.2V857.5M553.4 849.1h14M553.4 859.6h14M560.4 849.1V859.6M557.5 851h14M557.5 861.6h14M564.5 851V861.6M561.5 852.8h14M561.5 863.5h14M568.5 852.8V863.5M565.3 854.5h14M565.3 865.4h14M572.3 854.5V865.4M569 856.1h14M569 867.2h14M576 856.1V867.2M572.6 857.8h14M572.6 868.9h14M579.6 857.8V868.9M576.1 859.3h14M576.1 870.7h14M583.1 859.3V870.7M579.5 860.9h14M579.5 872.3h14M586.5 860.9V872.3M582.7 862.4h14M582.7 874h14M589.7 862.4V874M585.9 863.9h14M585.9 875.6h14M592.9 863.9V875.6M589.1 865.4h14M589.1 877.2h14M596.1 865.4V877.2M592.1 866.8h14M592.1 878.8h14M599.1 866.8V878.8M595 868.3h14M595 880.4h14M602 868.3V880.4M597.9 869.7h14M597.9 881.9h14M604.9 869.7V881.9M600.7 871.1h14M600.7 883.5h14M607.7 871.1V883.5M603.5 872.5h14M603.5 885h14M610.5 872.5V885M606.2 873.9h14M606.2 886.5h14M613.2 873.9V886.5M608.8 875.3h14M608.8 888h14M615.8 875.3V888M611.4 876.7h14M611.4 889.5h14M618.4 876.7V889.5M613.9 878.1h14M613.9 890.9h14M620.9 878.1V890.9M616.3 879.4h14M616.3 892.4h14M623.3 879.4V892.4M618.7 880.8h14M618.7 893.9h14M625.7 880.8V893.9M621.1 882.1h14M621.1 895.3h14M628.1 882.1V895.3M623.4 883.4h14M623.4 896.7h14M630.4 883.4V896.7M625.7 884.8h14M625.7 898.2h14M632.7 884.8V898.2M627.9 886.1h14M627.9 899.6h14M634.9 886.1V899.6M630.1 887.4h14M630.1 901h14M637.1 887.4V901M632.2 888.7h14M632.2 902.4h14M639.2 888.7V902.4M634.3 890h14M634.3 903.8h14M641.3 890V903.8M636.4 891.3h14M636.4 905.2h14M643.4 891.3V905.2M638.4 892.5h14M638.4 906.6h14M645.4 892.5V906.6M640.4 893.8h14M640.4 907.9h14M647.4 893.8V907.9M642.4 895.1h14M642.4 909.3h14M649.4 895.1V909.3M644.3 896.3h14M644.3 910.6h14M651.3 896.3V910.6M646.2 897.6h14M646.2 912h14M653.2 897.6V912M648.1 898.8h14M648.1 913.3h14M655.1 898.8V913.3M649.9 900h14M649.9 914.6h14M656.9 900V914.6M651.7 901.3h14M651.7 915.9h14M658.7 901.3V915.9M653.5 902.5h14M653.5 917.2h14M660.5 902.5V917.2M655.3 903.7h14M655.3 918.5h14M662.3 903.7V918.5M657 904.9h14M657 919.8h14M664 904.9V919.8M658.7 906.1h14M658.7 921.1h14M665.7 906.1V921.1M660.4 907.2h14M660.4 922.4h14M667.4 907.2V922.4M662 908.4h14M662 923.6h14M669 908.4V923.6M663.7 909.6h14M663.7 924.9h14M670.7 909.6V924.9M665.3 910.7h14M665.3 926.1h14M672.3 910.7V926.1M666.9 911.9h14M666.9 927.3h14M673.9 911.9V927.3M668.4 913h14M668.4 928.6h14M675.4 913V928.6M670 914.1h14M670 929.8h14M677 914.1V929.8M671.5 915.3h14M671.5 931h14M678.5 915.3V931M673 916.4h14M673 932.2h14M680 916.4V932.2M674.5 917.5h14M674.5 933.4h14M681.5 917.5V933.4M676 918.5h14M676 934.5h14M683 918.5V934.5M677.4 919.6h14M677.4 935.7h14M684.4 919.6V935.7M678.8 920.7h14M678.8 936.8h14M685.8 920.7V936.8M680.3 921.8h14M680.3 938h14M687.3 921.8V938M681.7 922.8h14M681.7 939.1h14M688.7 922.8V939.1M683 923.9h14M683 940.2h14M690 923.9V940.2M684.4 924.9h14M684.4 941.4h14M691.4 924.9V941.4M685.8 925.9h14M685.8 942.5h14M692.8 925.9V942.5M687.1 926.9h14M687.1 943.5h14M694.1 926.9V943.5M688.4 927.9h14M688.4 944.6h14M695.4 927.9V944.6M689.7 928.9h14M689.7 945.7h14M696.7 928.9V945.7M691 929.9h14M691 946.8h14M698 929.9V946.8M692.3 930.9h14M692.3 947.8h14M699.3 930.9V947.8M693.5 931.9h14M693.5 948.9h14M700.5 931.9V948.9M694.8 932.8h14M694.8 949.9h14M701.8 932.8V949.9M696 933.8h14M696 950.9h14M703 933.8V950.9M697.3 934.7h14M697.3 951.9h14M704.3 934.7V951.9M698.5 935.7h14M698.5 952.9h14M705.5 935.7V952.9M699.7 936.6h14M699.7 953.9h14M706.7 936.6V953.9M700.8 937.5h14M700.8 954.9h14M707.8 937.5V954.9M702 938.4h14M702 955.9h14M709 938.4V955.9M703.2 939.3h14M703.2 956.9h14M710.2 939.3V956.9M704.3 940.2h14M704.3 957.8h14M711.3 940.2V957.8M705.5 941.1h14M705.5 958.8h14M712.5 941.1V958.8M706.6 942h14M706.6 959.7h14M713.6 942V959.7M707.7 942.8h14M707.7 960.6h14M714.7 942.8V960.6M708.8 943.7h14M708.8 961.6h14M715.8 943.7V961.6M709.9 944.5h14M709.9 962.5h14M716.9 944.5V962.5M711 945.3h14M711 963.4h14M718 945.3V963.4M712.1 946.2h14M712.1 964.3h14M719.1 946.2V964.3M713.1 947h14M713.1 965.1h14M720.1 947V965.1M714.2 947.8h14M714.2 966h14M721.2 947.8V966M715.2 948.6h14M715.2 966.9h14M722.2 948.6V966.9M716.3 949.4h14M716.3 967.7h14M723.3 949.4V967.7M717.3 950.1h14M717.3 968.6h14M724.3 950.1V968.6M718.3 950.9h14M718.3 969.4h14M725.3 950.9V969.4M719.3 951.7h14M719.3 970.2h14M726.3 951.7V970.2M720.3 952.4h14M720.3 971h14M727.3 952.4V971M721.3 953.2h14M721.3 971.8h14M728.3 953.2V971.8M722.3 953.9h14M722.3 972.6h14M729.3 953.9V972.6M723.3 954.6h14M723.3 973.4h14M730.3 954.6V973.4M724.3 955.4h14M724.3 974.2h14M731.3 955.4V974.2M725.2 956.1h14M725.2 975h14M732.2 956.1V975M726.2 956.8h14M726.2 975.7h14M733.2 956.8V975.7M727.1 957.5h14M727.1 976.5h14M734.1 957.5V976.5M728.1 958.1h14M728.1 977.2h14M735.1 958.1V977.2M729 958.8h14M729 978h14M736 958.8V978M729.9 959.5h14M729.9 978.7h14M736.9 959.5V978.7M730.8 960.2h14M730.8 979.4h14M737.8 960.2V979.4M731.7 960.8h14M731.7 980.1h14M738.7 960.8V980.1M732.6 961.5h14M732.6 980.8h14M739.6 961.5V980.8M733.5 962.1h14M733.5 981.5h14M740.5 962.1V981.5M734.4 962.7h14M734.4 982.2h14M741.4 962.7V982.2M735.3 963.3h14M735.3 982.9h14M742.3 963.3V982.9M736.2 963.9h14M736.2 983.6h14M743.2 963.9V983.6M737 964.5h14M737 984.2h14M744 964.5V984.2M737.9 965.1h14M737.9 984.9h14M744.9 965.1V984.9M738.8 965.7h14M738.8 985.5h14M745.8 965.7V985.5M739.6 966.3h14M739.6 986.1h14M746.6 966.3V986.1M740.5 966.9h14M740.5 986.8h14M747.5 966.9V986.8M741.3 967.4h14M741.3 987.4h14M748.3 967.4V987.4M742.1 968h14M742.1 988h14M749.1 968V988M743 968.6h14M743 988.6h14M750 968.6V988.6M743.8 969.1h14M743.8 989.2h14M750.8 969.1V989.2M744.6 969.6h14M744.6 989.8h14M751.6 969.6V989.8M745.4 970.2h14M745.4 990.4h14M752.4 970.2V990.4M746.2 970.7h14M746.2 990.9h14M753.2 970.7V990.9M747 971.2h14M747 991.5h14M754 971.2V991.5M747.8 971.7h14M747.8 992.1h14M754.8 971.7V992.1M748.6 972.2h14M748.6 992.6h14M755.6 972.2V992.6M749.3 972.7h14M749.3 993.1h14M756.3 972.7V993.1M750.1 973.1h14M750.1 993.7h14M757.1 973.1V993.7M750.9 973.6h14M750.9 994.2h14M757.9 973.6V994.2M751.7 974.1h14M751.7 994.7h14M758.7 974.1V994.7M752.4 974.5h14M752.4 995.2h14M759.4 974.5V995.2M753.2 975h14M753.2 995.7h14M760.2 975V995.7M753.9 975.4h14M753.9 996.2h14M760.9 975.4V996.2M754.7 975.9h14M754.7 996.7h14M761.7 975.9V996.7M755.4 976.3h14M755.4 997.2h14M762.4 976.3V997.2M756.2 976.7h14M756.2 997.7h14M763.2 976.7V997.7M756.9 977.2h14M756.9 998.2h14M763.9 977.2V998.2M757.6 977.6h14M757.6 998.6h14M764.6 977.6V998.6M758.3 978h14M758.3 999.1h14M765.3 978V999.1M759.1 978.4h14M759.1 999.5h14M766.1 978.4V999.5M759.8 978.8h14M759.8 999.9h14M766.8 978.8V999.9M760.5 979.1h14M760.5 1000.4h14M767.5 979.1V1000.4M761.2 979.5h14M761.2 1000.8h14M768.2 979.5V1000.8M761.9 979.9h14M761.9 1001.2h14M768.9 979.9V1001.2M762.6 980.2h14M762.6 1001.6h14M769.6 980.2V1001.6M763.3 980.6h14M763.3 1002h14M770.3 980.6V1002M764 980.9h14M764 1002.4h14M771 980.9V1002.4M764.6 981.3h14M764.6 1002.8h14M771.6 981.3V1002.8M765.3 981.6h14M765.3 1003.2h14M772.3 981.6V1003.2M766 982h14M766 1003.6h14M773 982V1003.6M766.7 982.3h14M766.7 1003.9h14M773.7 982.3V1003.9M767.3 982.6h14M767.3 1004.3h14M774.3 982.6V1004.3M768 982.9h14M768 1004.7h14M775 982.9V1004.7M768.7 983.2h14M768.7 1005h14M775.7 983.2V1005M769.3 983.5h14M769.3 1005.4h14M776.3 983.5V1005.4M770 983.8h14M770 1005.7h14M777 983.8V1005.7M770.6 984.1h14M770.6 1006h14M777.6 984.1V1006M771.3 984.4h14M771.3 1006.4h14M778.3 984.4V1006.4M771.9 984.7h14M771.9 1006.7h14M778.9 984.7V1006.7M772.6 984.9h14M772.6 1007h14M779.6 984.9V1007M773.2 985.2h14M773.2 1007.3h14M780.2 985.2V1007.3M773.8 985.4h14M773.8 1007.6h14M780.8 985.4V1007.6M774.5 985.7h14M774.5 1007.9h14M781.5 985.7V1007.9M775.1 985.9h14M775.1 1008.2h14M782.1 985.9V1008.2M775.7 986.2h14M775.7 1008.4h14M782.7 986.2V1008.4M776.3 986.4h14M776.3 1008.7h14M783.3 986.4V1008.7M776.9 986.6h14M776.9 1009h14M783.9 986.6V1009M777.6 986.9h14M777.6 1009.3h14M784.6 986.9V1009.3M778.2 987.1h14M778.2 1009.5h14M785.2 987.1V1009.5M778.8 987.3h14M778.8 1009.8h14M785.8 987.3V1009.8M779.4 987.5h14M779.4 1010h14M786.4 987.5V1010M780 987.7h14M780 1010.3h14M787 987.7V1010.3M780.6 987.9h14M780.6 1010.5h14M787.6 987.9V1010.5M781.2 988.1h14M781.2 1010.8h14M788.2 988.1V1010.8M781.8 988.3h14M781.8 1011h14M788.8 988.3V1011M782.3 988.5h14M782.3 1011.2h14M789.3 988.5V1011.2M782.9 988.6h14M782.9 1011.4h14M789.9 988.6V1011.4M783.5 988.8h14M783.5 1011.6h14M790.5 988.8V1011.6M784.1 988.9h14M784.1 1011.8h14M791.1 988.9V1011.8M784.7 989.1h14M784.7 1012h14M791.7 989.1V1012M785.2 989.2h14M785.2 1012.2h14M792.2 989.2V1012.2M785.8 989.4h14M785.8 1012.3h14M792.8 989.4V1012.3M786.4 989.5h14M786.4 1012.5h14M793.4 989.5V1012.5M786.9 989.6h14M786.9 1012.7h14M793.9 989.6V1012.7M787.5 989.7h14M787.5 1012.8h14M794.5 989.7V1012.8M788.1 989.8h14M788.1 1013h14M795.1 989.8V1013M788.6 990h14M788.6 1013.1h14M795.6 990V1013.1M789.2 990.1h14M789.2 1013.3h14M796.2 990.1V1013.3M789.7 990.2h14M789.7 1013.4h14M796.7 990.2V1013.4M790.3 990.3h14M790.3 1013.6h14M797.3 990.3V1013.6M790.8 990.4h14M790.8 1013.7h14M797.8 990.4V1013.7M791.4 990.5h14M791.4 1013.9h14M798.4 990.5V1013.9M791.9 990.6h14M791.9 1014h14M798.9 990.6V1014" fill="none" stroke="#de3020" stroke-width="1.8"/>
<path d="M540 843.3L541.9 843.5L543.8 843.8L545.8 844L547.7 844.2L549.6 844.3L551.5 844.5L553.4 844.7L555.4 844.8L557.3 845L559.2 845.1L561.1 845.2L563.1 845.4L565 845.5L566.9 845.6L568.8 845.7L570.7 846.1L572.7 846.9L574.6 847.8L576.5 848.6L578.4 849.5L580.3 850.3L582.3 851.2L584.2 852.1L586.1 852.9L588 853.8L589.9 854.7L591.9 855.6L593.8 856.5L595.7 857.4L597.6 858.3L599.5 859.2L601.5 860.1L603.4 861L605.3 862L607.2 862.9L609.2 863.8L611.1 864.8L613 865.8L614.9 866.7L616.8 867.7L618.8 868.7L620.7 869.7L622.6 870.7L624.5 871.8L626.4 872.8L628.4 873.8L630.3 874.9L632.2 875.9L634.1 877L636 878.1L638 879.2L639.9 880.3L641.8 881.4L643.7 882.5L645.6 883.6L647.6 884.7L649.5 885.9L651.4 887L653.3 888.2L655.3 889.4L657.2 890.5L659.1 891.7L661 892.9L662.9 894.1L664.9 895.4L666.8 896.6L668.7 897.8L670.6 899L672.5 900.3L674.5 901.5L676.4 902.8L678.3 904.1L680.2 905.3L682.1 906.6L684.1 907.9L686 909.2L687.9 910.5L689.8 911.8L691.7 913.1L693.7 914.4L695.6 915.8L697.5 917.1L699.4 918.4L701.4 919.7L703.3 921.1L705.2 922.4L707.1 923.7L709 925.1L711 926.4L712.9 927.8L714.8 929.1L716.7 930.5L718.6 931.8L720.6 933.1L722.5 934.5L724.4 935.8L726.3 937.2L728.2 938.5L730.2 939.8L732.1 941.1L734 942.5L735.9 943.8L737.8 945.1L739.8 946.4L741.7 947.7L743.6 949L745.5 950.3L747.5 951.5L749.4 952.8L751.3 954.1L753.2 955.3L755.1 956.5L757.1 957.8L759 959L760.9 960.2L762.8 961.3L764.7 962.5L766.7 963.6L768.6 964.8L770.5 965.9L772.4 967L774.3 968.1L776.3 969.1L778.2 970.2L780.1 971.2L782 972.2L783.9 973.1L785.9 974.1L787.8 975L789.7 975.9L791.6 976.8L793.6 977.6L795.5 978.4L797.4 979.2L799.3 980L801.2 980.7L803.2 981.4L805.1 982L807 982.6L807 1012.9L805.1 1012.7L803.2 1012.5L801.2 1012.2L799.3 1011.9L797.4 1011.5L795.5 1011.1L793.6 1010.6L791.6 1010L789.7 1009.4L787.8 1008.8L785.9 1008.1L783.9 1007.3L782 1006.5L780.1 1005.7L778.2 1004.8L776.3 1003.9L774.3 1003L772.4 1002L770.5 1000.9L768.6 999.9L766.7 998.8L764.7 997.7L762.8 996.5L760.9 995.3L759 994.1L757.1 992.9L755.1 991.6L753.2 990.3L751.3 989L749.4 987.7L747.5 986.3L745.5 985L743.6 983.6L741.7 982.2L739.8 980.7L737.8 979.3L735.9 977.9L734 976.4L732.1 974.9L730.2 973.4L728.2 971.9L726.3 970.4L724.4 968.9L722.5 967.4L720.6 965.9L718.6 964.4L716.7 962.8L714.8 961.3L712.9 959.8L711 958.2L709 956.7L707.1 955.1L705.2 953.6L703.3 952.1L701.4 950.5L699.4 949L697.5 947.5L695.6 945.9L693.7 944.4L691.7 942.9L689.8 941.4L687.9 939.9L686 938.4L684.1 936.9L682.1 935.4L680.2 933.9L678.3 932.5L676.4 931L674.5 929.6L672.5 928.1L670.6 926.7L668.7 925.3L666.8 923.9L664.9 922.5L662.9 921.1L661 919.7L659.1 918.4L657.2 917L655.3 915.7L653.3 914.4L651.4 913L649.5 911.7L647.6 910.5L645.6 909.2L643.7 907.9L641.8 906.7L639.9 905.5L638 904.2L636 903L634.1 901.9L632.2 900.7L630.3 899.5L628.4 898.4L626.4 897.2L624.5 896.1L622.6 895L620.7 893.9L618.8 892.8L616.8 891.7L614.9 890.7L613 889.6L611.1 888.6L609.2 887.5L607.2 886.5L605.3 885.5L603.4 884.5L601.5 883.5L599.5 882.6L597.6 881.6L595.7 880.6L593.8 879.7L591.9 878.7L589.9 877.8L588 876.9L586.1 875.9L584.2 875L582.3 874.1L580.3 873.2L578.4 872.3L576.5 871.4L574.6 870.5L572.7 869.6L570.7 868.7L568.8 867.4L566.9 865.7L565 864.1L563.1 862.5L561.1 860.9L559.2 859.3L557.3 857.7L555.4 856.1L553.4 854.5L551.5 852.9L549.6 851.3L547.7 849.7L545.8 848.1L543.8 846.5L541.9 844.9L540 843.3Z" fill="#de3020"/>
<path d="M171.4 763.3 175.4 763.3 179.4 763.3 183.4 763.4 187.4 763.5 191.3 763.6 195.3 763.7 199.3 763.8 203.3 764 207.3 764.1 211.3 764.3 215.2 764.5 219.2 764.7 223.2 764.9 227.2 765.1 231.2 765.3 235.2 765.6 239.2 765.8 243.1 766 247.1 766.3 251.1 766.5 255.1 766.8 259.1 767.2 263.1 767.6 267.1 768 271 768.5 275 769.1 279 769.6 283 770.2 287 770.8 291 771.3 294.9 771.9 298.9 772.5 302.9 773 306.9 773.5 310.9 774 314.9 774.6 318.9 775.1 322.8 775.6 326.8 776.1 330.8 776.7 334.8 777.2 338.8 777.8 342.8 778.4 346.7 779 350.7 779.6 354.7 780.3 358.7 780.9 362.7 781.7 366.7 782.5 370.7 783.3 374.6 784.2 378.6 785 382.6 785.8 386.6 786.7 390.6 787.5 394.6 788.3 398.5 789.1 402.5 789.9 406.5 790.8 410.5 791.6 414.5 792.5 418.5 793.3 422.5 794.2 426.4 795.2 430.4 796.1 434.4 797.1 438.4 798.1 442.4 799.2 446.4 800.2 450.4 801.4 454.3 802.5 458.3 803.7 462.3 804.9 466.3 806.2 470.3 807.5 474.3 808.8 478.2 810.1 482.2 811.5 486.2 812.9 490.2 814.4 494.2 815.8 498.2 817.3 502.2 818.9 506.1 820.6 510.1 822.3 514.1 824.1 518.1 825.9 522.1 827.7 526.1 829.6 530 831.4 534 833.3 538 835.1 542 836.8 546 838.6 550 840.3 554 842 557.9 843.8 561.9 845.5 565.9 847.2 569.9 848.9 573.9 850.7 577.9 852.4 581.9 854.2 585.8 856 589.8 857.8 593.8 859.7 597.8 861.5 601.8 863.4 605.8 865.4 609.7 867.3 613.7 869.3 617.7 871.4 621.7 873.5 625.7 875.6 629.7 877.7 633.7 879.9 637.6 882.2 641.6 884.5 645.6 886.8 649.6 889.1 653.6 891.5 657.6 894 661.5 896.5 665.5 899 669.5 901.5 673.5 904.1 677.5 906.7 681.5 909.4 685.5 912 689.4 914.7 693.4 917.5 697.4 920.2 701.4 923 705.4 925.7 709.4 928.5 713.3 931.3 717.3 934.1 721.3 936.9 725.3 939.6 729.3 942.4 733.3 945.2 737.3 947.9 741.2 950.6 745.2 953.3 749.2 955.9 753.2 958.5 757.2 961 761.2 963.5 765.2 966 769.1 968.3 773.1 970.6 777.1 972.8 781.1 974.9 785.1 976.9 789.1 978.8 793 980.6 797 982.2 801 983.8 805 984.9" fill="none" stroke="#de3020" stroke-width="6"/>
<path d="M171.4 705.2L161.4 722.2L181.4 722.2ZM252.3 706.7L242.3 723.7L262.3 723.7ZM299.7 708.7L289.7 725.7L309.7 725.7ZM333.2 710.8L323.2 727.8L343.2 727.8ZM359.3 712.5L349.3 729.5L369.3 729.5ZM380.6 713.8L370.6 730.8L390.6 730.8ZM398.6 714.8L388.6 731.8L408.6 731.8ZM414.2 715.7L404.2 732.7L424.2 732.7ZM427.9 716.6L417.9 733.6L437.9 733.6ZM440.2 717.5L430.2 734.5L450.2 734.5ZM451.3 718.5L441.3 735.5L461.3 735.5ZM461.5 719.5L451.5 736.5L471.5 736.5ZM470.8 720.4L460.8 737.4L480.8 737.4ZM479.5 721.4L469.5 738.4L489.5 738.4ZM487.5 722.3L477.5 739.3L497.5 739.3ZM495.1 723.2L485.1 740.2L505.1 740.2ZM502.2 724.1L492.2 741.1L512.2 741.1ZM508.8 725L498.8 742L518.8 742ZM515.1 726L505.1 743L525.1 743ZM521.1 726.9L511.1 743.9L531.1 743.9ZM526.8 727.8L516.8 744.8L536.8 744.8ZM532.3 728.6L522.3 745.6L542.3 745.6ZM537.4 729.4L527.4 746.4L547.4 746.4ZM542.4 730.1L532.4 747.1L552.4 747.1ZM547.2 730.8L537.2 747.8L557.2 747.8ZM551.8 731.4L541.8 748.4L561.8 748.4ZM556.2 732.1L546.2 749.1L566.2 749.1ZM560.4 732.8L550.4 749.8L570.4 749.8ZM564.5 733.6L554.5 750.6L574.5 750.6ZM568.5 734.3L558.5 751.3L578.5 751.3ZM572.3 735L562.3 752L582.3 752ZM576 735.8L566 752.8L586 752.8ZM579.6 736.5L569.6 753.5L589.6 753.5ZM583.1 737.3L573.1 754.3L593.1 754.3ZM586.5 738.1L576.5 755.1L596.5 755.1ZM589.7 738.8L579.7 755.8L599.7 755.8ZM592.9 739.6L582.9 756.6L602.9 756.6ZM596.1 740.4L586.1 757.4L606.1 757.4ZM599.1 741.1L589.1 758.1L609.1 758.1ZM602 741.9L592 758.9L612 758.9ZM604.9 742.7L594.9 759.7L614.9 759.7ZM607.7 743.4L597.7 760.4L617.7 760.4ZM610.5 744.2L600.5 761.2L620.5 761.2ZM613.2 745L603.2 762L623.2 762ZM615.8 745.7L605.8 762.7L625.8 762.7ZM618.4 746.5L608.4 763.5L628.4 763.5ZM620.9 747.3L610.9 764.3L630.9 764.3ZM623.3 748L613.3 765L633.3 765ZM625.7 748.8L615.7 765.8L635.7 765.8ZM628.1 749.5L618.1 766.5L638.1 766.5ZM630.4 750.3L620.4 767.3L640.4 767.3ZM632.7 751L622.7 768L642.7 768ZM634.9 751.8L624.9 768.8L644.9 768.8ZM637.1 752.5L627.1 769.5L647.1 769.5ZM639.2 753.2L629.2 770.2L649.2 770.2ZM641.3 754L631.3 771L651.3 771ZM643.4 754.7L633.4 771.7L653.4 771.7ZM645.4 755.4L635.4 772.4L655.4 772.4ZM647.4 756.1L637.4 773.1L657.4 773.1ZM649.4 756.8L639.4 773.8L659.4 773.8ZM651.3 757.5L641.3 774.5L661.3 774.5ZM653.2 758.2L643.2 775.2L663.2 775.2ZM655.1 758.9L645.1 775.9L665.1 775.9ZM656.9 759.6L646.9 776.6L666.9 776.6ZM658.7 760.3L648.7 777.3L668.7 777.3ZM660.5 761L650.5 778L670.5 778ZM662.3 761.7L652.3 778.7L672.3 778.7ZM664 762.3L654 779.3L674 779.3ZM665.7 763L655.7 780L675.7 780ZM667.4 763.7L657.4 780.7L677.4 780.7ZM669 764.3L659 781.3L679 781.3ZM670.7 765L660.7 782L680.7 782ZM672.3 765.6L662.3 782.6L682.3 782.6ZM673.9 766.3L663.9 783.3L683.9 783.3ZM675.4 766.9L665.4 783.9L685.4 783.9ZM677 767.6L667 784.6L687 784.6ZM678.5 768.2L668.5 785.2L688.5 785.2ZM680 768.8L670 785.8L690 785.8ZM681.5 769.4L671.5 786.4L691.5 786.4ZM683 770L673 787L693 787ZM684.4 770.7L674.4 787.7L694.4 787.7ZM685.8 771.3L675.8 788.3L695.8 788.3ZM687.3 771.9L677.3 788.9L697.3 788.9ZM688.7 772.5L678.7 789.5L698.7 789.5ZM690 773.1L680 790.1L700 790.1ZM691.4 773.6L681.4 790.6L701.4 790.6ZM692.8 774.2L682.8 791.2L702.8 791.2ZM694.1 774.8L684.1 791.8L704.1 791.8ZM695.4 775.4L685.4 792.4L705.4 792.4ZM696.7 775.9L686.7 792.9L706.7 792.9ZM698 776.5L688 793.5L708 793.5ZM699.3 777.1L689.3 794.1L709.3 794.1ZM700.5 777.6L690.5 794.6L710.5 794.6ZM701.8 778.2L691.8 795.2L711.8 795.2ZM703 778.7L693 795.7L713 795.7ZM704.3 779.3L694.3 796.3L714.3 796.3ZM705.5 779.8L695.5 796.8L715.5 796.8ZM706.7 780.3L696.7 797.3L716.7 797.3ZM707.8 780.9L697.8 797.9L717.8 797.9ZM709 781.4L699 798.4L719 798.4ZM710.2 781.9L700.2 798.9L720.2 798.9ZM711.3 782.4L701.3 799.4L721.3 799.4ZM712.5 782.9L702.5 799.9L722.5 799.9ZM713.6 783.4L703.6 800.4L723.6 800.4ZM714.7 783.9L704.7 800.9L724.7 800.9ZM715.8 784.5L705.8 801.5L725.8 801.5ZM716.9 784.9L706.9 801.9L726.9 801.9ZM718 785.4L708 802.4L728 802.4ZM719.1 785.9L709.1 802.9L729.1 802.9ZM720.1 786.4L710.1 803.4L730.1 803.4ZM721.2 786.9L711.2 803.9L731.2 803.9ZM722.2 787.4L712.2 804.4L732.2 804.4ZM723.3 787.8L713.3 804.8L733.3 804.8ZM724.3 788.3L714.3 805.3L734.3 805.3ZM725.3 788.8L715.3 805.8L735.3 805.8ZM726.3 789.2L716.3 806.2L736.3 806.2ZM727.3 789.7L717.3 806.7L737.3 806.7ZM728.3 790.2L718.3 807.2L738.3 807.2ZM729.3 790.6L719.3 807.6L739.3 807.6ZM730.3 791.1L720.3 808.1L740.3 808.1ZM731.3 791.5L721.3 808.5L741.3 808.5ZM732.2 791.9L722.2 808.9L742.2 808.9ZM733.2 792.4L723.2 809.4L743.2 809.4ZM734.1 792.8L724.1 809.8L744.1 809.8ZM735.1 793.2L725.1 810.2L745.1 810.2ZM736 793.7L726 810.7L746 810.7ZM736.9 794.1L726.9 811.1L746.9 811.1ZM737.8 794.5L727.8 811.5L747.8 811.5ZM738.7 794.9L728.7 811.9L748.7 811.9ZM739.6 795.3L729.6 812.3L749.6 812.3ZM740.5 795.8L730.5 812.8L750.5 812.8ZM741.4 796.2L731.4 813.2L751.4 813.2ZM742.3 796.6L732.3 813.6L752.3 813.6ZM743.2 797L733.2 814L753.2 814ZM744 797.4L734 814.4L754 814.4ZM744.9 797.8L734.9 814.8L754.9 814.8ZM745.8 798.1L735.8 815.1L755.8 815.1ZM746.6 798.5L736.6 815.5L756.6 815.5ZM747.5 798.9L737.5 815.9L757.5 815.9ZM748.3 799.3L738.3 816.3L758.3 816.3ZM749.1 799.7L739.1 816.7L759.1 816.7ZM750 800.1L740 817.1L760 817.1ZM750.8 800.4L740.8 817.4L760.8 817.4ZM751.6 800.8L741.6 817.8L761.6 817.8ZM752.4 801.2L742.4 818.2L762.4 818.2ZM753.2 801.5L743.2 818.5L763.2 818.5ZM754 801.9L744 818.9L764 818.9ZM754.8 802.3L744.8 819.3L764.8 819.3ZM755.6 802.6L745.6 819.6L765.6 819.6ZM756.3 803L746.3 820L766.3 820ZM757.1 803.3L747.1 820.3L767.1 820.3ZM757.9 803.7L747.9 820.7L767.9 820.7ZM758.7 804L748.7 821L768.7 821ZM759.4 804.4L749.4 821.4L769.4 821.4ZM760.2 804.7L750.2 821.7L770.2 821.7ZM760.9 805L750.9 822L770.9 822ZM761.7 805.4L751.7 822.4L771.7 822.4ZM762.4 805.7L752.4 822.7L772.4 822.7ZM763.2 806L753.2 823L773.2 823ZM763.9 806.4L753.9 823.4L773.9 823.4ZM764.6 806.7L754.6 823.7L774.6 823.7ZM765.3 807L755.3 824L775.3 824ZM766.1 807.3L756.1 824.3L776.1 824.3ZM766.8 807.6L756.8 824.6L776.8 824.6ZM767.5 808L757.5 825L777.5 825ZM768.2 808.3L758.2 825.3L778.2 825.3ZM768.9 808.6L758.9 825.6L778.9 825.6ZM769.6 808.9L759.6 825.9L779.6 825.9ZM770.3 809.2L760.3 826.2L780.3 826.2ZM771 809.5L761 826.5L781 826.5ZM771.6 809.8L761.6 826.8L781.6 826.8ZM772.3 810.1L762.3 827.1L782.3 827.1ZM773 810.4L763 827.4L783 827.4ZM773.7 810.7L763.7 827.7L783.7 827.7ZM774.3 811L764.3 828L784.3 828ZM775 811.3L765 828.3L785 828.3ZM775.7 811.5L765.7 828.5L785.7 828.5ZM776.3 811.8L766.3 828.8L786.3 828.8ZM777 812.1L767 829.1L787 829.1ZM777.6 812.4L767.6 829.4L787.6 829.4ZM778.3 812.7L768.3 829.7L788.3 829.7ZM778.9 812.9L768.9 829.9L788.9 829.9ZM779.6 813.2L769.6 830.2L789.6 830.2ZM780.2 813.5L770.2 830.5L790.2 830.5ZM780.8 813.7L770.8 830.7L790.8 830.7ZM781.5 814L771.5 831L791.5 831ZM782.1 814.3L772.1 831.3L792.1 831.3ZM782.7 814.5L772.7 831.5L792.7 831.5ZM783.3 814.8L773.3 831.8L793.3 831.8ZM783.9 815.1L773.9 832.1L793.9 832.1ZM784.6 815.3L774.6 832.3L794.6 832.3ZM785.2 815.6L775.2 832.6L795.2 832.6ZM785.8 815.8L775.8 832.8L795.8 832.8ZM786.4 816.1L776.4 833.1L796.4 833.1ZM787 816.3L777 833.3L797 833.3ZM787.6 816.6L777.6 833.6L797.6 833.6ZM788.2 816.8L778.2 833.8L798.2 833.8ZM788.8 817.1L778.8 834.1L798.8 834.1ZM789.3 817.3L779.3 834.3L799.3 834.3ZM789.9 817.5L779.9 834.5L799.9 834.5ZM790.5 817.8L780.5 834.8L800.5 834.8ZM791.1 818L781.1 835L801.1 835ZM791.7 818.2L781.7 835.2L801.7 835.2ZM792.2 818.5L782.2 835.5L802.2 835.5ZM792.8 818.7L782.8 835.7L802.8 835.7ZM793.4 818.9L783.4 835.9L803.4 835.9ZM793.9 819.2L783.9 836.2L803.9 836.2ZM794.5 819.4L784.5 836.4L804.5 836.4ZM795.1 819.6L785.1 836.6L805.1 836.6ZM795.6 819.8L785.6 836.8L805.6 836.8ZM796.2 820L786.2 837L806.2 837ZM796.7 820.3L786.7 837.3L806.7 837.3ZM797.3 820.5L787.3 837.5L807.3 837.5ZM797.8 820.7L787.8 837.7L807.8 837.7ZM798.4 820.9L788.4 837.9L808.4 837.9ZM798.9 821.1L788.9 838.1L808.9 838.1Z" fill="none" stroke="#3350a6" stroke-width="1.8"/>
<path d="M540 741.1L541.9 741.1L543.8 741.1L545.8 741L547.7 741L549.6 740.9L551.5 740.9L553.4 740.9L555.4 740.8L557.3 740.8L559.2 740.7L561.1 740.7L563.1 740.6L565 740.6L566.9 740.5L568.8 740.5L570.7 740.6L572.7 741L574.6 741.3L576.5 741.7L578.4 742.1L580.3 742.4L582.3 742.8L584.2 743.2L586.1 743.6L588 744.1L589.9 744.5L591.9 744.9L593.8 745.3L595.7 745.8L597.6 746.2L599.5 746.7L601.5 747.2L603.4 747.6L605.3 748.1L607.2 748.6L609.2 749.1L611.1 749.6L613 750.1L614.9 750.6L616.8 751.1L618.8 751.7L620.7 752.2L622.6 752.7L624.5 753.3L626.4 753.8L628.4 754.2L630.3 754.7L632.2 755.2L634.1 755.6L636 756.1L638 756.6L639.9 757L641.8 757.5L643.7 757.9L645.6 758.4L647.6 758.8L649.5 759.3L651.4 759.8L653.3 760.3L655.3 760.7L657.2 761.3L659.1 761.8L661 762.3L662.9 762.9L664.9 763.4L666.8 764L668.7 764.7L670.6 765.3L672.5 766L674.5 766.7L676.4 767.4L678.3 768.1L680.2 768.9L682.1 769.7L684.1 770.5L686 771.4L687.9 772.2L689.8 773L691.7 773.8L693.7 774.6L695.6 775.5L697.5 776.3L699.4 777.2L701.4 778L703.3 778.9L705.2 779.7L707.1 780.6L709 781.4L711 782.3L712.9 783.2L714.8 784L716.7 784.9L718.6 785.8L720.6 786.6L722.5 787.5L724.4 788.4L726.3 789.3L728.2 790.1L730.2 791L732.1 791.9L734 792.8L735.9 793.7L737.8 794.6L739.8 795.4L741.7 796.3L743.6 797.2L745.5 798.1L747.5 799L749.4 799.8L751.3 800.7L753.2 801.6L755.1 802.5L757.1 803.3L759 804.2L760.9 805.1L762.8 805.9L764.7 806.8L766.7 807.6L768.6 808.5L770.5 809.3L772.4 810.2L774.3 811L776.3 811.8L778.2 812.7L780.1 813.5L782 814.3L783.9 815.1L785.9 815.9L787.8 816.7L789.7 817.5L791.6 818.3L793.6 819L795.5 819.8L797.4 820.6L799.3 821.3L801.2 822L803.2 822.8L805.1 823.5L807 824.2L807 839.1L805.1 838.7L803.2 838.2L801.2 837.7L799.3 837.2L797.4 836.7L795.5 836.2L793.6 835.7L791.6 835.1L789.7 834.6L787.8 834L785.9 833.4L783.9 832.8L782 832.2L780.1 831.6L778.2 831L776.3 830.3L774.3 829.7L772.4 829L770.5 828.4L768.6 827.7L766.7 827L764.7 826.3L762.8 825.6L760.9 824.9L759 824.2L757.1 823.5L755.1 822.8L753.2 822L751.3 821.3L749.4 820.6L747.5 819.8L745.5 819L743.6 818.3L741.7 817.5L739.8 816.7L737.8 816L735.9 815.2L734 814.4L732.1 813.6L730.2 812.8L728.2 812L726.3 811.2L724.4 810.4L722.5 809.6L720.6 808.8L718.6 808L716.7 807.2L714.8 806.4L712.9 805.5L711 804.7L709 803.9L707.1 803.1L705.2 802.3L703.3 801.5L701.4 800.6L699.4 799.8L697.5 799L695.6 798.2L693.7 797.4L691.7 796.5L689.8 795.7L687.9 794.9L686 794.1L684.1 793.3L682.1 792.5L680.2 791.7L678.3 790.8L676.4 790L674.5 789.2L672.5 788.4L670.6 787.6L668.7 786.8L666.8 786L664.9 785.3L662.9 784.5L661 783.7L659.1 782.9L657.2 782.1L655.3 781.4L653.3 780.6L651.4 779.8L649.5 779.1L647.6 778.3L645.6 777.6L643.7 776.8L641.8 776.1L639.9 775.4L638 774.6L636 773.9L634.1 773.2L632.2 772.5L630.3 771.8L628.4 771.1L626.4 770.4L624.5 769.7L622.6 769L620.7 768.3L618.8 767.7L616.8 767L614.9 766.3L613 765.7L611.1 765L609.2 764.4L607.2 763.8L605.3 763.1L603.4 762.5L601.5 761.9L599.5 761.3L597.6 760.7L595.7 760.1L593.8 759.5L591.9 759L589.9 758.4L588 757.8L586.1 757.3L584.2 756.7L582.3 756.2L580.3 755.7L578.4 755.2L576.5 754.7L574.6 754.1L572.7 753.7L570.7 753.2L568.8 752.4L566.9 751.6L565 750.7L563.1 749.9L561.1 749.1L559.2 748.3L557.3 747.5L555.4 746.7L553.4 746L551.5 745.2L549.6 744.5L547.7 743.8L545.8 743.1L543.8 742.4L541.9 741.8L540 741.1Z" fill="#3350a6"/>
<path d="M171.4 718.5 175.4 718.5 179.4 718.5 183.4 718.6 187.4 718.6 191.3 718.6 195.3 718.6 199.3 718.7 203.3 718.7 207.3 718.8 211.3 718.8 215.2 718.9 219.2 718.9 223.2 719 227.2 719.1 231.2 719.1 235.2 719.2 239.2 719.3 243.1 719.3 247.1 719.4 251.1 719.5 255.1 719.6 259.1 719.6 263.1 719.7 267.1 719.8 271 719.9 275 720 279 720.1 283 720.3 287 720.4 291 720.5 294.9 720.7 298.9 720.8 302.9 720.9 306.9 721.1 310.9 721.3 314.9 721.4 318.9 721.6 322.8 721.7 326.8 721.9 330.8 722.1 334.8 722.3 338.8 722.5 342.8 722.6 346.7 722.8 350.7 723 354.7 723.2 358.7 723.4 362.7 723.6 366.7 723.8 370.7 724 374.6 724.2 378.6 724.4 382.6 724.6 386.6 724.9 390.6 725.1 394.6 725.3 398.5 725.6 402.5 725.8 406.5 726.1 410.5 726.4 414.5 726.7 418.5 727 422.5 727.3 426.4 727.6 430.4 727.9 434.4 728.2 438.4 728.5 442.4 728.9 446.4 729.2 450.4 729.6 454.3 729.9 458.3 730.3 462.3 730.7 466.3 731 470.3 731.4 474.3 731.9 478.2 732.3 482.2 732.7 486.2 733.1 490.2 733.6 494.2 734 498.2 734.5 502.2 735 506.1 735.5 510.1 736.1 514.1 736.7 518.1 737.3 522.1 737.9 526.1 738.5 530 739.1 534 739.7 538 740.3 542 740.8 546 741.4 550 742 554 742.6 557.9 743.2 561.9 743.9 565.9 744.6 569.9 745.3 573.9 746.1 577.9 747 581.9 747.8 585.8 748.7 589.8 749.6 593.8 750.6 597.8 751.6 601.8 752.6 605.8 753.7 609.7 754.8 613.7 755.9 617.7 757.1 621.7 758.3 625.7 759.5 629.7 760.8 633.7 762.1 637.6 763.5 641.6 764.8 645.6 766.3 649.6 767.7 653.6 769.2 657.6 770.7 661.5 772.2 665.5 773.7 669.5 775.3 673.5 776.9 677.5 778.5 681.5 780.2 685.5 781.9 689.4 783.6 693.4 785.3 697.4 787 701.4 788.8 705.4 790.5 709.4 792.3 713.3 794.1 717.3 795.9 721.3 797.7 725.3 799.6 729.3 801.4 733.3 803.2 737.3 805 741.2 806.9 745.2 808.7 749.2 810.5 753.2 812.3 757.2 814.1 761.2 815.9 765.2 817.7 769.1 819.5 773.1 821.2 777.1 822.9 781.1 824.6 785.1 826.3 789.1 828 793 829.6 797 831.2 801 832.7 805 833.8" fill="none" stroke="#3350a6" stroke-width="5.5"/>
<path d="M943.7 1037.3L1069.1 966.2L1194.8 1037.3L1194.8 1046.8L1069.1 1117.9L943.7 1046.8Z" fill="#d09838"/>
<path d="M943.7 1037.3L1069.1 1108.4L1069.1 1117.9L943.7 1046.8Z" fill="#9a6e26"/>
<path d="M1069.1 1108.4L1194.8 1037.3L1194.8 1046.8L1069.1 1117.9Z" fill="#c48b30"/>
<path d="M943.7 1037.3L1069.1 966.2L1194.8 1037.3L1069.1 1108.4Z" fill="#d09838" stroke="#a8782c" stroke-width="0.9" stroke-linejoin="round"/>
<rect x="1067.1" y="970.2" width="4.6" height="9" fill="#1c1a18"/><text x="1069.4" y="967.7" font-size="16.5" text-anchor="middle" fill="#1e1e1e" font-family="'DejaVu Sans', sans-serif">S</text><text x="1069.4" y="952.6" font-size="16.5" text-anchor="middle" fill="#1e1e1e" font-family="'DejaVu Sans', sans-serif">H</text><rect x="1084.9" y="980.8" width="4.6" height="9" fill="#1c1a18"/><text x="1087.2" y="978.3" font-size="16.5" text-anchor="middle" fill="#1e1e1e" font-family="'DejaVu Sans', sans-serif">S</text><text x="1087.2" y="963.2" font-size="16.5" text-anchor="middle" fill="#1e1e1e" font-family="'DejaVu Sans', sans-serif">H</text><rect x="1102.8" y="991.5" width="4.6" height="9" fill="#1c1a18"/><text x="1105.1" y="989" font-size="16.5" text-anchor="middle" fill="#1e1e1e" font-family="'DejaVu Sans', sans-serif">S</text><text x="1105.1" y="973.9" font-size="16.5" text-anchor="middle" fill="#1e1e1e" font-family="'DejaVu Sans', sans-serif">H</text><rect x="1031.5" y="991.7" width="4.6" height="9" fill="#1c1a18"/><text x="1033.8" y="989.2" font-size="16.5" text-anchor="middle" fill="#1e1e1e" font-family="'DejaVu Sans', sans-serif">S</text><text x="1033.8" y="974.1" font-size="16.5" text-anchor="middle" fill="#1e1e1e" font-family="'DejaVu Sans', sans-serif">H</text><rect x="1120.6" y="1002.1" width="4.6" height="9" fill="#1c1a18"/><text x="1122.9" y="999.6" font-size="16.5" text-anchor="middle" fill="#1e1e1e" font-family="'DejaVu Sans', sans-serif">S</text><text x="1122.9" y="984.5" font-size="16.5" text-anchor="middle" fill="#1e1e1e" font-family="'DejaVu Sans', sans-serif">H</text><rect x="1049.3" y="1002.3" width="4.6" height="9" fill="#1c1a18"/><text x="1051.6" y="999.8" font-size="16.5" text-anchor="middle" fill="#1e1e1e" font-family="'DejaVu Sans', sans-serif">S</text><text x="1051.6" y="984.7" font-size="16.5" text-anchor="middle" fill="#1e1e1e" font-family="'DejaVu Sans', sans-serif">H</text><rect x="1138.4" y="1012.7" width="4.6" height="9" fill="#1c1a18"/><text x="1140.7" y="1010.2" font-size="16.5" text-anchor="middle" fill="#1e1e1e" font-family="'DejaVu Sans', sans-serif">S</text><text x="1140.7" y="995.1" font-size="16.5" text-anchor="middle" fill="#1e1e1e" font-family="'DejaVu Sans', sans-serif">H</text><rect x="1067.2" y="1013" width="4.6" height="9" fill="#1c1a18"/><text x="1069.5" y="1010.5" font-size="16.5" text-anchor="middle" fill="#1e1e1e" font-family="'DejaVu Sans', sans-serif">S</text><text x="1069.5" y="995.4" font-size="16.5" text-anchor="middle" fill="#1e1e1e" font-family="'DejaVu Sans', sans-serif">H</text><rect x="995.9" y="1013.2" width="4.6" height="9" fill="#1c1a18"/><text x="998.2" y="1010.7" font-size="16.5" text-anchor="middle" fill="#1e1e1e" font-family="'DejaVu Sans', sans-serif">S</text><text x="998.2" y="995.6" font-size="16.5" text-anchor="middle" fill="#1e1e1e" font-family="'DejaVu Sans', sans-serif">H</text><rect x="1156.2" y="1023.4" width="4.6" height="9" fill="#1c1a18"/><text x="1158.5" y="1020.9" font-size="16.5" text-anchor="middle" fill="#1e1e1e" font-family="'DejaVu Sans', sans-serif">S</text><text x="1158.5" y="1005.8" font-size="16.5" text-anchor="middle" fill="#1e1e1e" font-family="'DejaVu Sans', sans-serif">H</text><rect x="1085" y="1023.6" width="4.6" height="9" fill="#1c1a18"/><text x="1087.3" y="1021.1" font-size="16.5" text-anchor="middle" fill="#1e1e1e" font-family="'DejaVu Sans', sans-serif">S</text><text x="1087.3" y="1006" font-size="16.5" text-anchor="middle" fill="#1e1e1e" font-family="'DejaVu Sans', sans-serif">H</text><rect x="1013.7" y="1023.8" width="4.6" height="9" fill="#1c1a18"/><text x="1016" y="1021.3" font-size="16.5" text-anchor="middle" fill="#1e1e1e" font-family="'DejaVu Sans', sans-serif">S</text><text x="1016" y="1006.2" font-size="16.5" text-anchor="middle" fill="#1e1e1e" font-family="'DejaVu Sans', sans-serif">H</text><rect x="1174.1" y="1034" width="4.6" height="9" fill="#1c1a18"/><text x="1176.4" y="1031.5" font-size="16.5" text-anchor="middle" fill="#1e1e1e" font-family="'DejaVu Sans', sans-serif">S</text><text x="1176.4" y="1016.4" font-size="16.5" text-anchor="middle" fill="#1e1e1e" font-family="'DejaVu Sans', sans-serif">H</text><rect x="1102.8" y="1034.2" width="4.6" height="9" fill="#1c1a18"/><text x="1105.1" y="1031.7" font-size="16.5" text-anchor="middle" fill="#1e1e1e" font-family="'DejaVu Sans', sans-serif">S</text><text x="1105.1" y="1016.6" font-size="16.5" text-anchor="middle" fill="#1e1e1e" font-family="'DejaVu Sans', sans-serif">H</text><rect x="1031.6" y="1034.5" width="4.6" height="9" fill="#1c1a18"/><text x="1033.9" y="1032" font-size="16.5" text-anchor="middle" fill="#1e1e1e" font-family="'DejaVu Sans', sans-serif">S</text><text x="1033.9" y="1016.9" font-size="16.5" text-anchor="middle" fill="#1e1e1e" font-family="'DejaVu Sans', sans-serif">H</text><rect x="960.3" y="1034.7" width="4.6" height="9" fill="#1c1a18"/><text x="962.6" y="1032.2" font-size="16.5" text-anchor="middle" fill="#1e1e1e" font-family="'DejaVu Sans', sans-serif">S</text><text x="962.6" y="1017.1" font-size="16.5" text-anchor="middle" fill="#1e1e1e" font-family="'DejaVu Sans', sans-serif">H</text><rect x="1120.7" y="1044.9" width="4.6" height="9" fill="#1c1a18"/><text x="1123" y="1042.4" font-size="16.5" text-anchor="middle" fill="#1e1e1e" font-family="'DejaVu Sans', sans-serif">S</text><text x="1123" y="1027.3" font-size="16.5" text-anchor="middle" fill="#1e1e1e" font-family="'DejaVu Sans', sans-serif">H</text><rect x="1049.4" y="1045.1" width="4.6" height="9" fill="#1c1a18"/><text x="1051.7" y="1042.6" font-size="16.5" text-anchor="middle" fill="#1e1e1e" font-family="'DejaVu Sans', sans-serif">S</text><text x="1051.7" y="1027.5" font-size="16.5" text-anchor="middle" fill="#1e1e1e" font-family="'DejaVu Sans', sans-serif">H</text><rect x="978.1" y="1045.3" width="4.6" height="9" fill="#1c1a18"/><text x="980.4" y="1042.8" font-size="16.5" text-anchor="middle" fill="#1e1e1e" font-family="'DejaVu Sans', sans-serif">S</text><text x="980.4" y="1027.7" font-size="16.5" text-anchor="middle" fill="#1e1e1e" font-family="'DejaVu Sans', sans-serif">H</text><rect x="1138.5" y="1055.5" width="4.6" height="9" fill="#1c1a18"/><text x="1140.8" y="1053" font-size="16.5" text-anchor="middle" fill="#1e1e1e" font-family="'DejaVu Sans', sans-serif">S</text><text x="1140.8" y="1037.9" font-size="16.5" text-anchor="middle" fill="#1e1e1e" font-family="'DejaVu Sans', sans-serif">H</text><rect x="1067.2" y="1055.7" width="4.6" height="9" fill="#1c1a18"/><text x="1069.5" y="1053.2" font-size="16.5" text-anchor="middle" fill="#1e1e1e" font-family="'DejaVu Sans', sans-serif">S</text><text x="1069.5" y="1038.1" font-size="16.5" text-anchor="middle" fill="#1e1e1e" font-family="'DejaVu Sans', sans-serif">H</text><rect x="996" y="1056" width="4.6" height="9" fill="#1c1a18"/><text x="998.3" y="1053.5" font-size="16.5" text-anchor="middle" fill="#1e1e1e" font-family="'DejaVu Sans', sans-serif">S</text><text x="998.3" y="1038.4" font-size="16.5" text-anchor="middle" fill="#1e1e1e" font-family="'DejaVu Sans', sans-serif">H</text><rect x="1085" y="1066.4" width="4.6" height="9" fill="#1c1a18"/><text x="1087.3" y="1063.9" font-size="16.5" text-anchor="middle" fill="#1e1e1e" font-family="'DejaVu Sans', sans-serif">S</text><text x="1087.3" y="1048.8" font-size="16.5" text-anchor="middle" fill="#1e1e1e" font-family="'DejaVu Sans', sans-serif">H</text><rect x="1013.8" y="1066.6" width="4.6" height="9" fill="#1c1a18"/><text x="1016.1" y="1064.1" font-size="16.5" text-anchor="middle" fill="#1e1e1e" font-family="'DejaVu Sans', sans-serif">S</text><text x="1016.1" y="1049" font-size="16.5" text-anchor="middle" fill="#1e1e1e" font-family="'DejaVu Sans', sans-serif">H</text><rect x="1102.9" y="1077" width="4.6" height="9" fill="#1c1a18"/><text x="1105.2" y="1074.5" font-size="16.5" text-anchor="middle" fill="#1e1e1e" font-family="'DejaVu Sans', sans-serif">S</text><text x="1105.2" y="1059.4" font-size="16.5" text-anchor="middle" fill="#1e1e1e" font-family="'DejaVu Sans', sans-serif">H</text><rect x="1031.6" y="1077.2" width="4.6" height="9" fill="#1c1a18"/><text x="1033.9" y="1074.7" font-size="16.5" text-anchor="middle" fill="#1e1e1e" font-family="'DejaVu Sans', sans-serif">S</text><text x="1033.9" y="1059.6" font-size="16.5" text-anchor="middle" fill="#1e1e1e" font-family="'DejaVu Sans', sans-serif">H</text><rect x="1049.5" y="1087.9" width="4.6" height="9" fill="#1c1a18"/><text x="1051.8" y="1085.4" font-size="16.5" text-anchor="middle" fill="#1e1e1e" font-family="'DejaVu Sans', sans-serif">S</text><text x="1051.8" y="1070.3" font-size="16.5" text-anchor="middle" fill="#1e1e1e" font-family="'DejaVu Sans', sans-serif">H</text><rect x="1067.3" y="1098.5" width="4.6" height="9" fill="#1c1a18"/><text x="1069.6" y="1096" font-size="16.5" text-anchor="middle" fill="#1e1e1e" font-family="'DejaVu Sans', sans-serif">S</text><text x="1069.6" y="1080.9" font-size="16.5" text-anchor="middle" fill="#1e1e1e" font-family="'DejaVu Sans', sans-serif">H</text>
<path d="M1067 893.1L1134 931.8L1134 1009.4L1067.2 1047.6L1000.4 1010.2L1000.4 932Z" fill="#c48c34"/>
<path d="M1000.4 932L1067.2 970.6L1067.2 1047.6L1000.4 1010.2Z" fill="#946b27"/>
<path d="M1067.2 970.6L1134 931.8L1134 1009.4L1067.2 1047.6Z" fill="#c48c34"/>
<path d="M1067 893.1L1134 931.8L1067.2 970.6L1000.4 932Z" fill="#d09838"/>
<path d="M1009.9 937.5L1019.5 943L1086.1 904.1L1076.5 898.6Z" fill="#d6c232"/>
<path d="M1009.9 937.5L1019.5 943L1019.5 1021.2L1009.9 1015.7Z" fill="#9a9128"/>
<path d="M1029 948.5L1038.6 954.1L1105.2 915.2L1095.6 909.6Z" fill="#d6c232"/>
<path d="M1029 948.5L1038.6 954.1L1038.6 1032.3L1029 1026.7Z" fill="#9a9128"/>
<path d="M1048.1 959.6L1057.7 965.1L1124.3 926.2L1114.7 920.7Z" fill="#d6c232"/>
<path d="M1048.1 959.6L1057.7 965.1L1057.7 1043.3L1048.1 1037.8Z" fill="#9a9128"/>
<path d="M1001.4 932L1067.2 969.1L1133 931.8" fill="none" stroke="#c8902f" stroke-width="3" stroke-opacity="0.55"/>
<rect x="921.7" y="502.5" width="721.6" height="666.8" fill="none" stroke="#0b0c09" stroke-width="3.7"/>
<line x1="923.2" y1="1157.1" x2="941.2" y2="1157.1" stroke="#0b0c09" stroke-width="3.2"/>
<text x="911.2" y="1165.9" font-size="25" text-anchor="end" font-weight="normal" fill="#0b0c09">0.80</text>
<line x1="923.2" y1="996.6" x2="941.2" y2="996.6" stroke="#0b0c09" stroke-width="3.2"/>
<text x="911.2" y="1005.4" font-size="25" text-anchor="end" font-weight="normal" fill="#0b0c09">0.85</text>
<line x1="923.2" y1="836" x2="941.2" y2="836" stroke="#0b0c09" stroke-width="3.2"/>
<text x="911.2" y="844.8" font-size="25" text-anchor="end" font-weight="normal" fill="#0b0c09">0.90</text>
<line x1="923.2" y1="675.5" x2="941.2" y2="675.5" stroke="#0b0c09" stroke-width="3.2"/>
<text x="911.2" y="684.3" font-size="25" text-anchor="end" font-weight="normal" fill="#0b0c09">0.95</text>
<line x1="923.2" y1="514.9" x2="941.2" y2="514.9" stroke="#0b0c09" stroke-width="3.2"/>
<text x="911.2" y="523.7" font-size="25" text-anchor="end" font-weight="normal" fill="#0b0c09">1.00</text>
<line x1="933.6" y1="1167.8" x2="933.6" y2="1150.3" stroke="#0b0c09" stroke-width="3.3"/>
<text x="934.6" y="1203.3" font-size="24.5" text-anchor="middle" font-weight="normal" fill="#0b0c09">1</text>
<line x1="1014.4" y1="1167.8" x2="1014.4" y2="1158.3" stroke="#0b0c09" stroke-width="3.3"/>
<text x="1014.1" y="1188.8" font-size="17.6" text-anchor="middle" font-weight="normal" fill="#0b0c09">2</text>
<line x1="1061.7" y1="1167.8" x2="1061.7" y2="1158.3" stroke="#0b0c09" stroke-width="3.3"/>
<text x="1061.4" y="1188.8" font-size="17.6" text-anchor="middle" font-weight="normal" fill="#0b0c09">3</text>
<line x1="1095.3" y1="1167.8" x2="1095.3" y2="1158.3" stroke="#0b0c09" stroke-width="3.3"/>
<text x="1095" y="1188.8" font-size="17.6" text-anchor="middle" font-weight="normal" fill="#0b0c09">4</text>
<line x1="1121.3" y1="1167.8" x2="1121.3" y2="1158.3" stroke="#0b0c09" stroke-width="3.3"/>
<text x="1121" y="1188.8" font-size="17.6" text-anchor="middle" font-weight="normal" fill="#0b0c09">5</text>
<line x1="1142.5" y1="1167.8" x2="1142.5" y2="1158.3" stroke="#0b0c09" stroke-width="3.3"/>
<text x="1142.2" y="1188.8" font-size="17.6" text-anchor="middle" font-weight="normal" fill="#0b0c09">6</text>
<line x1="1160.5" y1="1167.8" x2="1160.5" y2="1158.3" stroke="#0b0c09" stroke-width="3.3"/>
<text x="1160.2" y="1188.8" font-size="17.6" text-anchor="middle" font-weight="normal" fill="#0b0c09">7</text>
<line x1="1176.1" y1="1167.8" x2="1176.1" y2="1158.3" stroke="#0b0c09" stroke-width="3.3"/>
<line x1="1189.8" y1="1167.8" x2="1189.8" y2="1158.3" stroke="#0b0c09" stroke-width="3.3"/>
<line x1="1202.1" y1="1167.8" x2="1202.1" y2="1150.3" stroke="#0b0c09" stroke-width="3.3"/>
<text x="1203.1" y="1203.3" font-size="24.5" text-anchor="middle" font-weight="normal" fill="#0b0c09">10</text>
<line x1="1282.9" y1="1167.8" x2="1282.9" y2="1158.3" stroke="#0b0c09" stroke-width="3.3"/>
<text x="1282.6" y="1188.8" font-size="17.6" text-anchor="middle" font-weight="normal" fill="#0b0c09">2</text>
<line x1="1330.2" y1="1167.8" x2="1330.2" y2="1158.3" stroke="#0b0c09" stroke-width="3.3"/>
<text x="1329.9" y="1188.8" font-size="17.6" text-anchor="middle" font-weight="normal" fill="#0b0c09">3</text>
<line x1="1363.8" y1="1167.8" x2="1363.8" y2="1158.3" stroke="#0b0c09" stroke-width="3.3"/>
<text x="1363.5" y="1188.8" font-size="17.6" text-anchor="middle" font-weight="normal" fill="#0b0c09">4</text>
<line x1="1389.8" y1="1167.8" x2="1389.8" y2="1158.3" stroke="#0b0c09" stroke-width="3.3"/>
<text x="1389.5" y="1188.8" font-size="17.6" text-anchor="middle" font-weight="normal" fill="#0b0c09">5</text>
<line x1="1411" y1="1167.8" x2="1411" y2="1158.3" stroke="#0b0c09" stroke-width="3.3"/>
<text x="1410.7" y="1188.8" font-size="17.6" text-anchor="middle" font-weight="normal" fill="#0b0c09">6</text>
<line x1="1429" y1="1167.8" x2="1429" y2="1158.3" stroke="#0b0c09" stroke-width="3.3"/>
<text x="1428.7" y="1188.8" font-size="17.6" text-anchor="middle" font-weight="normal" fill="#0b0c09">7</text>
<line x1="1444.6" y1="1167.8" x2="1444.6" y2="1158.3" stroke="#0b0c09" stroke-width="3.3"/>
<line x1="1458.3" y1="1167.8" x2="1458.3" y2="1158.3" stroke="#0b0c09" stroke-width="3.3"/>
<line x1="1470.6" y1="1167.8" x2="1470.6" y2="1150.3" stroke="#0b0c09" stroke-width="3.3"/>
<text x="1471.6" y="1203.3" font-size="24.5" text-anchor="middle" font-weight="normal" fill="#0b0c09">100</text>
<line x1="1551.4" y1="1167.8" x2="1551.4" y2="1158.3" stroke="#0b0c09" stroke-width="3.3"/>
<text x="1551.1" y="1188.8" font-size="17.6" text-anchor="middle" font-weight="normal" fill="#0b0c09">2</text>
<line x1="1598.7" y1="1167.8" x2="1598.7" y2="1158.3" stroke="#0b0c09" stroke-width="3.3"/>
<text x="1598.4" y="1188.8" font-size="17.6" text-anchor="middle" font-weight="normal" fill="#0b0c09">3</text>
<line x1="1632.3" y1="1167.8" x2="1632.3" y2="1158.3" stroke="#0b0c09" stroke-width="3.3"/>
<text x="1632" y="1188.8" font-size="17.6" text-anchor="middle" font-weight="normal" fill="#0b0c09">4</text>
<text x="1123.6" y="1231.7" font-size="31.5" text-anchor="start" font-weight="normal" fill="#0b0c09" transform="matrix(1.0520 0 0 1 -58.4 0)" xml:space="preserve">Time interval [sec.]</text>
<text transform="translate(880.7 772.4) rotate(-90)" font-size="33.5" text-anchor="middle" fill="#0b0c09">ACF</text>
<text x="939.2" y="583.2" font-size="76" text-anchor="start" font-weight="bold" fill="#0b0c09">d</text>
<text x="1044.5" y="565.8" font-size="50.2" text-anchor="start" font-weight="normal" fill="#0b0c09">in air</text>
<rect x="1325" y="543.2" width="276.8" height="145" fill="#0b0c09"/>
<rect x="1322.2" y="540.4" width="275.9" height="144.3" fill="#fff"/>
<rect x="1323.3" y="541.5" width="272.4" height="140.8" fill="#fff" stroke="#0b0c09" stroke-width="2.2"/>
<path d="M1350.5 563.2 L1339.1 582.6 L1361.9 582.6 Z" fill="none" stroke="#3350a6" stroke-width="2.2" stroke-linejoin="miter"/>
<rect x="1341" y="606.1" width="19" height="19" fill="none" stroke="#0b0c09" stroke-width="2"/>
<circle cx="1350.5" cy="655.2" r="9.3" fill="none" stroke="#de3020" stroke-width="2"/>
<text x="1370.8" y="586.5" font-size="35" text-anchor="start" font-weight="normal" fill="#0b0c09" transform="matrix(1.0150 0 0 1 -20.6 0)">277 K, n=547</text>
<text x="1370.8" y="626.3" font-size="35" text-anchor="start" font-weight="normal" fill="#0b0c09" transform="matrix(1.0150 0 0 1 -20.6 0)">298 K, n=528</text>
<text x="1370.8" y="666.1" font-size="35" text-anchor="start" font-weight="normal" fill="#0b0c09" transform="matrix(1.0150 0 0 1 -20.6 0)">323 K, n=653</text>
<path d="M997.6 725.5h15.5v15.5h-15.5ZM1078.4 727.3h15.5v15.5h-15.5ZM1125.7 728h15.5v15.5h-15.5ZM1159.2 730h15.5v15.5h-15.5ZM1185.3 731.9h15.5v15.5h-15.5ZM1206.5 733.4h15.5v15.5h-15.5ZM1224.5 734.8h15.5v15.5h-15.5ZM1240.1 736h15.5v15.5h-15.5ZM1253.8 737h15.5v15.5h-15.5ZM1266.1 737.9h15.5v15.5h-15.5ZM1277.2 738.6h15.5v15.5h-15.5ZM1287.3 739.4h15.5v15.5h-15.5ZM1296.7 740.6h15.5v15.5h-15.5ZM1305.3 742.4h15.5v15.5h-15.5ZM1313.4 744h15.5v15.5h-15.5ZM1320.9 745.4h15.5v15.5h-15.5ZM1328 746.8h15.5v15.5h-15.5ZM1334.6 748.2h15.5v15.5h-15.5ZM1340.9 749.5h15.5v15.5h-15.5ZM1346.9 750.9h15.5v15.5h-15.5ZM1352.6 752.2h15.5v15.5h-15.5ZM1358 753.6h15.5v15.5h-15.5ZM1363.2 755h15.5v15.5h-15.5ZM1368.2 756.3h15.5v15.5h-15.5ZM1372.9 757.8h15.5v15.5h-15.5ZM1377.5 759.2h15.5v15.5h-15.5ZM1381.9 760.6h15.5v15.5h-15.5ZM1386.1 762h15.5v15.5h-15.5ZM1390.2 763.5h15.5v15.5h-15.5ZM1394.2 764.9h15.5v15.5h-15.5ZM1398 766.4h15.5v15.5h-15.5ZM1401.7 767.9h15.5v15.5h-15.5ZM1405.3 769.4h15.5v15.5h-15.5ZM1408.8 770.8h15.5v15.5h-15.5ZM1412.2 772.3h15.5v15.5h-15.5ZM1415.5 773.8h15.5v15.5h-15.5ZM1418.6 775.3h15.5v15.5h-15.5ZM1421.8 776.8h15.5v15.5h-15.5ZM1424.8 778.2h15.5v15.5h-15.5ZM1427.7 779.7h15.5v15.5h-15.5ZM1430.6 781.2h15.5v15.5h-15.5ZM1433.4 782.7h15.5v15.5h-15.5ZM1436.2 784.1h15.5v15.5h-15.5ZM1438.9 785.6h15.5v15.5h-15.5ZM1441.5 787.1h15.5v15.5h-15.5ZM1444 788.5h15.5v15.5h-15.5ZM1446.5 789.9h15.5v15.5h-15.5ZM1449 791.4h15.5v15.5h-15.5ZM1451.4 792.8h15.5v15.5h-15.5ZM1453.8 794.2h15.5v15.5h-15.5ZM1456.1 795.6h15.5v15.5h-15.5ZM1458.3 797h15.5v15.5h-15.5ZM1460.6 798.4h15.5v15.5h-15.5ZM1462.7 799.8h15.5v15.5h-15.5ZM1464.9 801.2h15.5v15.5h-15.5ZM1467 802.6h15.5v15.5h-15.5ZM1469 803.9h15.5v15.5h-15.5ZM1471.1 805.3h15.5v15.5h-15.5ZM1473.1 806.6h15.5v15.5h-15.5ZM1475 807.9h15.5v15.5h-15.5ZM1476.9 809.2h15.5v15.5h-15.5ZM1478.8 810.5h15.5v15.5h-15.5ZM1480.7 811.8h15.5v15.5h-15.5ZM1482.5 813.1h15.5v15.5h-15.5ZM1484.4 814.4h15.5v15.5h-15.5ZM1486.1 815.6h15.5v15.5h-15.5ZM1487.9 816.9h15.5v15.5h-15.5ZM1489.6 818.1h15.5v15.5h-15.5ZM1491.3 819.4h15.5v15.5h-15.5ZM1493 820.6h15.5v15.5h-15.5ZM1494.6 821.8h15.5v15.5h-15.5ZM1496.3 823h15.5v15.5h-15.5ZM1497.9 824.2h15.5v15.5h-15.5ZM1499.5 825.4h15.5v15.5h-15.5ZM1501 826.5h15.5v15.5h-15.5ZM1502.6 827.7h15.5v15.5h-15.5ZM1504.1 828.8h15.5v15.5h-15.5ZM1505.6 830h15.5v15.5h-15.5ZM1507.1 831.1h15.5v15.5h-15.5ZM1508.6 832.2h15.5v15.5h-15.5ZM1510 833.3h15.5v15.5h-15.5ZM1511.4 834.4h15.5v15.5h-15.5ZM1512.9 835.5h15.5v15.5h-15.5ZM1514.3 836.6h15.5v15.5h-15.5ZM1515.6 837.6h15.5v15.5h-15.5ZM1517 838.7h15.5v15.5h-15.5ZM1518.3 839.7h15.5v15.5h-15.5ZM1519.7 840.8h15.5v15.5h-15.5ZM1521 841.8h15.5v15.5h-15.5ZM1522.3 842.8h15.5v15.5h-15.5ZM1523.6 843.8h15.5v15.5h-15.5ZM1524.9 844.8h15.5v15.5h-15.5ZM1526.1 845.8h15.5v15.5h-15.5ZM1527.4 846.8h15.5v15.5h-15.5ZM1528.6 847.7h15.5v15.5h-15.5ZM1529.8 848.7h15.5v15.5h-15.5ZM1531 849.7h15.5v15.5h-15.5ZM1532.2 850.6h15.5v15.5h-15.5ZM1533.4 851.5h15.5v15.5h-15.5ZM1534.6 852.4h15.5v15.5h-15.5ZM1535.7 853.4h15.5v15.5h-15.5ZM1536.9 854.3h15.5v15.5h-15.5ZM1538 855.1h15.5v15.5h-15.5ZM1539.2 856h15.5v15.5h-15.5ZM1540.3 856.9h15.5v15.5h-15.5ZM1541.4 857.8h15.5v15.5h-15.5ZM1542.5 858.6h15.5v15.5h-15.5ZM1543.6 859.5h15.5v15.5h-15.5ZM1544.6 860.3h15.5v15.5h-15.5ZM1545.7 861.2h15.5v15.5h-15.5ZM1546.8 862h15.5v15.5h-15.5ZM1547.8 862.8h15.5v15.5h-15.5ZM1548.8 863.6h15.5v15.5h-15.5ZM1549.9 864.4h15.5v15.5h-15.5ZM1550.9 865.2h15.5v15.5h-15.5ZM1551.9 866h15.5v15.5h-15.5ZM1552.9 866.8h15.5v15.5h-15.5ZM1553.9 867.5h15.5v15.5h-15.5ZM1554.9 868.3h15.5v15.5h-15.5ZM1555.8 869h15.5v15.5h-15.5ZM1556.8 869.8h15.5v15.5h-15.5ZM1557.8 870.5h15.5v15.5h-15.5ZM1558.7 871.3h15.5v15.5h-15.5ZM1559.7 872h15.5v15.5h-15.5ZM1560.6 872.7h15.5v15.5h-15.5ZM1561.5 873.4h15.5v15.5h-15.5ZM1562.5 874.1h15.5v15.5h-15.5ZM1563.4 874.8h15.5v15.5h-15.5ZM1564.3 875.5h15.5v15.5h-15.5ZM1565.2 876.2h15.5v15.5h-15.5ZM1566.1 876.8h15.5v15.5h-15.5ZM1567 877.5h15.5v15.5h-15.5ZM1567.8 878.2h15.5v15.5h-15.5ZM1568.7 878.8h15.5v15.5h-15.5ZM1569.6 879.4h15.5v15.5h-15.5ZM1570.4 880.1h15.5v15.5h-15.5ZM1571.3 880.7h15.5v15.5h-15.5ZM1572.1 881.3h15.5v15.5h-15.5ZM1573 882h15.5v15.5h-15.5ZM1573.8 882.6h15.5v15.5h-15.5ZM1574.7 883.2h15.5v15.5h-15.5ZM1575.5 883.8h15.5v15.5h-15.5ZM1576.3 884.4h15.5v15.5h-15.5ZM1577.1 885h15.5v15.5h-15.5ZM1577.9 885.5h15.5v15.5h-15.5ZM1578.7 886.1h15.5v15.5h-15.5ZM1579.5 886.7h15.5v15.5h-15.5ZM1580.3 887.2h15.5v15.5h-15.5ZM1581.1 887.8h15.5v15.5h-15.5ZM1581.9 888.3h15.5v15.5h-15.5ZM1582.6 888.9h15.5v15.5h-15.5ZM1583.4 889.4h15.5v15.5h-15.5ZM1584.2 889.9h15.5v15.5h-15.5ZM1584.9 890.5h15.5v15.5h-15.5ZM1585.7 891h15.5v15.5h-15.5ZM1586.4 891.5h15.5v15.5h-15.5ZM1587.2 892h15.5v15.5h-15.5ZM1587.9 892.5h15.5v15.5h-15.5ZM1588.7 893h15.5v15.5h-15.5ZM1589.4 893.5h15.5v15.5h-15.5ZM1590.1 894h15.5v15.5h-15.5ZM1590.8 894.5h15.5v15.5h-15.5ZM1591.6 894.9h15.5v15.5h-15.5ZM1592.3 895.4h15.5v15.5h-15.5ZM1593 895.9h15.5v15.5h-15.5ZM1593.7 896.3h15.5v15.5h-15.5ZM1594.4 896.8h15.5v15.5h-15.5ZM1595.1 897.2h15.5v15.5h-15.5ZM1595.8 897.7h15.5v15.5h-15.5ZM1596.5 898.1h15.5v15.5h-15.5ZM1597.1 898.5h15.5v15.5h-15.5ZM1597.8 899h15.5v15.5h-15.5ZM1598.5 899.4h15.5v15.5h-15.5ZM1599.2 899.8h15.5v15.5h-15.5ZM1599.8 900.2h15.5v15.5h-15.5ZM1600.5 900.6h15.5v15.5h-15.5ZM1601.2 901h15.5v15.5h-15.5ZM1601.8 901.4h15.5v15.5h-15.5ZM1602.5 901.8h15.5v15.5h-15.5ZM1603.1 902.2h15.5v15.5h-15.5ZM1603.8 902.6h15.5v15.5h-15.5ZM1604.4 903h15.5v15.5h-15.5ZM1605.1 903.3h15.5v15.5h-15.5ZM1605.7 903.7h15.5v15.5h-15.5ZM1606.3 904.1h15.5v15.5h-15.5ZM1606.9 904.4h15.5v15.5h-15.5ZM1607.6 904.8h15.5v15.5h-15.5ZM1608.2 905.1h15.5v15.5h-15.5ZM1608.8 905.5h15.5v15.5h-15.5ZM1609.4 905.8h15.5v15.5h-15.5ZM1610 906.2h15.5v15.5h-15.5ZM1610.7 906.5h15.5v15.5h-15.5ZM1611.3 906.8h15.5v15.5h-15.5ZM1611.9 907.1h15.5v15.5h-15.5ZM1612.5 907.5h15.5v15.5h-15.5ZM1613.1 907.8h15.5v15.5h-15.5ZM1613.6 908.1h15.5v15.5h-15.5ZM1614.2 908.4h15.5v15.5h-15.5ZM1614.8 908.7h15.5v15.5h-15.5ZM1615.4 909h15.5v15.5h-15.5ZM1616 909.3h15.5v15.5h-15.5ZM1616.6 909.6h15.5v15.5h-15.5ZM1617.1 909.9h15.5v15.5h-15.5ZM1617.7 910.2h15.5v15.5h-15.5ZM1618.3 910.4h15.5v15.5h-15.5ZM1618.9 910.7h15.5v15.5h-15.5ZM1619.4 911h15.5v15.5h-15.5ZM1620 911.2h15.5v15.5h-15.5ZM1620.5 911.5h15.5v15.5h-15.5ZM1621.1 911.8h15.5v15.5h-15.5ZM1621.7 912h15.5v15.5h-15.5ZM1622.2 912.3h15.5v15.5h-15.5ZM1622.8 912.5h15.5v15.5h-15.5ZM1623.3 912.8h15.5v15.5h-15.5ZM1623.8 913h15.5v15.5h-15.5ZM1624.4 913.2h15.5v15.5h-15.5Z" fill="none" stroke="#0b0c09" stroke-width="1.8"/>
<path d="M998.3 731.2h14M998.3 735.2h14M1005.3 731.2V735.2M1079.2 732.9h14M1079.2 737.1h14M1086.2 732.9V737.1M1126.4 733.5h14M1126.4 737.9h14M1133.4 733.5V737.9M1160 735.5h14M1160 740.1h14M1167 735.5V740.1M1186 737.2h14M1186 742h14M1193 737.2V742M1207.3 738.7h14M1207.3 743.7h14M1214.3 738.7V743.7M1225.2 740h14M1225.2 745.2h14M1232.2 740V745.2M1240.8 741.1h14M1240.8 746.5h14M1247.8 741.1V746.5M1254.5 742h14M1254.5 747.6h14M1261.5 742V747.6M1266.8 742.9h14M1266.8 748.5h14M1273.8 742.9V748.5M1277.9 743.5h14M1277.9 749.3h14M1284.9 743.5V749.3M1288.1 744.2h14M1288.1 750.1h14M1295.1 744.2V750.1M1297.4 745.3h14M1297.4 751.4h14M1304.4 745.3V751.4M1306.1 747.1h14M1306.1 753.3h14M1313.1 747.1V753.3M1314.1 748.5h14M1314.1 755h14M1321.1 748.5V755M1321.6 749.8h14M1321.6 756.5h14M1328.6 749.8V756.5M1328.7 751h14M1328.7 758.1h14M1335.7 751V758.1M1335.4 752.2h14M1335.4 759.6h14M1342.4 752.2V759.6M1341.7 753.4h14M1341.7 761.1h14M1348.7 753.4V761.1M1347.7 754.6h14M1347.7 762.6h14M1354.7 754.6V762.6M1353.4 755.8h14M1353.4 764.1h14M1360.4 755.8V764.1M1358.8 757h14M1358.8 765.7h14M1365.8 757V765.7M1364 758.2h14M1364 767.2h14M1371 758.2V767.2M1368.9 759.4h14M1368.9 768.8h14M1375.9 759.4V768.8M1373.7 760.7h14M1373.7 770.3h14M1380.7 760.7V770.3M1378.3 761.9h14M1378.3 771.9h14M1385.3 761.9V771.9M1382.7 763.2h14M1382.7 773.5h14M1389.7 763.2V773.5M1386.9 764.5h14M1386.9 775.1h14M1393.9 764.5V775.1M1391 765.8h14M1391 776.7h14M1398 765.8V776.7M1394.9 767.1h14M1394.9 778.3h14M1401.9 767.1V778.3M1398.8 768.4h14M1398.8 779.9h14M1405.8 768.4V779.9M1402.5 769.7h14M1402.5 781.5h14M1409.5 769.7V781.5M1406.1 771.1h14M1406.1 783.1h14M1413.1 771.1V783.1M1409.5 772.4h14M1409.5 784.8h14M1416.5 772.4V784.8M1412.9 773.8h14M1412.9 786.4h14M1419.9 773.8V786.4M1416.2 775.1h14M1416.2 788h14M1423.2 775.1V788M1419.4 776.5h14M1419.4 789.6h14M1426.4 776.5V789.6M1422.5 777.9h14M1422.5 791.2h14M1429.5 777.9V791.2M1425.5 779.2h14M1425.5 792.8h14M1432.5 779.2V792.8M1428.5 780.6h14M1428.5 794.4h14M1435.5 780.6V794.4M1431.4 782h14M1431.4 796h14M1438.4 782V796M1434.2 783.3h14M1434.2 797.5h14M1441.2 783.3V797.5M1436.9 784.7h14M1436.9 799.1h14M1443.9 784.7V799.1M1439.6 786h14M1439.6 800.7h14M1446.6 786V800.7M1442.2 787.4h14M1442.2 802.2h14M1449.2 787.4V802.2M1444.8 788.8h14M1444.8 803.7h14M1451.8 788.8V803.7M1447.3 790.1h14M1447.3 805.3h14M1454.3 790.1V805.3M1449.7 791.5h14M1449.7 806.8h14M1456.7 791.5V806.8M1452.2 792.8h14M1452.2 808.3h14M1459.2 792.8V808.3M1454.5 794.1h14M1454.5 809.8h14M1461.5 794.1V809.8M1456.8 795.5h14M1456.8 811.3h14M1463.8 795.5V811.3M1459.1 796.8h14M1459.1 812.8h14M1466.1 796.8V812.8M1461.3 798.1h14M1461.3 814.2h14M1468.3 798.1V814.2M1463.5 799.4h14M1463.5 815.7h14M1470.5 799.4V815.7M1465.6 800.7h14M1465.6 817.1h14M1472.6 800.7V817.1M1467.7 802h14M1467.7 818.6h14M1474.7 802V818.6M1469.8 803.3h14M1469.8 820h14M1476.8 803.3V820M1471.8 804.6h14M1471.8 821.4h14M1478.8 804.6V821.4M1473.8 805.9h14M1473.8 822.8h14M1480.8 805.9V822.8M1475.8 807.1h14M1475.8 824.2h14M1482.8 807.1V824.2M1477.7 808.4h14M1477.7 825.6h14M1484.7 808.4V825.6M1479.6 809.6h14M1479.6 826.9h14M1486.6 809.6V826.9M1481.5 810.9h14M1481.5 828.3h14M1488.5 810.9V828.3M1483.3 812.1h14M1483.3 829.6h14M1490.3 812.1V829.6M1485.1 813.3h14M1485.1 830.9h14M1492.1 813.3V830.9M1486.9 814.6h14M1486.9 832.2h14M1493.9 814.6V832.2M1488.6 815.8h14M1488.6 833.5h14M1495.6 815.8V833.5M1490.4 817h14M1490.4 834.8h14M1497.4 817V834.8M1492.1 818.1h14M1492.1 836.1h14M1499.1 818.1V836.1M1493.7 819.3h14M1493.7 837.4h14M1500.7 819.3V837.4M1495.4 820.5h14M1495.4 838.6h14M1502.4 820.5V838.6M1497 821.7h14M1497 839.9h14M1504 821.7V839.9M1498.6 822.8h14M1498.6 841.1h14M1505.6 822.8V841.1M1500.2 823.9h14M1500.2 842.3h14M1507.2 823.9V842.3M1501.8 825.1h14M1501.8 843.5h14M1508.8 825.1V843.5M1503.3 826.2h14M1503.3 844.7h14M1510.3 826.2V844.7M1504.9 827.3h14M1504.9 845.9h14M1511.9 827.3V845.9M1506.4 828.4h14M1506.4 847.1h14M1513.4 828.4V847.1M1507.8 829.5h14M1507.8 848.2h14M1514.8 829.5V848.2M1509.3 830.6h14M1509.3 849.4h14M1516.3 830.6V849.4M1510.8 831.6h14M1510.8 850.5h14M1517.8 831.6V850.5M1512.2 832.7h14M1512.2 851.6h14M1519.2 832.7V851.6M1513.6 833.8h14M1513.6 852.8h14M1520.6 833.8V852.8M1515 834.8h14M1515 853.9h14M1522 834.8V853.9M1516.4 835.8h14M1516.4 855h14M1523.4 835.8V855M1517.7 836.9h14M1517.7 856h14M1524.7 836.9V856M1519.1 837.9h14M1519.1 857.1h14M1526.1 837.9V857.1M1520.4 838.9h14M1520.4 858.2h14M1527.4 838.9V858.2M1521.7 839.9h14M1521.7 859.2h14M1528.7 839.9V859.2M1523 840.8h14M1523 860.3h14M1530 840.8V860.3M1524.3 841.8h14M1524.3 861.3h14M1531.3 841.8V861.3M1525.6 842.8h14M1525.6 862.3h14M1532.6 842.8V862.3M1526.9 843.7h14M1526.9 863.4h14M1533.9 843.7V863.4M1528.1 844.7h14M1528.1 864.4h14M1535.1 844.7V864.4M1529.4 845.6h14M1529.4 865.4h14M1536.4 845.6V865.4M1530.6 846.6h14M1530.6 866.3h14M1537.6 846.6V866.3M1531.8 847.5h14M1531.8 867.3h14M1538.8 847.5V867.3M1533 848.4h14M1533 868.3h14M1540 848.4V868.3M1534.2 849.3h14M1534.2 869.2h14M1541.2 849.3V869.2M1535.3 850.2h14M1535.3 870.2h14M1542.3 850.2V870.2M1536.5 851.1h14M1536.5 871.1h14M1543.5 851.1V871.1M1537.6 851.9h14M1537.6 872.1h14M1544.6 851.9V872.1M1538.8 852.8h14M1538.8 873h14M1545.8 852.8V873M1539.9 853.7h14M1539.9 873.9h14M1546.9 853.7V873.9M1541 854.5h14M1541 874.8h14M1548 854.5V874.8M1542.1 855.4h14M1542.1 875.7h14M1549.1 855.4V875.7M1543.2 856.2h14M1543.2 876.6h14M1550.2 856.2V876.6M1544.3 857h14M1544.3 877.4h14M1551.3 857V877.4M1545.4 857.8h14M1545.4 878.3h14M1552.4 857.8V878.3M1546.4 858.7h14M1546.4 879.2h14M1553.4 858.7V879.2M1547.5 859.5h14M1547.5 880h14M1554.5 859.5V880M1548.6 860.3h14M1548.6 880.8h14M1555.6 860.3V880.8M1549.6 861h14M1549.6 881.7h14M1556.6 861V881.7M1550.6 861.8h14M1550.6 882.5h14M1557.6 861.8V882.5M1551.6 862.6h14M1551.6 883.3h14M1558.6 862.6V883.3M1552.6 863.4h14M1552.6 884.1h14M1559.6 863.4V884.1M1553.6 864.1h14M1553.6 884.9h14M1560.6 864.1V884.9M1554.6 864.9h14M1554.6 885.7h14M1561.6 864.9V885.7M1555.6 865.6h14M1555.6 886.5h14M1562.6 865.6V886.5M1556.6 866.3h14M1556.6 887.3h14M1563.6 866.3V887.3M1557.6 867h14M1557.6 888h14M1564.6 867V888M1558.5 867.8h14M1558.5 888.8h14M1565.5 867.8V888.8M1559.5 868.5h14M1559.5 889.5h14M1566.5 868.5V889.5M1560.4 869.2h14M1560.4 890.3h14M1567.4 869.2V890.3M1561.4 869.9h14M1561.4 891h14M1568.4 869.9V891M1562.3 870.6h14M1562.3 891.8h14M1569.3 870.6V891.8M1563.2 871.2h14M1563.2 892.5h14M1570.2 871.2V892.5M1564.1 871.9h14M1564.1 893.2h14M1571.1 871.9V893.2M1565 872.6h14M1565 893.9h14M1572 872.6V893.9M1565.9 873.2h14M1565.9 894.6h14M1572.9 873.2V894.6M1566.8 873.9h14M1566.8 895.3h14M1573.8 873.9V895.3M1567.7 874.5h14M1567.7 896h14M1574.7 874.5V896M1568.6 875.2h14M1568.6 896.6h14M1575.6 875.2V896.6M1569.5 875.8h14M1569.5 897.3h14M1576.5 875.8V897.3M1570.3 876.4h14M1570.3 898h14M1577.3 876.4V898M1571.2 877.1h14M1571.2 898.6h14M1578.2 877.1V898.6M1572 877.7h14M1572 899.3h14M1579 877.7V899.3M1572.9 878.3h14M1572.9 899.9h14M1579.9 878.3V899.9M1573.7 878.9h14M1573.7 900.5h14M1580.7 878.9V900.5M1574.6 879.5h14M1574.6 901.2h14M1581.6 879.5V901.2M1575.4 880.1h14M1575.4 901.8h14M1582.4 880.1V901.8M1576.2 880.6h14M1576.2 902.4h14M1583.2 880.6V902.4M1577 881.2h14M1577 903h14M1584 881.2V903M1577.9 881.8h14M1577.9 903.6h14M1584.9 881.8V903.6M1578.7 882.3h14M1578.7 904.2h14M1585.7 882.3V904.2M1579.5 882.9h14M1579.5 904.8h14M1586.5 882.9V904.8M1580.3 883.4h14M1580.3 905.4h14M1587.3 883.4V905.4M1581.1 884h14M1581.1 906h14M1588.1 884V906M1581.8 884.5h14M1581.8 906.5h14M1588.8 884.5V906.5M1582.6 885.1h14M1582.6 907.1h14M1589.6 885.1V907.1M1583.4 885.6h14M1583.4 907.7h14M1590.4 885.6V907.7M1584.2 886.1h14M1584.2 908.2h14M1591.2 886.1V908.2M1584.9 886.6h14M1584.9 908.8h14M1591.9 886.6V908.8M1585.7 887.1h14M1585.7 909.3h14M1592.7 887.1V909.3M1586.4 887.6h14M1586.4 909.8h14M1593.4 887.6V909.8M1587.2 888.1h14M1587.2 910.4h14M1594.2 888.1V910.4M1587.9 888.6h14M1587.9 910.9h14M1594.9 888.6V910.9M1588.7 889.1h14M1588.7 911.4h14M1595.7 889.1V911.4M1589.4 889.6h14M1589.4 911.9h14M1596.4 889.6V911.9M1590.1 890.1h14M1590.1 912.4h14M1597.1 890.1V912.4M1590.9 890.5h14M1590.9 912.9h14M1597.9 890.5V912.9M1591.6 891h14M1591.6 913.4h14M1598.6 891V913.4M1592.3 891.5h14M1592.3 913.9h14M1599.3 891.5V913.9M1593 891.9h14M1593 914.4h14M1600 891.9V914.4M1593.7 892.4h14M1593.7 914.8h14M1600.7 892.4V914.8M1594.4 892.8h14M1594.4 915.3h14M1601.4 892.8V915.3M1595.1 893.2h14M1595.1 915.8h14M1602.1 893.2V915.8M1595.8 893.7h14M1595.8 916.2h14M1602.8 893.7V916.2M1596.5 894.1h14M1596.5 916.7h14M1603.5 894.1V916.7M1597.2 894.5h14M1597.2 917.2h14M1604.2 894.5V917.2M1597.9 894.9h14M1597.9 917.6h14M1604.9 894.9V917.6M1598.6 895.4h14M1598.6 918h14M1605.6 895.4V918M1599.3 895.8h14M1599.3 918.5h14M1606.3 895.8V918.5M1599.9 896.2h14M1599.9 918.9h14M1606.9 896.2V918.9M1600.6 896.6h14M1600.6 919.3h14M1607.6 896.6V919.3M1601.3 897h14M1601.3 919.8h14M1608.3 897V919.8M1601.9 897.4h14M1601.9 920.2h14M1608.9 897.4V920.2M1602.6 897.7h14M1602.6 920.6h14M1609.6 897.7V920.6M1603.2 898.1h14M1603.2 921h14M1610.2 898.1V921M1603.9 898.5h14M1603.9 921.4h14M1610.9 898.5V921.4M1604.5 898.9h14M1604.5 921.8h14M1611.5 898.9V921.8M1605.2 899.2h14M1605.2 922.2h14M1612.2 899.2V922.2M1605.8 899.6h14M1605.8 922.6h14M1612.8 899.6V922.6M1606.4 899.9h14M1606.4 922.9h14M1613.4 899.9V922.9M1607.1 900.3h14M1607.1 923.3h14M1614.1 900.3V923.3M1607.7 900.6h14M1607.7 923.7h14M1614.7 900.6V923.7M1608.3 901h14M1608.3 924h14M1615.3 901V924M1608.9 901.3h14M1608.9 924.4h14M1615.9 901.3V924.4M1609.6 901.7h14M1609.6 924.8h14M1616.6 901.7V924.8M1610.2 902h14M1610.2 925.1h14M1617.2 902V925.1M1610.8 902.3h14M1610.8 925.5h14M1617.8 902.3V925.5M1611.4 902.7h14M1611.4 925.8h14M1618.4 902.7V925.8M1612 903h14M1612 926.2h14M1619 903V926.2M1612.6 903.3h14M1612.6 926.5h14M1619.6 903.3V926.5M1613.2 903.6h14M1613.2 926.8h14M1620.2 903.6V926.8M1613.8 903.9h14M1613.8 927.2h14M1620.8 903.9V927.2M1614.4 904.2h14M1614.4 927.5h14M1621.4 904.2V927.5M1615 904.5h14M1615 927.8h14M1622 904.5V927.8M1615.6 904.8h14M1615.6 928.1h14M1622.6 904.8V928.1M1616.2 905.1h14M1616.2 928.4h14M1623.2 905.1V928.4M1616.7 905.4h14M1616.7 928.7h14M1623.7 905.4V928.7M1617.3 905.6h14M1617.3 929h14M1624.3 905.6V929M1617.9 905.9h14M1617.9 929.3h14M1624.9 905.9V929.3M1618.5 906.2h14M1618.5 929.6h14M1625.5 906.2V929.6M1619 906.4h14M1619 929.9h14M1626 906.4V929.9M1619.6 906.7h14M1619.6 930.2h14M1626.6 906.7V930.2M1620.2 907h14M1620.2 930.5h14M1627.2 907V930.5M1620.7 907.2h14M1620.7 930.7h14M1627.7 907.2V930.7M1621.3 907.5h14M1621.3 931h14M1628.3 907.5V931M1621.9 907.7h14M1621.9 931.3h14M1628.9 907.7V931.3M1622.4 908h14M1622.4 931.6h14M1629.4 908V931.6M1623 908.2h14M1623 931.8h14M1630 908.2V931.8M1623.5 908.5h14M1623.5 932.1h14M1630.5 908.5V932.1M1624.1 908.7h14M1624.1 932.3h14M1631.1 908.7V932.3M1624.6 908.9h14M1624.6 932.6h14M1631.6 908.9V932.6M1625.1 909.2h14M1625.1 932.8h14M1632.1 909.2V932.8" fill="none" stroke="#0b0c09" stroke-width="1.8"/>
<path d="M1300 747.6L1302.5 747.9L1304.9 748.1L1307.4 748.2L1309.8 748.2L1312.3 748.3L1314.7 748.2L1317.2 748.1L1319.6 748L1322.1 747.8L1324.5 747.6L1327 747.3L1329.4 747L1331.9 747.1L1334.3 747.4L1336.8 747.6L1339.3 747.9L1341.7 748.2L1344.2 748.5L1346.6 748.8L1349.1 749.1L1351.5 749.4L1354 749.8L1356.4 750.2L1358.9 750.6L1361.3 751L1363.8 751.5L1366.2 751.9L1368.7 752.4L1371.1 752.9L1373.6 753.4L1376.1 753.9L1378.5 754.5L1381 755.1L1383.4 755.7L1385.9 756.3L1388.3 756.9L1390.8 757.6L1393.2 758.3L1395.7 759L1398.1 759.7L1400.6 760.5L1403 761.2L1405.5 762L1407.9 762.9L1410.4 763.7L1412.8 764.6L1415.3 765.4L1417.8 766.4L1420.2 767.3L1422.7 768.2L1425.1 769.2L1427.6 770.2L1430 771.2L1432.5 772.3L1434.9 773.4L1437.4 774.4L1439.8 775.6L1442.3 776.7L1444.7 777.8L1447.2 779L1449.6 780.2L1452.1 781.4L1454.6 782.7L1457 783.9L1459.5 785.2L1461.9 786.5L1464.4 787.9L1466.8 789.2L1469.3 790.6L1471.7 792L1474.2 793.4L1476.6 794.8L1479.1 796.2L1481.5 797.7L1484 799.2L1486.4 800.7L1488.9 802.2L1491.4 803.7L1493.8 805.3L1496.3 806.8L1498.7 808.4L1501.2 810L1503.6 811.6L1506.1 813.2L1508.5 814.9L1511 816.5L1513.4 818.2L1515.9 819.9L1518.3 821.6L1520.8 823.3L1523.2 825L1525.7 826.7L1528.2 828.4L1530.6 830.2L1533.1 831.9L1535.5 833.7L1538 835.4L1540.4 837.2L1542.9 839L1545.3 840.8L1547.8 842.6L1550.2 844.3L1552.7 846.1L1555.1 847.9L1557.6 849.7L1560 851.5L1562.5 853.3L1564.9 855.1L1567.4 856.9L1569.9 858.7L1572.3 860.5L1574.8 862.3L1577.2 864L1579.7 865.8L1582.1 867.6L1584.6 869.3L1587 871.1L1589.5 872.8L1591.9 874.6L1594.4 876.3L1596.8 878L1599.3 879.7L1601.7 881.3L1604.2 883L1606.7 884.6L1609.1 886.3L1611.6 887.9L1614 889.5L1616.5 891L1618.9 892.6L1621.4 894.1L1623.8 895.6L1626.3 897.1L1628.7 898.5L1631.2 899.9L1633.6 901.3L1636.1 902.7L1638.5 904L1641 905.3L1641 943.8L1638.5 943.3L1636.1 942.7L1633.6 942L1631.2 941.3L1628.7 940.4L1626.3 939.5L1623.8 938.6L1621.4 937.5L1618.9 936.5L1616.5 935.3L1614 934.1L1611.6 932.8L1609.1 931.5L1606.7 930.1L1604.2 928.7L1601.7 927.2L1599.3 925.7L1596.8 924.1L1594.4 922.5L1591.9 920.8L1589.5 919.1L1587 917.4L1584.6 915.7L1582.1 913.9L1579.7 912L1577.2 910.2L1574.8 908.3L1572.3 906.4L1569.9 904.5L1567.4 902.5L1564.9 900.6L1562.5 898.6L1560 896.6L1557.6 894.6L1555.1 892.5L1552.7 890.5L1550.2 888.4L1547.8 886.4L1545.3 884.3L1542.9 882.2L1540.4 880.2L1538 878.1L1535.5 876L1533.1 873.9L1530.6 871.8L1528.2 869.7L1525.7 867.7L1523.2 865.6L1520.8 863.5L1518.3 861.5L1515.9 859.4L1513.4 857.4L1511 855.3L1508.5 853.3L1506.1 851.3L1503.6 849.3L1501.2 847.3L1498.7 845.3L1496.3 843.4L1493.8 841.4L1491.4 839.5L1488.9 837.6L1486.4 835.7L1484 833.8L1481.5 832L1479.1 830.1L1476.6 828.3L1474.2 826.5L1471.7 824.8L1469.3 823L1466.8 821.3L1464.4 819.6L1461.9 817.9L1459.5 816.3L1457 814.6L1454.6 813L1452.1 811.4L1449.6 809.9L1447.2 808.3L1444.7 806.8L1442.3 805.3L1439.8 803.9L1437.4 802.4L1434.9 801L1432.5 799.7L1430 798.3L1427.6 797L1425.1 795.7L1422.7 794.4L1420.2 793.1L1417.8 791.9L1415.3 790.7L1412.8 789.5L1410.4 788.3L1407.9 787.2L1405.5 786.1L1403 785L1400.6 783.9L1398.1 782.9L1395.7 781.8L1393.2 780.8L1390.8 779.8L1388.3 778.9L1385.9 777.9L1383.4 777L1381 776.1L1378.5 775.2L1376.1 774.3L1373.6 773.5L1371.1 772.6L1368.7 771.8L1366.2 771L1363.8 770.2L1361.3 769.4L1358.9 768.6L1356.4 767.8L1354 767.1L1351.5 766.3L1349.1 765.6L1346.6 764.8L1344.2 764.1L1341.7 763.4L1339.3 762.6L1336.8 761.9L1334.3 761.2L1331.9 760.4L1329.4 759.6L1327 758.4L1324.5 757.2L1322.1 756L1319.6 754.9L1317.2 753.8L1314.7 752.8L1312.3 751.8L1309.8 750.9L1307.4 750L1304.9 749.1L1302.5 748.4L1300 747.6Z" fill="#0b0c09"/>
<path d="M1005.3 733.5 1009.3 733.5 1013.3 733.5 1017.3 733.5 1021.3 733.5 1025.3 733.6 1029.2 733.6 1033.2 733.6 1037.2 733.6 1041.2 733.7 1045.2 733.7 1049.2 733.8 1053.2 733.8 1057.1 733.8 1061.1 733.9 1065.1 734 1069.1 734 1073.1 734.1 1077.1 734.1 1081.1 734.2 1085 734.3 1089 734.3 1093 734.4 1097 734.5 1101 734.6 1105 734.7 1109 734.7 1112.9 734.8 1116.9 734.9 1120.9 735 1124.9 735.1 1128.9 735.2 1132.9 735.3 1136.9 735.4 1140.8 735.5 1144.8 735.6 1148.8 735.7 1152.8 735.8 1156.8 735.9 1160.8 736 1164.7 736.2 1168.7 736.3 1172.7 736.5 1176.7 736.7 1180.7 736.9 1184.7 737.1 1188.7 737.4 1192.6 737.6 1196.6 737.9 1200.6 738.1 1204.6 738.4 1208.6 738.7 1212.6 739 1216.6 739.3 1220.5 739.6 1224.5 739.9 1228.5 740.2 1232.5 740.5 1236.5 740.9 1240.5 741.2 1244.5 741.6 1248.4 741.9 1252.4 742.3 1256.4 742.6 1260.4 743 1264.4 743.4 1268.4 743.8 1272.4 744.1 1276.3 744.5 1280.3 745 1284.3 745.4 1288.3 745.9 1292.3 746.5 1296.3 747.1 1300.2 747.7 1304.2 748.4 1308.2 749.2 1312.2 750 1316.2 750.8 1320.2 751.5 1324.2 752.3 1328.1 753.1 1332.1 753.8 1336.1 754.6 1340.1 755.4 1344.1 756.3 1348.1 757.1 1352.1 758 1356 758.9 1360 759.9 1364 760.9 1368 761.9 1372 763 1376 764.1 1380 765.3 1383.9 766.5 1387.9 767.8 1391.9 769.1 1395.9 770.5 1399.9 771.9 1403.9 773.4 1407.9 775 1411.8 776.6 1415.8 778.3 1419.8 780 1423.8 781.8 1427.8 783.7 1431.8 785.6 1435.7 787.6 1439.7 789.7 1443.7 791.8 1447.7 794 1451.7 796.2 1455.7 798.5 1459.7 800.9 1463.6 803.3 1467.6 805.8 1471.6 808.3 1475.6 810.9 1479.6 813.5 1483.6 816.2 1487.6 819 1491.5 821.7 1495.5 824.6 1499.5 827.4 1503.5 830.4 1507.5 833.3 1511.5 836.3 1515.5 839.3 1519.4 842.4 1523.4 845.4 1527.4 848.5 1531.4 851.6 1535.4 854.7 1539.4 857.9 1543.4 861 1547.3 864.1 1551.3 867.2 1555.3 870.4 1559.3 873.5 1563.3 876.6 1567.3 879.6 1571.2 882.6 1575.2 885.6 1579.2 888.6 1583.2 891.5 1587.2 894.4 1591.2 897.2 1595.2 899.9 1599.1 902.6 1603.1 905.2 1607.1 907.7 1611.1 910.1 1615.1 912.4 1619.1 914.6 1623.1 916.7 1627 918.7 1631 920.5 1635 922.2 1639 922.6" fill="none" stroke="#0b0c09" stroke-width="5"/>
<path d="M997.6 735.7a7.7 7.7 0 1 0 15.4 0a7.7 7.7 0 1 0 -15.4 0M1078.5 738.4a7.7 7.7 0 1 0 15.4 0a7.7 7.7 0 1 0 -15.4 0M1125.7 740.8a7.7 7.7 0 1 0 15.4 0a7.7 7.7 0 1 0 -15.4 0M1159.3 743a7.7 7.7 0 1 0 15.4 0a7.7 7.7 0 1 0 -15.4 0M1185.3 745.2a7.7 7.7 0 1 0 15.4 0a7.7 7.7 0 1 0 -15.4 0M1206.6 747.3a7.7 7.7 0 1 0 15.4 0a7.7 7.7 0 1 0 -15.4 0M1224.5 749.3a7.7 7.7 0 1 0 15.4 0a7.7 7.7 0 1 0 -15.4 0M1240.1 751.3a7.7 7.7 0 1 0 15.4 0a7.7 7.7 0 1 0 -15.4 0M1253.8 753.2a7.7 7.7 0 1 0 15.4 0a7.7 7.7 0 1 0 -15.4 0M1266.1 755.2a7.7 7.7 0 1 0 15.4 0a7.7 7.7 0 1 0 -15.4 0M1277.2 757.7a7.7 7.7 0 1 0 15.4 0a7.7 7.7 0 1 0 -15.4 0M1287.4 760.1a7.7 7.7 0 1 0 15.4 0a7.7 7.7 0 1 0 -15.4 0M1296.7 761.8a7.7 7.7 0 1 0 15.4 0a7.7 7.7 0 1 0 -15.4 0M1305.4 763.1a7.7 7.7 0 1 0 15.4 0a7.7 7.7 0 1 0 -15.4 0M1313.4 764.8a7.7 7.7 0 1 0 15.4 0a7.7 7.7 0 1 0 -15.4 0M1320.9 766.5a7.7 7.7 0 1 0 15.4 0a7.7 7.7 0 1 0 -15.4 0M1328 768.3a7.7 7.7 0 1 0 15.4 0a7.7 7.7 0 1 0 -15.4 0M1334.7 770.3a7.7 7.7 0 1 0 15.4 0a7.7 7.7 0 1 0 -15.4 0M1341 772.3a7.7 7.7 0 1 0 15.4 0a7.7 7.7 0 1 0 -15.4 0M1347 774.4a7.7 7.7 0 1 0 15.4 0a7.7 7.7 0 1 0 -15.4 0M1352.7 776.5a7.7 7.7 0 1 0 15.4 0a7.7 7.7 0 1 0 -15.4 0M1358.1 778.6a7.7 7.7 0 1 0 15.4 0a7.7 7.7 0 1 0 -15.4 0M1363.3 780.8a7.7 7.7 0 1 0 15.4 0a7.7 7.7 0 1 0 -15.4 0M1368.2 783a7.7 7.7 0 1 0 15.4 0a7.7 7.7 0 1 0 -15.4 0M1373 785.2a7.7 7.7 0 1 0 15.4 0a7.7 7.7 0 1 0 -15.4 0M1377.6 787.4a7.7 7.7 0 1 0 15.4 0a7.7 7.7 0 1 0 -15.4 0M1382 789.6a7.7 7.7 0 1 0 15.4 0a7.7 7.7 0 1 0 -15.4 0M1386.2 791.8a7.7 7.7 0 1 0 15.4 0a7.7 7.7 0 1 0 -15.4 0M1390.3 794a7.7 7.7 0 1 0 15.4 0a7.7 7.7 0 1 0 -15.4 0M1394.2 796.2a7.7 7.7 0 1 0 15.4 0a7.7 7.7 0 1 0 -15.4 0M1398.1 798.4a7.7 7.7 0 1 0 15.4 0a7.7 7.7 0 1 0 -15.4 0M1401.8 800.5a7.7 7.7 0 1 0 15.4 0a7.7 7.7 0 1 0 -15.4 0M1405.4 802.7a7.7 7.7 0 1 0 15.4 0a7.7 7.7 0 1 0 -15.4 0M1408.8 804.8a7.7 7.7 0 1 0 15.4 0a7.7 7.7 0 1 0 -15.4 0M1412.2 806.9a7.7 7.7 0 1 0 15.4 0a7.7 7.7 0 1 0 -15.4 0M1415.5 809a7.7 7.7 0 1 0 15.4 0a7.7 7.7 0 1 0 -15.4 0M1418.7 811.1a7.7 7.7 0 1 0 15.4 0a7.7 7.7 0 1 0 -15.4 0M1421.8 813.1a7.7 7.7 0 1 0 15.4 0a7.7 7.7 0 1 0 -15.4 0M1424.8 815.2a7.7 7.7 0 1 0 15.4 0a7.7 7.7 0 1 0 -15.4 0M1427.8 817.2a7.7 7.7 0 1 0 15.4 0a7.7 7.7 0 1 0 -15.4 0M1430.7 819.2a7.7 7.7 0 1 0 15.4 0a7.7 7.7 0 1 0 -15.4 0M1433.5 821.1a7.7 7.7 0 1 0 15.4 0a7.7 7.7 0 1 0 -15.4 0M1436.2 823.1a7.7 7.7 0 1 0 15.4 0a7.7 7.7 0 1 0 -15.4 0M1438.9 825a7.7 7.7 0 1 0 15.4 0a7.7 7.7 0 1 0 -15.4 0M1441.5 827a7.7 7.7 0 1 0 15.4 0a7.7 7.7 0 1 0 -15.4 0M1444.1 828.9a7.7 7.7 0 1 0 15.4 0a7.7 7.7 0 1 0 -15.4 0M1446.6 830.7a7.7 7.7 0 1 0 15.4 0a7.7 7.7 0 1 0 -15.4 0M1449 832.6a7.7 7.7 0 1 0 15.4 0a7.7 7.7 0 1 0 -15.4 0M1451.5 834.4a7.7 7.7 0 1 0 15.4 0a7.7 7.7 0 1 0 -15.4 0M1453.8 836.2a7.7 7.7 0 1 0 15.4 0a7.7 7.7 0 1 0 -15.4 0M1456.1 838a7.7 7.7 0 1 0 15.4 0a7.7 7.7 0 1 0 -15.4 0M1458.4 839.8a7.7 7.7 0 1 0 15.4 0a7.7 7.7 0 1 0 -15.4 0M1460.6 841.5a7.7 7.7 0 1 0 15.4 0a7.7 7.7 0 1 0 -15.4 0M1462.8 843.3a7.7 7.7 0 1 0 15.4 0a7.7 7.7 0 1 0 -15.4 0M1464.9 845a7.7 7.7 0 1 0 15.4 0a7.7 7.7 0 1 0 -15.4 0M1467 846.7a7.7 7.7 0 1 0 15.4 0a7.7 7.7 0 1 0 -15.4 0M1469.1 848.4a7.7 7.7 0 1 0 15.4 0a7.7 7.7 0 1 0 -15.4 0M1471.1 850a7.7 7.7 0 1 0 15.4 0a7.7 7.7 0 1 0 -15.4 0M1473.1 851.7a7.7 7.7 0 1 0 15.4 0a7.7 7.7 0 1 0 -15.4 0M1475.1 853.3a7.7 7.7 0 1 0 15.4 0a7.7 7.7 0 1 0 -15.4 0M1477 854.9a7.7 7.7 0 1 0 15.4 0a7.7 7.7 0 1 0 -15.4 0M1478.9 856.5a7.7 7.7 0 1 0 15.4 0a7.7 7.7 0 1 0 -15.4 0M1480.8 858a7.7 7.7 0 1 0 15.4 0a7.7 7.7 0 1 0 -15.4 0M1482.6 859.6a7.7 7.7 0 1 0 15.4 0a7.7 7.7 0 1 0 -15.4 0M1484.4 861.1a7.7 7.7 0 1 0 15.4 0a7.7 7.7 0 1 0 -15.4 0M1486.2 862.6a7.7 7.7 0 1 0 15.4 0a7.7 7.7 0 1 0 -15.4 0M1487.9 864.1a7.7 7.7 0 1 0 15.4 0a7.7 7.7 0 1 0 -15.4 0M1489.7 865.6a7.7 7.7 0 1 0 15.4 0a7.7 7.7 0 1 0 -15.4 0M1491.4 867.1a7.7 7.7 0 1 0 15.4 0a7.7 7.7 0 1 0 -15.4 0M1493 868.5a7.7 7.7 0 1 0 15.4 0a7.7 7.7 0 1 0 -15.4 0M1494.7 870a7.7 7.7 0 1 0 15.4 0a7.7 7.7 0 1 0 -15.4 0M1496.3 871.4a7.7 7.7 0 1 0 15.4 0a7.7 7.7 0 1 0 -15.4 0M1497.9 872.8a7.7 7.7 0 1 0 15.4 0a7.7 7.7 0 1 0 -15.4 0M1499.5 874.2a7.7 7.7 0 1 0 15.4 0a7.7 7.7 0 1 0 -15.4 0M1501.1 875.5a7.7 7.7 0 1 0 15.4 0a7.7 7.7 0 1 0 -15.4 0M1502.6 876.9a7.7 7.7 0 1 0 15.4 0a7.7 7.7 0 1 0 -15.4 0M1504.2 878.2a7.7 7.7 0 1 0 15.4 0a7.7 7.7 0 1 0 -15.4 0M1505.7 879.6a7.7 7.7 0 1 0 15.4 0a7.7 7.7 0 1 0 -15.4 0M1507.1 880.9a7.7 7.7 0 1 0 15.4 0a7.7 7.7 0 1 0 -15.4 0M1508.6 882.2a7.7 7.7 0 1 0 15.4 0a7.7 7.7 0 1 0 -15.4 0M1510.1 883.5a7.7 7.7 0 1 0 15.4 0a7.7 7.7 0 1 0 -15.4 0M1511.5 884.7a7.7 7.7 0 1 0 15.4 0a7.7 7.7 0 1 0 -15.4 0M1512.9 886a7.7 7.7 0 1 0 15.4 0a7.7 7.7 0 1 0 -15.4 0M1514.3 887.3a7.7 7.7 0 1 0 15.4 0a7.7 7.7 0 1 0 -15.4 0M1515.7 888.5a7.7 7.7 0 1 0 15.4 0a7.7 7.7 0 1 0 -15.4 0M1517 889.7a7.7 7.7 0 1 0 15.4 0a7.7 7.7 0 1 0 -15.4 0M1518.4 890.9a7.7 7.7 0 1 0 15.4 0a7.7 7.7 0 1 0 -15.4 0M1519.7 892.1a7.7 7.7 0 1 0 15.4 0a7.7 7.7 0 1 0 -15.4 0M1521 893.3a7.7 7.7 0 1 0 15.4 0a7.7 7.7 0 1 0 -15.4 0M1522.3 894.5a7.7 7.7 0 1 0 15.4 0a7.7 7.7 0 1 0 -15.4 0M1523.6 895.6a7.7 7.7 0 1 0 15.4 0a7.7 7.7 0 1 0 -15.4 0M1524.9 896.8a7.7 7.7 0 1 0 15.4 0a7.7 7.7 0 1 0 -15.4 0M1526.2 897.9a7.7 7.7 0 1 0 15.4 0a7.7 7.7 0 1 0 -15.4 0M1527.4 899a7.7 7.7 0 1 0 15.4 0a7.7 7.7 0 1 0 -15.4 0M1528.7 900.1a7.7 7.7 0 1 0 15.4 0a7.7 7.7 0 1 0 -15.4 0M1529.9 901.2a7.7 7.7 0 1 0 15.4 0a7.7 7.7 0 1 0 -15.4 0M1531.1 902.3a7.7 7.7 0 1 0 15.4 0a7.7 7.7 0 1 0 -15.4 0M1532.3 903.4a7.7 7.7 0 1 0 15.4 0a7.7 7.7 0 1 0 -15.4 0M1533.5 904.5a7.7 7.7 0 1 0 15.4 0a7.7 7.7 0 1 0 -15.4 0M1534.6 905.5a7.7 7.7 0 1 0 15.4 0a7.7 7.7 0 1 0 -15.4 0M1535.8 906.6a7.7 7.7 0 1 0 15.4 0a7.7 7.7 0 1 0 -15.4 0M1536.9 907.6a7.7 7.7 0 1 0 15.4 0a7.7 7.7 0 1 0 -15.4 0M1538.1 908.6a7.7 7.7 0 1 0 15.4 0a7.7 7.7 0 1 0 -15.4 0M1539.2 909.7a7.7 7.7 0 1 0 15.4 0a7.7 7.7 0 1 0 -15.4 0M1540.3 910.7a7.7 7.7 0 1 0 15.4 0a7.7 7.7 0 1 0 -15.4 0M1541.4 911.7a7.7 7.7 0 1 0 15.4 0a7.7 7.7 0 1 0 -15.4 0M1542.5 912.7a7.7 7.7 0 1 0 15.4 0a7.7 7.7 0 1 0 -15.4 0M1543.6 913.6a7.7 7.7 0 1 0 15.4 0a7.7 7.7 0 1 0 -15.4 0M1544.7 914.6a7.7 7.7 0 1 0 15.4 0a7.7 7.7 0 1 0 -15.4 0M1545.7 915.6a7.7 7.7 0 1 0 15.4 0a7.7 7.7 0 1 0 -15.4 0M1546.8 916.5a7.7 7.7 0 1 0 15.4 0a7.7 7.7 0 1 0 -15.4 0M1547.9 917.4a7.7 7.7 0 1 0 15.4 0a7.7 7.7 0 1 0 -15.4 0M1548.9 918.4a7.7 7.7 0 1 0 15.4 0a7.7 7.7 0 1 0 -15.4 0M1549.9 919.3a7.7 7.7 0 1 0 15.4 0a7.7 7.7 0 1 0 -15.4 0M1550.9 920.2a7.7 7.7 0 1 0 15.4 0a7.7 7.7 0 1 0 -15.4 0M1551.9 921.1a7.7 7.7 0 1 0 15.4 0a7.7 7.7 0 1 0 -15.4 0M1552.9 922a7.7 7.7 0 1 0 15.4 0a7.7 7.7 0 1 0 -15.4 0M1553.9 922.9a7.7 7.7 0 1 0 15.4 0a7.7 7.7 0 1 0 -15.4 0M1554.9 923.8a7.7 7.7 0 1 0 15.4 0a7.7 7.7 0 1 0 -15.4 0M1555.9 924.6a7.7 7.7 0 1 0 15.4 0a7.7 7.7 0 1 0 -15.4 0M1556.9 925.5a7.7 7.7 0 1 0 15.4 0a7.7 7.7 0 1 0 -15.4 0M1557.8 926.4a7.7 7.7 0 1 0 15.4 0a7.7 7.7 0 1 0 -15.4 0M1558.8 927.2a7.7 7.7 0 1 0 15.4 0a7.7 7.7 0 1 0 -15.4 0M1559.7 928a7.7 7.7 0 1 0 15.4 0a7.7 7.7 0 1 0 -15.4 0M1560.7 928.9a7.7 7.7 0 1 0 15.4 0a7.7 7.7 0 1 0 -15.4 0M1561.6 929.7a7.7 7.7 0 1 0 15.4 0a7.7 7.7 0 1 0 -15.4 0M1562.5 930.5a7.7 7.7 0 1 0 15.4 0a7.7 7.7 0 1 0 -15.4 0M1563.4 931.3a7.7 7.7 0 1 0 15.4 0a7.7 7.7 0 1 0 -15.4 0M1564.3 932.1a7.7 7.7 0 1 0 15.4 0a7.7 7.7 0 1 0 -15.4 0M1565.2 932.9a7.7 7.7 0 1 0 15.4 0a7.7 7.7 0 1 0 -15.4 0M1566.1 933.7a7.7 7.7 0 1 0 15.4 0a7.7 7.7 0 1 0 -15.4 0M1567 934.5a7.7 7.7 0 1 0 15.4 0a7.7 7.7 0 1 0 -15.4 0M1567.9 935.2a7.7 7.7 0 1 0 15.4 0a7.7 7.7 0 1 0 -15.4 0M1568.8 936a7.7 7.7 0 1 0 15.4 0a7.7 7.7 0 1 0 -15.4 0M1569.6 936.8a7.7 7.7 0 1 0 15.4 0a7.7 7.7 0 1 0 -15.4 0M1570.5 937.5a7.7 7.7 0 1 0 15.4 0a7.7 7.7 0 1 0 -15.4 0M1571.3 938.3a7.7 7.7 0 1 0 15.4 0a7.7 7.7 0 1 0 -15.4 0M1572.2 939a7.7 7.7 0 1 0 15.4 0a7.7 7.7 0 1 0 -15.4 0M1573 939.7a7.7 7.7 0 1 0 15.4 0a7.7 7.7 0 1 0 -15.4 0M1573.9 940.4a7.7 7.7 0 1 0 15.4 0a7.7 7.7 0 1 0 -15.4 0M1574.7 941.2a7.7 7.7 0 1 0 15.4 0a7.7 7.7 0 1 0 -15.4 0M1575.5 941.9a7.7 7.7 0 1 0 15.4 0a7.7 7.7 0 1 0 -15.4 0M1576.3 942.6a7.7 7.7 0 1 0 15.4 0a7.7 7.7 0 1 0 -15.4 0M1577.2 943.3a7.7 7.7 0 1 0 15.4 0a7.7 7.7 0 1 0 -15.4 0M1578 944a7.7 7.7 0 1 0 15.4 0a7.7 7.7 0 1 0 -15.4 0M1578.8 944.6a7.7 7.7 0 1 0 15.4 0a7.7 7.7 0 1 0 -15.4 0M1579.6 945.3a7.7 7.7 0 1 0 15.4 0a7.7 7.7 0 1 0 -15.4 0M1580.4 946a7.7 7.7 0 1 0 15.4 0a7.7 7.7 0 1 0 -15.4 0M1581.1 946.7a7.7 7.7 0 1 0 15.4 0a7.7 7.7 0 1 0 -15.4 0M1581.9 947.3a7.7 7.7 0 1 0 15.4 0a7.7 7.7 0 1 0 -15.4 0M1582.7 948a7.7 7.7 0 1 0 15.4 0a7.7 7.7 0 1 0 -15.4 0M1583.5 948.6a7.7 7.7 0 1 0 15.4 0a7.7 7.7 0 1 0 -15.4 0M1584.2 949.3a7.7 7.7 0 1 0 15.4 0a7.7 7.7 0 1 0 -15.4 0M1585 949.9a7.7 7.7 0 1 0 15.4 0a7.7 7.7 0 1 0 -15.4 0M1585.7 950.5a7.7 7.7 0 1 0 15.4 0a7.7 7.7 0 1 0 -15.4 0M1586.5 951.2a7.7 7.7 0 1 0 15.4 0a7.7 7.7 0 1 0 -15.4 0M1587.2 951.8a7.7 7.7 0 1 0 15.4 0a7.7 7.7 0 1 0 -15.4 0M1588 952.4a7.7 7.7 0 1 0 15.4 0a7.7 7.7 0 1 0 -15.4 0M1588.7 953a7.7 7.7 0 1 0 15.4 0a7.7 7.7 0 1 0 -15.4 0M1589.4 953.6a7.7 7.7 0 1 0 15.4 0a7.7 7.7 0 1 0 -15.4 0M1590.2 954.2a7.7 7.7 0 1 0 15.4 0a7.7 7.7 0 1 0 -15.4 0M1590.9 954.8a7.7 7.7 0 1 0 15.4 0a7.7 7.7 0 1 0 -15.4 0M1591.6 955.4a7.7 7.7 0 1 0 15.4 0a7.7 7.7 0 1 0 -15.4 0M1592.3 956a7.7 7.7 0 1 0 15.4 0a7.7 7.7 0 1 0 -15.4 0M1593 956.5a7.7 7.7 0 1 0 15.4 0a7.7 7.7 0 1 0 -15.4 0M1593.7 957.1a7.7 7.7 0 1 0 15.4 0a7.7 7.7 0 1 0 -15.4 0M1594.4 957.7a7.7 7.7 0 1 0 15.4 0a7.7 7.7 0 1 0 -15.4 0M1595.1 958.3a7.7 7.7 0 1 0 15.4 0a7.7 7.7 0 1 0 -15.4 0M1595.8 958.8a7.7 7.7 0 1 0 15.4 0a7.7 7.7 0 1 0 -15.4 0M1596.5 959.4a7.7 7.7 0 1 0 15.4 0a7.7 7.7 0 1 0 -15.4 0M1597.2 959.9a7.7 7.7 0 1 0 15.4 0a7.7 7.7 0 1 0 -15.4 0M1597.9 960.5a7.7 7.7 0 1 0 15.4 0a7.7 7.7 0 1 0 -15.4 0M1598.6 961a7.7 7.7 0 1 0 15.4 0a7.7 7.7 0 1 0 -15.4 0M1599.2 961.5a7.7 7.7 0 1 0 15.4 0a7.7 7.7 0 1 0 -15.4 0M1599.9 962.1a7.7 7.7 0 1 0 15.4 0a7.7 7.7 0 1 0 -15.4 0M1600.6 962.6a7.7 7.7 0 1 0 15.4 0a7.7 7.7 0 1 0 -15.4 0M1601.2 963.1a7.7 7.7 0 1 0 15.4 0a7.7 7.7 0 1 0 -15.4 0M1601.9 963.6a7.7 7.7 0 1 0 15.4 0a7.7 7.7 0 1 0 -15.4 0M1602.5 964.1a7.7 7.7 0 1 0 15.4 0a7.7 7.7 0 1 0 -15.4 0M1603.2 964.6a7.7 7.7 0 1 0 15.4 0a7.7 7.7 0 1 0 -15.4 0M1603.8 965.1a7.7 7.7 0 1 0 15.4 0a7.7 7.7 0 1 0 -15.4 0M1604.5 965.6a7.7 7.7 0 1 0 15.4 0a7.7 7.7 0 1 0 -15.4 0M1605.1 966.1a7.7 7.7 0 1 0 15.4 0a7.7 7.7 0 1 0 -15.4 0M1605.7 966.6a7.7 7.7 0 1 0 15.4 0a7.7 7.7 0 1 0 -15.4 0M1606.4 967.1a7.7 7.7 0 1 0 15.4 0a7.7 7.7 0 1 0 -15.4 0M1607 967.6a7.7 7.7 0 1 0 15.4 0a7.7 7.7 0 1 0 -15.4 0M1607.6 968.1a7.7 7.7 0 1 0 15.4 0a7.7 7.7 0 1 0 -15.4 0M1608.2 968.5a7.7 7.7 0 1 0 15.4 0a7.7 7.7 0 1 0 -15.4 0M1608.9 969a7.7 7.7 0 1 0 15.4 0a7.7 7.7 0 1 0 -15.4 0M1609.5 969.5a7.7 7.7 0 1 0 15.4 0a7.7 7.7 0 1 0 -15.4 0M1610.1 969.9a7.7 7.7 0 1 0 15.4 0a7.7 7.7 0 1 0 -15.4 0M1610.7 970.4a7.7 7.7 0 1 0 15.4 0a7.7 7.7 0 1 0 -15.4 0M1611.3 970.8a7.7 7.7 0 1 0 15.4 0a7.7 7.7 0 1 0 -15.4 0M1611.9 971.3a7.7 7.7 0 1 0 15.4 0a7.7 7.7 0 1 0 -15.4 0M1612.5 971.7a7.7 7.7 0 1 0 15.4 0a7.7 7.7 0 1 0 -15.4 0M1613.1 972.2a7.7 7.7 0 1 0 15.4 0a7.7 7.7 0 1 0 -15.4 0M1613.7 972.6a7.7 7.7 0 1 0 15.4 0a7.7 7.7 0 1 0 -15.4 0M1614.3 973.1a7.7 7.7 0 1 0 15.4 0a7.7 7.7 0 1 0 -15.4 0M1614.9 973.5a7.7 7.7 0 1 0 15.4 0a7.7 7.7 0 1 0 -15.4 0M1615.5 973.9a7.7 7.7 0 1 0 15.4 0a7.7 7.7 0 1 0 -15.4 0M1616 974.3a7.7 7.7 0 1 0 15.4 0a7.7 7.7 0 1 0 -15.4 0M1616.6 974.7a7.7 7.7 0 1 0 15.4 0a7.7 7.7 0 1 0 -15.4 0M1617.2 975.2a7.7 7.7 0 1 0 15.4 0a7.7 7.7 0 1 0 -15.4 0M1617.8 975.6a7.7 7.7 0 1 0 15.4 0a7.7 7.7 0 1 0 -15.4 0M1618.3 976a7.7 7.7 0 1 0 15.4 0a7.7 7.7 0 1 0 -15.4 0M1618.9 976.4a7.7 7.7 0 1 0 15.4 0a7.7 7.7 0 1 0 -15.4 0M1619.5 976.8a7.7 7.7 0 1 0 15.4 0a7.7 7.7 0 1 0 -15.4 0M1620 977.2a7.7 7.7 0 1 0 15.4 0a7.7 7.7 0 1 0 -15.4 0M1620.6 977.6a7.7 7.7 0 1 0 15.4 0a7.7 7.7 0 1 0 -15.4 0M1621.2 978a7.7 7.7 0 1 0 15.4 0a7.7 7.7 0 1 0 -15.4 0M1621.7 978.3a7.7 7.7 0 1 0 15.4 0a7.7 7.7 0 1 0 -15.4 0M1622.3 978.7a7.7 7.7 0 1 0 15.4 0a7.7 7.7 0 1 0 -15.4 0M1622.8 979.1a7.7 7.7 0 1 0 15.4 0a7.7 7.7 0 1 0 -15.4 0M1623.4 979.5a7.7 7.7 0 1 0 15.4 0a7.7 7.7 0 1 0 -15.4 0M1623.9 979.9a7.7 7.7 0 1 0 15.4 0a7.7 7.7 0 1 0 -15.4 0M1624.4 980.2a7.7 7.7 0 1 0 15.4 0a7.7 7.7 0 1 0 -15.4 0" fill="none" stroke="#de3020" stroke-width="1.8"/>
<path d="M998.3 733.7h14M998.3 737.7h14M1005.3 733.7V737.7M1079.2 736.2h14M1079.2 740.6h14M1086.2 736.2V740.6M1126.4 738.4h14M1126.4 743.3h14M1133.4 738.4V743.3M1160 740.3h14M1160 745.7h14M1167 740.3V745.7M1186 742.3h14M1186 748.1h14M1193 742.3V748.1M1207.3 744.2h14M1207.3 750.4h14M1214.3 744.2V750.4M1225.2 746h14M1225.2 752.6h14M1232.2 746V752.6M1240.8 747.9h14M1240.8 754.7h14M1247.8 747.9V754.7M1254.5 749.7h14M1254.5 756.8h14M1261.5 749.7V756.8M1266.8 751.5h14M1266.8 758.9h14M1273.8 751.5V758.9M1277.9 753.9h14M1277.9 761.5h14M1284.9 753.9V761.5M1288.1 756.2h14M1288.1 764.1h14M1295.1 756.2V764.1M1297.4 757.8h14M1297.4 765.9h14M1304.4 757.8V765.9M1306.1 759h14M1306.1 767.3h14M1313.1 759V767.3M1314.1 760.4h14M1314.1 769.1h14M1321.1 760.4V769.1M1321.6 762h14M1321.6 771h14M1328.6 762V771M1328.7 763.7h14M1328.7 773h14M1335.7 763.7V773M1335.4 765.5h14M1335.4 775.1h14M1342.4 765.5V775.1M1341.7 767.4h14M1341.7 777.3h14M1348.7 767.4V777.3M1347.7 769.3h14M1347.7 779.5h14M1354.7 769.3V779.5M1353.4 771.2h14M1353.4 781.8h14M1360.4 771.2V781.8M1358.8 773.2h14M1358.8 784.1h14M1365.8 773.2V784.1M1364 775.2h14M1364 786.4h14M1371 775.2V786.4M1368.9 777.3h14M1368.9 788.8h14M1375.9 777.3V788.8M1373.7 779.3h14M1373.7 791.1h14M1380.7 779.3V791.1M1378.3 781.3h14M1378.3 793.5h14M1385.3 781.3V793.5M1382.7 783.4h14M1382.7 795.8h14M1389.7 783.4V795.8M1386.9 785.5h14M1386.9 798.1h14M1393.9 785.5V798.1M1391 787.5h14M1391 800.5h14M1398 787.5V800.5M1394.9 789.6h14M1394.9 802.8h14M1401.9 789.6V802.8M1398.8 791.6h14M1398.8 805.1h14M1405.8 791.6V805.1M1402.5 793.6h14M1402.5 807.4h14M1409.5 793.6V807.4M1406.1 795.6h14M1406.1 809.7h14M1413.1 795.6V809.7M1409.5 797.6h14M1409.5 811.9h14M1416.5 797.6V811.9M1412.9 799.6h14M1412.9 814.2h14M1419.9 799.6V814.2M1416.2 801.6h14M1416.2 816.4h14M1423.2 801.6V816.4M1419.4 803.6h14M1419.4 818.6h14M1426.4 803.6V818.6M1422.5 805.5h14M1422.5 820.7h14M1429.5 805.5V820.7M1425.5 807.4h14M1425.5 822.9h14M1432.5 807.4V822.9M1428.5 809.3h14M1428.5 825h14M1435.5 809.3V825M1431.4 811.2h14M1431.4 827.1h14M1438.4 811.2V827.1M1434.2 813.1h14M1434.2 829.2h14M1441.2 813.1V829.2M1436.9 815h14M1436.9 831.2h14M1443.9 815V831.2M1439.6 816.8h14M1439.6 833.3h14M1446.6 816.8V833.3M1442.2 818.6h14M1442.2 835.3h14M1449.2 818.6V835.3M1444.8 820.4h14M1444.8 837.3h14M1451.8 820.4V837.3M1447.3 822.2h14M1447.3 839.2h14M1454.3 822.2V839.2M1449.7 824h14M1449.7 841.2h14M1456.7 824V841.2M1452.2 825.7h14M1452.2 843.1h14M1459.2 825.7V843.1M1454.5 827.5h14M1454.5 845h14M1461.5 827.5V845M1456.8 829.2h14M1456.8 846.9h14M1463.8 829.2V846.9M1459.1 830.9h14M1459.1 848.7h14M1466.1 830.9V848.7M1461.3 832.6h14M1461.3 850.5h14M1468.3 832.6V850.5M1463.5 834.2h14M1463.5 852.3h14M1470.5 834.2V852.3M1465.6 835.9h14M1465.6 854.1h14M1472.6 835.9V854.1M1467.7 837.5h14M1467.7 855.9h14M1474.7 837.5V855.9M1469.8 839.1h14M1469.8 857.6h14M1476.8 839.1V857.6M1471.8 840.7h14M1471.8 859.4h14M1478.8 840.7V859.4M1473.8 842.3h14M1473.8 861.1h14M1480.8 842.3V861.1M1475.8 843.8h14M1475.8 862.7h14M1482.8 843.8V862.7M1477.7 845.3h14M1477.7 864.4h14M1484.7 845.3V864.4M1479.6 846.9h14M1479.6 866.1h14M1486.6 846.9V866.1M1481.5 848.4h14M1481.5 867.7h14M1488.5 848.4V867.7M1483.3 849.9h14M1483.3 869.3h14M1490.3 849.9V869.3M1485.1 851.4h14M1485.1 870.9h14M1492.1 851.4V870.9M1486.9 852.8h14M1486.9 872.4h14M1493.9 852.8V872.4M1488.6 854.3h14M1488.6 874h14M1495.6 854.3V874M1490.4 855.7h14M1490.4 875.5h14M1497.4 855.7V875.5M1492.1 857.1h14M1492.1 877.1h14M1499.1 857.1V877.1M1493.7 858.5h14M1493.7 878.5h14M1500.7 858.5V878.5M1495.4 859.9h14M1495.4 880h14M1502.4 859.9V880M1497 861.3h14M1497 881.5h14M1504 861.3V881.5M1498.6 862.6h14M1498.6 882.9h14M1505.6 862.6V882.9M1500.2 864h14M1500.2 884.4h14M1507.2 864V884.4M1501.8 865.3h14M1501.8 885.8h14M1508.8 865.3V885.8M1503.3 866.6h14M1503.3 887.2h14M1510.3 866.6V887.2M1504.9 867.9h14M1504.9 888.6h14M1511.9 867.9V888.6M1506.4 869.2h14M1506.4 890h14M1513.4 869.2V890M1507.8 870.5h14M1507.8 891.3h14M1514.8 870.5V891.3M1509.3 871.7h14M1509.3 892.7h14M1516.3 871.7V892.7M1510.8 873h14M1510.8 894h14M1517.8 873V894M1512.2 874.2h14M1512.2 895.3h14M1519.2 874.2V895.3M1513.6 875.4h14M1513.6 896.6h14M1520.6 875.4V896.6M1515 876.6h14M1515 897.9h14M1522 876.6V897.9M1516.4 877.8h14M1516.4 899.2h14M1523.4 877.8V899.2M1517.7 879h14M1517.7 900.4h14M1524.7 879V900.4M1519.1 880.2h14M1519.1 901.7h14M1526.1 880.2V901.7M1520.4 881.3h14M1520.4 902.9h14M1527.4 881.3V902.9M1521.7 882.5h14M1521.7 904.1h14M1528.7 882.5V904.1M1523 883.6h14M1523 905.3h14M1530 883.6V905.3M1524.3 884.7h14M1524.3 906.5h14M1531.3 884.7V906.5M1525.6 885.8h14M1525.6 907.7h14M1532.6 885.8V907.7M1526.9 886.9h14M1526.9 908.9h14M1533.9 886.9V908.9M1528.1 888h14M1528.1 910h14M1535.1 888V910M1529.4 889.1h14M1529.4 911.2h14M1536.4 889.1V911.2M1530.6 890.2h14M1530.6 912.3h14M1537.6 890.2V912.3M1531.8 891.2h14M1531.8 913.5h14M1538.8 891.2V913.5M1533 892.3h14M1533 914.6h14M1540 892.3V914.6M1534.2 893.3h14M1534.2 915.7h14M1541.2 893.3V915.7M1535.3 894.3h14M1535.3 916.8h14M1542.3 894.3V916.8M1536.5 895.3h14M1536.5 917.8h14M1543.5 895.3V917.8M1537.6 896.3h14M1537.6 918.9h14M1544.6 896.3V918.9M1538.8 897.3h14M1538.8 920h14M1545.8 897.3V920M1539.9 898.3h14M1539.9 921h14M1546.9 898.3V921M1541 899.3h14M1541 922.1h14M1548 899.3V922.1M1542.1 900.2h14M1542.1 923.1h14M1549.1 900.2V923.1M1543.2 901.2h14M1543.2 924.1h14M1550.2 901.2V924.1M1544.3 902.2h14M1544.3 925.1h14M1551.3 902.2V925.1M1545.4 903.1h14M1545.4 926.1h14M1552.4 903.1V926.1M1546.4 904h14M1546.4 927.1h14M1553.4 904V927.1M1547.5 904.9h14M1547.5 928.1h14M1554.5 904.9V928.1M1548.6 905.8h14M1548.6 929h14M1555.6 905.8V929M1549.6 906.7h14M1549.6 930h14M1556.6 906.7V930M1550.6 907.6h14M1550.6 931h14M1557.6 907.6V931M1551.6 908.5h14M1551.6 931.9h14M1558.6 908.5V931.9M1552.6 909.4h14M1552.6 932.8h14M1559.6 909.4V932.8M1553.6 910.3h14M1553.6 933.8h14M1560.6 910.3V933.8M1554.6 911.1h14M1554.6 934.7h14M1561.6 911.1V934.7M1555.6 912h14M1555.6 935.6h14M1562.6 912V935.6M1556.6 912.8h14M1556.6 936.5h14M1563.6 912.8V936.5M1557.6 913.6h14M1557.6 937.4h14M1564.6 913.6V937.4M1558.5 914.5h14M1558.5 938.2h14M1565.5 914.5V938.2M1559.5 915.3h14M1559.5 939.1h14M1566.5 915.3V939.1M1560.4 916.1h14M1560.4 940h14M1567.4 916.1V940M1561.4 916.9h14M1561.4 940.8h14M1568.4 916.9V940.8M1562.3 917.7h14M1562.3 941.7h14M1569.3 917.7V941.7M1563.2 918.5h14M1563.2 942.5h14M1570.2 918.5V942.5M1564.1 919.3h14M1564.1 943.4h14M1571.1 919.3V943.4M1565 920h14M1565 944.2h14M1572 920V944.2M1565.9 920.8h14M1565.9 945h14M1572.9 920.8V945M1566.8 921.6h14M1566.8 945.8h14M1573.8 921.6V945.8M1567.7 922.3h14M1567.7 946.6h14M1574.7 922.3V946.6M1568.6 923.1h14M1568.6 947.4h14M1575.6 923.1V947.4M1569.5 923.8h14M1569.5 948.2h14M1576.5 923.8V948.2M1570.3 924.5h14M1570.3 949h14M1577.3 924.5V949M1571.2 925.3h14M1571.2 949.8h14M1578.2 925.3V949.8M1572 926h14M1572 950.5h14M1579 926V950.5M1572.9 926.7h14M1572.9 951.3h14M1579.9 926.7V951.3M1573.7 927.4h14M1573.7 952h14M1580.7 927.4V952M1574.6 928.1h14M1574.6 952.8h14M1581.6 928.1V952.8M1575.4 928.8h14M1575.4 953.5h14M1582.4 928.8V953.5M1576.2 929.5h14M1576.2 954.3h14M1583.2 929.5V954.3M1577 930.2h14M1577 955h14M1584 930.2V955M1577.9 930.8h14M1577.9 955.7h14M1584.9 930.8V955.7M1578.7 931.5h14M1578.7 956.4h14M1585.7 931.5V956.4M1579.5 932.2h14M1579.5 957.1h14M1586.5 932.2V957.1M1580.3 932.8h14M1580.3 957.8h14M1587.3 932.8V957.8M1581.1 933.5h14M1581.1 958.5h14M1588.1 933.5V958.5M1581.8 934.1h14M1581.8 959.2h14M1588.8 934.1V959.2M1582.6 934.8h14M1582.6 959.9h14M1589.6 934.8V959.9M1583.4 935.4h14M1583.4 960.6h14M1590.4 935.4V960.6M1584.2 936h14M1584.2 961.2h14M1591.2 936V961.2M1584.9 936.6h14M1584.9 961.9h14M1591.9 936.6V961.9M1585.7 937.2h14M1585.7 962.6h14M1592.7 937.2V962.6M1586.4 937.9h14M1586.4 963.2h14M1593.4 937.9V963.2M1587.2 938.5h14M1587.2 963.9h14M1594.2 938.5V963.9M1587.9 939.1h14M1587.9 964.5h14M1594.9 939.1V964.5M1588.7 939.7h14M1588.7 965.1h14M1595.7 939.7V965.1M1589.4 940.2h14M1589.4 965.8h14M1596.4 940.2V965.8M1590.1 940.8h14M1590.1 966.4h14M1597.1 940.8V966.4M1590.9 941.4h14M1590.9 967h14M1597.9 941.4V967M1591.6 942h14M1591.6 967.6h14M1598.6 942V967.6M1592.3 942.6h14M1592.3 968.2h14M1599.3 942.6V968.2M1593 943.1h14M1593 968.8h14M1600 943.1V968.8M1593.7 943.7h14M1593.7 969.4h14M1600.7 943.7V969.4M1594.4 944.2h14M1594.4 970h14M1601.4 944.2V970M1595.1 944.8h14M1595.1 970.6h14M1602.1 944.8V970.6M1595.8 945.3h14M1595.8 971.2h14M1602.8 945.3V971.2M1596.5 945.9h14M1596.5 971.8h14M1603.5 945.9V971.8M1597.2 946.4h14M1597.2 972.3h14M1604.2 946.4V972.3M1597.9 946.9h14M1597.9 972.9h14M1604.9 946.9V972.9M1598.6 947.4h14M1598.6 973.5h14M1605.6 947.4V973.5M1599.3 948h14M1599.3 974h14M1606.3 948V974M1599.9 948.5h14M1599.9 974.6h14M1606.9 948.5V974.6M1600.6 949h14M1600.6 975.1h14M1607.6 949V975.1M1601.3 949.5h14M1601.3 975.7h14M1608.3 949.5V975.7M1601.9 950h14M1601.9 976.2h14M1608.9 950V976.2M1602.6 950.5h14M1602.6 976.7h14M1609.6 950.5V976.7M1603.2 951h14M1603.2 977.3h14M1610.2 951V977.3M1603.9 951.5h14M1603.9 977.8h14M1610.9 951.5V977.8M1604.5 952h14M1604.5 978.3h14M1611.5 952V978.3M1605.2 952.4h14M1605.2 978.8h14M1612.2 952.4V978.8M1605.8 952.9h14M1605.8 979.3h14M1612.8 952.9V979.3M1606.4 953.4h14M1606.4 979.9h14M1613.4 953.4V979.9M1607.1 953.9h14M1607.1 980.4h14M1614.1 953.9V980.4M1607.7 954.3h14M1607.7 980.9h14M1614.7 954.3V980.9M1608.3 954.8h14M1608.3 981.3h14M1615.3 954.8V981.3M1608.9 955.2h14M1608.9 981.8h14M1615.9 955.2V981.8M1609.6 955.7h14M1609.6 982.3h14M1616.6 955.7V982.3M1610.2 956.1h14M1610.2 982.8h14M1617.2 956.1V982.8M1610.8 956.6h14M1610.8 983.3h14M1617.8 956.6V983.3M1611.4 957h14M1611.4 983.8h14M1618.4 957V983.8M1612 957.5h14M1612 984.2h14M1619 957.5V984.2M1612.6 957.9h14M1612.6 984.7h14M1619.6 957.9V984.7M1613.2 958.3h14M1613.2 985.2h14M1620.2 958.3V985.2M1613.8 958.7h14M1613.8 985.6h14M1620.8 958.7V985.6M1614.4 959.2h14M1614.4 986.1h14M1621.4 959.2V986.1M1615 959.6h14M1615 986.5h14M1622 959.6V986.5M1615.6 960h14M1615.6 987h14M1622.6 960V987M1616.2 960.4h14M1616.2 987.4h14M1623.2 960.4V987.4M1616.7 960.8h14M1616.7 987.8h14M1623.7 960.8V987.8M1617.3 961.2h14M1617.3 988.3h14M1624.3 961.2V988.3M1617.9 961.6h14M1617.9 988.7h14M1624.9 961.6V988.7M1618.5 962h14M1618.5 989.1h14M1625.5 962V989.1M1619 962.4h14M1619 989.6h14M1626 962.4V989.6M1619.6 962.8h14M1619.6 990h14M1626.6 962.8V990M1620.2 963.2h14M1620.2 990.4h14M1627.2 963.2V990.4M1620.7 963.5h14M1620.7 990.8h14M1627.7 963.5V990.8M1621.3 963.9h14M1621.3 991.2h14M1628.3 963.9V991.2M1621.9 964.3h14M1621.9 991.6h14M1628.9 964.3V991.6M1622.4 964.7h14M1622.4 992h14M1629.4 964.7V992M1623 965h14M1623 992.4h14M1630 965V992.4M1623.5 965.4h14M1623.5 992.8h14M1630.5 965.4V992.8M1624.1 965.8h14M1624.1 993.2h14M1631.1 965.8V993.2M1624.6 966.1h14M1624.6 993.6h14M1631.6 966.1V993.6M1625.1 966.5h14M1625.1 994h14M1632.1 966.5V994" fill="none" stroke="#de3020" stroke-width="1.8"/>
<path d="M1300 760.1L1302.5 759.8L1304.9 759.5L1307.4 759.2L1309.8 758.9L1312.3 758.7L1314.7 758.5L1317.2 758.4L1319.6 758.2L1322.1 758.1L1324.5 757.9L1327 757.8L1329.4 757.8L1331.9 758.2L1334.3 758.8L1336.8 759.4L1339.3 760L1341.7 760.7L1344.2 761.4L1346.6 762.1L1349.1 762.8L1351.5 763.5L1354 764.2L1356.4 765L1358.9 765.8L1361.3 766.6L1363.8 767.4L1366.2 768.3L1368.7 769.1L1371.1 770L1373.6 770.9L1376.1 771.9L1378.5 772.8L1381 773.8L1383.4 774.8L1385.9 775.8L1388.3 776.9L1390.8 777.9L1393.2 779L1395.7 780.1L1398.1 781.2L1400.6 782.4L1403 783.5L1405.5 784.7L1407.9 785.9L1410.4 787.2L1412.8 788.4L1415.3 789.7L1417.8 791L1420.2 792.3L1422.7 793.6L1425.1 795L1427.6 796.4L1430 797.8L1432.5 799.2L1434.9 800.7L1437.4 802.1L1439.8 803.6L1442.3 805.1L1444.7 806.7L1447.2 808.2L1449.6 809.8L1452.1 811.4L1454.6 813L1457 814.6L1459.5 816.3L1461.9 817.9L1464.4 819.6L1466.8 821.3L1469.3 823L1471.7 824.8L1474.2 826.5L1476.6 828.3L1479.1 830.1L1481.5 831.9L1484 833.8L1486.4 835.6L1488.9 837.5L1491.4 839.3L1493.8 841.2L1496.3 843.1L1498.7 845.1L1501.2 847L1503.6 849L1506.1 850.9L1508.5 852.9L1511 854.9L1513.4 856.9L1515.9 858.9L1518.3 860.9L1520.8 863L1523.2 865L1525.7 867.1L1528.2 869.1L1530.6 871.2L1533.1 873.3L1535.5 875.4L1538 877.5L1540.4 879.6L1542.9 881.7L1545.3 883.8L1547.8 886L1550.2 888.1L1552.7 890.2L1555.1 892.4L1557.6 894.5L1560 896.6L1562.5 898.8L1564.9 900.9L1567.4 903.1L1569.9 905.2L1572.3 907.4L1574.8 909.5L1577.2 911.7L1579.7 913.8L1582.1 915.9L1584.6 918.1L1587 920.2L1589.5 922.3L1591.9 924.4L1594.4 926.5L1596.8 928.6L1599.3 930.7L1601.7 932.8L1604.2 934.9L1606.7 936.9L1609.1 939L1611.6 941L1614 943L1616.5 945L1618.9 947L1621.4 949L1623.8 951L1626.3 952.9L1628.7 954.8L1631.2 956.7L1633.6 958.6L1636.1 960.5L1638.5 962.3L1641 964.1L1641 1006.1L1638.5 1004.8L1636.1 1003.4L1633.6 1001.9L1631.2 1000.5L1628.7 999L1626.3 997.4L1623.8 995.8L1621.4 994.2L1618.9 992.5L1616.5 990.8L1614 989.1L1611.6 987.3L1609.1 985.5L1606.7 983.7L1604.2 981.8L1601.7 979.9L1599.3 978L1596.8 976.1L1594.4 974.1L1591.9 972.1L1589.5 970.1L1587 968L1584.6 966L1582.1 963.9L1579.7 961.8L1577.2 959.7L1574.8 957.5L1572.3 955.3L1569.9 953.2L1567.4 951L1564.9 948.8L1562.5 946.5L1560 944.3L1557.6 942L1555.1 939.8L1552.7 937.5L1550.2 935.2L1547.8 932.9L1545.3 930.6L1542.9 928.3L1540.4 926L1538 923.7L1535.5 921.4L1533.1 919L1530.6 916.7L1528.2 914.4L1525.7 912L1523.2 909.7L1520.8 907.4L1518.3 905L1515.9 902.7L1513.4 900.4L1511 898L1508.5 895.7L1506.1 893.4L1503.6 891.1L1501.2 888.8L1498.7 886.5L1496.3 884.2L1493.8 881.9L1491.4 879.6L1488.9 877.3L1486.4 875.1L1484 872.8L1481.5 870.6L1479.1 868.4L1476.6 866.2L1474.2 864L1471.7 861.8L1469.3 859.6L1466.8 857.4L1464.4 855.3L1461.9 853.2L1459.5 851L1457 848.9L1454.6 846.9L1452.1 844.8L1449.6 842.8L1447.2 840.7L1444.7 838.7L1442.3 836.7L1439.8 834.8L1437.4 832.8L1434.9 830.9L1432.5 829L1430 827.1L1427.6 825.3L1425.1 823.4L1422.7 821.6L1420.2 819.8L1417.8 818.1L1415.3 816.4L1412.8 814.6L1410.4 813L1407.9 811.3L1405.5 809.7L1403 808.1L1400.6 806.5L1398.1 804.9L1395.7 803.4L1393.2 801.9L1390.8 800.4L1388.3 799L1385.9 797.6L1383.4 796.2L1381 794.9L1378.5 793.5L1376.1 792.2L1373.6 791L1371.1 789.8L1368.7 788.6L1366.2 787.4L1363.8 786.3L1361.3 785.2L1358.9 784.1L1356.4 783L1354 782L1351.5 781.1L1349.1 780.1L1346.6 779.2L1344.2 778.3L1341.7 777.5L1339.3 776.7L1336.8 775.9L1334.3 775.2L1331.9 774.5L1329.4 773.6L1327 772.3L1324.5 771.1L1322.1 769.9L1319.6 768.7L1317.2 767.5L1314.7 766.4L1312.3 765.3L1309.8 764.2L1307.4 763.2L1304.9 762.1L1302.5 761.1L1300 760.1Z" fill="#de3020"/>
<path d="M1005.3 735 1009.3 735 1013.3 735.1 1017.3 735.1 1021.3 735.2 1025.3 735.3 1029.2 735.3 1033.2 735.4 1037.2 735.5 1041.2 735.6 1045.2 735.7 1049.2 735.8 1053.2 735.9 1057.1 736.1 1061.1 736.2 1065.1 736.3 1069.1 736.5 1073.1 736.6 1077.1 736.7 1081.1 736.9 1085 737 1089 737.2 1093 737.4 1097 737.5 1101 737.7 1105 737.9 1109 738.1 1112.9 738.2 1116.9 738.4 1120.9 738.6 1124.9 738.8 1128.9 739 1132.9 739.2 1136.9 739.4 1140.8 739.6 1144.8 739.7 1148.8 739.9 1152.8 740.1 1156.8 740.3 1160.8 740.6 1164.7 740.8 1168.7 741 1172.7 741.3 1176.7 741.5 1180.7 741.8 1184.7 742 1188.7 742.3 1192.6 742.6 1196.6 742.9 1200.6 743.2 1204.6 743.5 1208.6 743.8 1212.6 744.1 1216.6 744.5 1220.5 744.8 1224.5 745.2 1228.5 745.5 1232.5 745.9 1236.5 746.3 1240.5 746.7 1244.5 747.1 1248.4 747.5 1252.4 747.9 1256.4 748.3 1260.4 748.8 1264.4 749.2 1268.4 749.7 1272.4 750.2 1276.3 750.7 1280.3 751.3 1284.3 752 1288.3 752.7 1292.3 753.5 1296.3 754.2 1300.2 754.9 1304.2 755.6 1308.2 756.3 1312.2 757 1316.2 757.7 1320.2 758.6 1324.2 759.4 1328.1 760.3 1332.1 761.2 1336.1 762.2 1340.1 763.3 1344.1 764.3 1348.1 765.5 1352.1 766.7 1356 767.9 1360 769.2 1364 770.5 1368 771.9 1372 773.3 1376 774.8 1380 776.4 1383.9 778 1387.9 779.7 1391.9 781.4 1395.9 783.2 1399.9 785 1403.9 786.9 1407.9 788.9 1411.8 790.9 1415.8 793 1419.8 795.1 1423.8 797.3 1427.8 799.5 1431.8 801.8 1435.7 804.2 1439.7 806.6 1443.7 809 1447.7 811.5 1451.7 814.1 1455.7 816.7 1459.7 819.4 1463.6 822.1 1467.6 824.9 1471.6 827.7 1475.6 830.6 1479.6 833.5 1483.6 836.4 1487.6 839.4 1491.5 842.5 1495.5 845.6 1499.5 848.7 1503.5 851.9 1507.5 855.1 1511.5 858.3 1515.5 861.5 1519.4 864.8 1523.4 868.2 1527.4 871.5 1531.4 874.9 1535.4 878.3 1539.4 881.7 1543.4 885.1 1547.3 888.6 1551.3 892 1555.3 895.5 1559.3 899 1563.3 902.5 1567.3 906 1571.2 909.5 1575.2 912.9 1579.2 916.4 1583.2 919.9 1587.2 923.3 1591.2 926.8 1595.2 930.2 1599.1 933.6 1603.1 937 1607.1 940.3 1611.1 943.6 1615.1 946.9 1619.1 950.2 1623.1 953.3 1627 956.5 1631 959.6 1635 962.6 1639 963.4" fill="none" stroke="#de3020" stroke-width="5.5"/>
<path d="M1005.3 724.1L995.3 741.1L1015.3 741.1ZM1086.2 724.1L1076.2 741.1L1096.2 741.1ZM1133.4 725.7L1123.4 742.7L1143.4 742.7ZM1167 725.8L1157 742.8L1177 742.8ZM1193 725.9L1183 742.9L1203 742.9ZM1214.3 726L1204.3 743L1224.3 743ZM1232.2 726.1L1222.2 743.1L1242.2 743.1ZM1247.8 726.3L1237.8 743.3L1257.8 743.3ZM1261.5 726.4L1251.5 743.4L1271.5 743.4ZM1273.8 726.6L1263.8 743.6L1283.8 743.6ZM1284.9 726.9L1274.9 743.9L1294.9 743.9ZM1295.1 727.3L1285.1 744.3L1305.1 744.3ZM1304.4 727.8L1294.4 744.8L1314.4 744.8ZM1313.1 728.3L1303.1 745.3L1323.1 745.3ZM1321.1 728.8L1311.1 745.8L1331.1 745.8ZM1328.6 729.2L1318.6 746.2L1338.6 746.2ZM1335.7 729.6L1325.7 746.6L1345.7 746.6ZM1342.4 730.1L1332.4 747.1L1352.4 747.1ZM1348.7 730.7L1338.7 747.7L1358.7 747.7ZM1354.7 731.3L1344.7 748.3L1364.7 748.3ZM1360.4 731.9L1350.4 748.9L1370.4 748.9ZM1365.8 732.5L1355.8 749.5L1375.8 749.5ZM1371 733.1L1361 750.1L1381 750.1ZM1375.9 733.5L1365.9 750.5L1385.9 750.5ZM1380.7 734L1370.7 751L1390.7 751ZM1385.3 734.4L1375.3 751.4L1395.3 751.4ZM1389.7 734.8L1379.7 751.8L1399.7 751.8ZM1393.9 735.2L1383.9 752.2L1403.9 752.2ZM1398 735.7L1388 752.7L1408 752.7ZM1401.9 736.1L1391.9 753.1L1411.9 753.1ZM1405.8 736.6L1395.8 753.6L1415.8 753.6ZM1409.5 737.1L1399.5 754.1L1419.5 754.1ZM1413.1 737.6L1403.1 754.6L1423.1 754.6ZM1416.5 738.2L1406.5 755.2L1426.5 755.2ZM1419.9 738.8L1409.9 755.8L1429.9 755.8ZM1423.2 739.5L1413.2 756.5L1433.2 756.5ZM1426.4 740.2L1416.4 757.2L1436.4 757.2ZM1429.5 740.9L1419.5 757.9L1439.5 757.9ZM1432.5 741.6L1422.5 758.6L1442.5 758.6ZM1435.5 742.2L1425.5 759.2L1445.5 759.2ZM1438.4 742.8L1428.4 759.8L1448.4 759.8ZM1441.2 743.4L1431.2 760.4L1451.2 760.4ZM1443.9 743.9L1433.9 760.9L1453.9 760.9ZM1446.6 744.5L1436.6 761.5L1456.6 761.5ZM1449.2 745L1439.2 762L1459.2 762ZM1451.8 745.4L1441.8 762.4L1461.8 762.4ZM1454.3 745.9L1444.3 762.9L1464.3 762.9ZM1456.7 746.3L1446.7 763.3L1466.7 763.3ZM1459.2 746.7L1449.2 763.7L1469.2 763.7ZM1461.5 747.2L1451.5 764.2L1471.5 764.2ZM1463.8 747.6L1453.8 764.6L1473.8 764.6ZM1466.1 747.9L1456.1 764.9L1476.1 764.9ZM1468.3 748.3L1458.3 765.3L1478.3 765.3ZM1470.5 748.7L1460.5 765.7L1480.5 765.7ZM1472.6 749.1L1462.6 766.1L1482.6 766.1ZM1474.7 749.5L1464.7 766.5L1484.7 766.5ZM1476.8 749.9L1466.8 766.9L1486.8 766.9ZM1478.8 750.4L1468.8 767.4L1488.8 767.4ZM1480.8 750.8L1470.8 767.8L1490.8 767.8ZM1482.8 751.3L1472.8 768.3L1492.8 768.3ZM1484.7 751.8L1474.7 768.8L1494.7 768.8ZM1486.6 752.4L1476.6 769.4L1496.6 769.4ZM1488.5 753L1478.5 770L1498.5 770ZM1490.3 753.7L1480.3 770.7L1500.3 770.7ZM1492.1 754.4L1482.1 771.4L1502.1 771.4ZM1493.9 755.1L1483.9 772.1L1503.9 772.1ZM1495.6 755.7L1485.6 772.7L1505.6 772.7ZM1497.4 756.4L1487.4 773.4L1507.4 773.4ZM1499.1 757L1489.1 774L1509.1 774ZM1500.7 757.7L1490.7 774.7L1510.7 774.7ZM1502.4 758.3L1492.4 775.3L1512.4 775.3ZM1504 758.9L1494 775.9L1514 775.9ZM1505.6 759.5L1495.6 776.5L1515.6 776.5ZM1507.2 760.1L1497.2 777.1L1517.2 777.1ZM1508.8 760.7L1498.8 777.7L1518.8 777.7ZM1510.3 761.3L1500.3 778.3L1520.3 778.3ZM1511.9 761.9L1501.9 778.9L1521.9 778.9ZM1513.4 762.5L1503.4 779.5L1523.4 779.5ZM1514.8 763.1L1504.8 780.1L1524.8 780.1ZM1516.3 763.7L1506.3 780.7L1526.3 780.7ZM1517.8 764.3L1507.8 781.3L1527.8 781.3ZM1519.2 764.8L1509.2 781.8L1529.2 781.8ZM1520.6 765.4L1510.6 782.4L1530.6 782.4ZM1522 765.9L1512 782.9L1532 782.9ZM1523.4 766.5L1513.4 783.5L1533.4 783.5ZM1524.7 767L1514.7 784L1534.7 784ZM1526.1 767.5L1516.1 784.5L1536.1 784.5ZM1527.4 768L1517.4 785L1537.4 785ZM1528.7 768.5L1518.7 785.5L1538.7 785.5ZM1530 769L1520 786L1540 786ZM1531.3 769.5L1521.3 786.5L1541.3 786.5ZM1532.6 769.9L1522.6 786.9L1542.6 786.9ZM1533.9 770.3L1523.9 787.3L1543.9 787.3ZM1535.1 770.6L1525.1 787.6L1545.1 787.6ZM1536.4 771L1526.4 788L1546.4 788ZM1537.6 771.3L1527.6 788.3L1547.6 788.3ZM1538.8 771.6L1528.8 788.6L1548.8 788.6ZM1540 771.9L1530 788.9L1550 788.9ZM1541.2 772.2L1531.2 789.2L1551.2 789.2ZM1542.3 772.5L1532.3 789.5L1552.3 789.5ZM1543.5 772.7L1533.5 789.7L1553.5 789.7ZM1544.6 773L1534.6 790L1554.6 790ZM1545.8 773.2L1535.8 790.2L1555.8 790.2ZM1546.9 773.5L1536.9 790.5L1556.9 790.5ZM1548 773.7L1538 790.7L1558 790.7ZM1549.1 773.9L1539.1 790.9L1559.1 790.9ZM1550.2 774.1L1540.2 791.1L1560.2 791.1ZM1551.3 774.3L1541.3 791.3L1561.3 791.3ZM1552.4 774.5L1542.4 791.5L1562.4 791.5ZM1553.4 774.7L1543.4 791.7L1563.4 791.7ZM1554.5 774.8L1544.5 791.8L1564.5 791.8ZM1555.6 775L1545.6 792L1565.6 792ZM1556.6 775.2L1546.6 792.2L1566.6 792.2ZM1557.6 775.3L1547.6 792.3L1567.6 792.3ZM1558.6 775.5L1548.6 792.5L1568.6 792.5ZM1559.6 775.7L1549.6 792.7L1569.6 792.7ZM1560.6 775.8L1550.6 792.8L1570.6 792.8ZM1561.6 776L1551.6 793L1571.6 793ZM1562.6 776.1L1552.6 793.1L1572.6 793.1ZM1563.6 776.3L1553.6 793.3L1573.6 793.3ZM1564.6 776.4L1554.6 793.4L1574.6 793.4ZM1565.5 776.6L1555.5 793.6L1575.5 793.6ZM1566.5 776.7L1556.5 793.7L1576.5 793.7ZM1567.4 776.8L1557.4 793.8L1577.4 793.8ZM1568.4 777L1558.4 794L1578.4 794ZM1569.3 777.1L1559.3 794.1L1579.3 794.1ZM1570.2 777.3L1560.2 794.3L1580.2 794.3ZM1571.1 777.4L1561.1 794.4L1581.1 794.4ZM1572 777.5L1562 794.5L1582 794.5ZM1572.9 777.7L1562.9 794.7L1582.9 794.7ZM1573.8 777.8L1563.8 794.8L1583.8 794.8ZM1574.7 777.9L1564.7 794.9L1584.7 794.9ZM1575.6 778L1565.6 795L1585.6 795ZM1576.5 778.2L1566.5 795.2L1586.5 795.2ZM1577.3 778.3L1567.3 795.3L1587.3 795.3ZM1578.2 778.4L1568.2 795.4L1588.2 795.4ZM1579 778.5L1569 795.5L1589 795.5ZM1579.9 778.6L1569.9 795.6L1589.9 795.6ZM1580.7 778.8L1570.7 795.8L1590.7 795.8ZM1581.6 778.9L1571.6 795.9L1591.6 795.9ZM1582.4 779L1572.4 796L1592.4 796ZM1583.2 779.1L1573.2 796.1L1593.2 796.1ZM1584 779.2L1574 796.2L1594 796.2ZM1584.9 779.3L1574.9 796.3L1594.9 796.3ZM1585.7 779.4L1575.7 796.4L1595.7 796.4ZM1586.5 779.5L1576.5 796.5L1596.5 796.5ZM1587.3 779.5L1577.3 796.5L1597.3 796.5ZM1588.1 779.6L1578.1 796.6L1598.1 796.6ZM1588.8 779.7L1578.8 796.7L1598.8 796.7ZM1589.6 779.8L1579.6 796.8L1599.6 796.8ZM1590.4 779.9L1580.4 796.9L1600.4 796.9ZM1591.2 780L1581.2 797L1601.2 797ZM1591.9 780.1L1581.9 797.1L1601.9 797.1ZM1592.7 780.2L1582.7 797.2L1602.7 797.2ZM1593.4 780.3L1583.4 797.3L1603.4 797.3ZM1594.2 780.4L1584.2 797.4L1604.2 797.4ZM1594.9 780.5L1584.9 797.5L1604.9 797.5ZM1595.7 780.5L1585.7 797.5L1605.7 797.5ZM1596.4 780.6L1586.4 797.6L1606.4 797.6ZM1597.1 780.7L1587.1 797.7L1607.1 797.7ZM1597.9 780.8L1587.9 797.8L1607.9 797.8ZM1598.6 780.9L1588.6 797.9L1608.6 797.9ZM1599.3 781L1589.3 798L1609.3 798ZM1600 781.1L1590 798.1L1610 798.1ZM1600.7 781.2L1590.7 798.2L1610.7 798.2ZM1601.4 781.3L1591.4 798.3L1611.4 798.3ZM1602.1 781.4L1592.1 798.4L1612.1 798.4ZM1602.8 781.5L1592.8 798.5L1612.8 798.5ZM1603.5 781.6L1593.5 798.6L1613.5 798.6ZM1604.2 781.7L1594.2 798.7L1614.2 798.7ZM1604.9 781.8L1594.9 798.8L1614.9 798.8ZM1605.6 781.9L1595.6 798.9L1615.6 798.9ZM1606.3 782L1596.3 799L1616.3 799ZM1606.9 782.1L1596.9 799.1L1616.9 799.1ZM1607.6 782.2L1597.6 799.2L1617.6 799.2ZM1608.3 782.4L1598.3 799.4L1618.3 799.4ZM1608.9 782.5L1598.9 799.5L1618.9 799.5ZM1609.6 782.6L1599.6 799.6L1619.6 799.6ZM1610.2 782.7L1600.2 799.7L1620.2 799.7ZM1610.9 782.9L1600.9 799.9L1620.9 799.9ZM1611.5 783L1601.5 800L1621.5 800ZM1612.2 783.1L1602.2 800.1L1622.2 800.1ZM1612.8 783.3L1602.8 800.3L1622.8 800.3ZM1613.4 783.4L1603.4 800.4L1623.4 800.4ZM1614.1 783.5L1604.1 800.5L1624.1 800.5ZM1614.7 783.7L1604.7 800.7L1624.7 800.7ZM1615.3 783.8L1605.3 800.8L1625.3 800.8ZM1615.9 784L1605.9 801L1625.9 801ZM1616.6 784.1L1606.6 801.1L1626.6 801.1ZM1617.2 784.3L1607.2 801.3L1627.2 801.3ZM1617.8 784.4L1607.8 801.4L1627.8 801.4ZM1618.4 784.5L1608.4 801.5L1628.4 801.5ZM1619 784.7L1609 801.7L1629 801.7ZM1619.6 784.9L1609.6 801.9L1629.6 801.9ZM1620.2 785L1610.2 802L1630.2 802ZM1620.8 785.2L1610.8 802.2L1630.8 802.2ZM1621.4 785.3L1611.4 802.3L1631.4 802.3ZM1622 785.5L1612 802.5L1632 802.5ZM1622.6 785.7L1612.6 802.7L1632.6 802.7ZM1623.2 785.8L1613.2 802.8L1633.2 802.8ZM1623.7 786L1613.7 803L1633.7 803ZM1624.3 786.2L1614.3 803.2L1634.3 803.2ZM1624.9 786.4L1614.9 803.4L1634.9 803.4ZM1625.5 786.5L1615.5 803.5L1635.5 803.5ZM1626 786.7L1616 803.7L1636 803.7ZM1626.6 786.9L1616.6 803.9L1636.6 803.9ZM1627.2 787.1L1617.2 804.1L1637.2 804.1ZM1627.7 787.3L1617.7 804.3L1637.7 804.3ZM1628.3 787.4L1618.3 804.4L1638.3 804.4ZM1628.9 787.6L1618.9 804.6L1638.9 804.6ZM1629.4 787.8L1619.4 804.8L1639.4 804.8ZM1630 788L1620 805L1640 805ZM1630.5 788L1620.5 805L1640.5 805ZM1631.1 788L1621.1 805L1641.1 805ZM1631.6 788L1621.6 805L1641.6 805ZM1632.1 788L1622.1 805L1642.1 805Z" fill="none" stroke="#3350a6" stroke-width="1.8"/>
<path d="M1330 740.8L1332.2 740.5L1334.5 740.2L1336.7 740L1338.9 739.7L1341.2 739.5L1343.4 739.3L1345.7 739.1L1347.9 738.9L1350.1 738.7L1352.4 738.5L1354.6 738.3L1356.8 738.1L1359.1 737.9L1361.3 737.9L1363.6 738.2L1365.8 738.4L1368 738.6L1370.3 738.8L1372.5 739L1374.7 739.2L1377 739.4L1379.2 739.6L1381.5 739.8L1383.7 739.9L1385.9 740.1L1388.2 740.3L1390.4 740.5L1392.6 740.6L1394.9 740.8L1397.1 741L1399.4 741.2L1401.6 741.4L1403.8 741.7L1406.1 741.9L1408.3 742.1L1410.5 742.4L1412.8 742.7L1415 743L1417.3 743.4L1419.5 743.8L1421.7 744.2L1424 744.6L1426.2 744.9L1428.4 745.3L1430.7 745.6L1432.9 745.9L1435.2 746.2L1437.4 746.5L1439.6 746.7L1441.9 746.9L1444.1 747.1L1446.3 747.2L1448.6 747.4L1450.8 747.5L1453.1 747.7L1455.3 747.8L1457.5 748L1459.8 748.1L1462 748.3L1464.2 748.5L1466.5 748.7L1468.7 748.9L1471 749.1L1473.2 749.4L1475.4 749.7L1477.7 750L1479.9 750.5L1482.1 751.1L1484.4 751.7L1486.6 752.5L1488.9 753.2L1491.1 754L1493.3 754.9L1495.6 755.7L1497.8 756.6L1500 757.5L1502.3 758.3L1504.5 759.1L1506.8 759.9L1509 760.8L1511.2 761.6L1513.5 762.5L1515.7 763.4L1517.9 764.3L1520.2 765.2L1522.4 766.1L1524.7 767L1526.9 767.9L1529.1 768.7L1531.4 769.5L1533.6 770.2L1535.8 770.9L1538.1 771.5L1540.3 772.1L1542.6 772.6L1544.8 773.1L1547 773.5L1549.3 773.9L1551.5 774.3L1553.7 774.7L1556 775.1L1558.2 775.5L1560.5 775.8L1562.7 776.2L1564.9 776.5L1567.2 776.8L1569.4 777.2L1571.6 777.5L1573.9 777.8L1576.1 778.2L1578.4 778.5L1580.6 778.8L1582.8 779.1L1585.1 779.3L1587.3 779.6L1589.5 779.8L1591.8 780.1L1594 780.4L1596.3 780.6L1598.5 780.9L1600.7 781.2L1603 781.5L1605.2 781.9L1607.4 782.2L1609.7 782.6L1611.9 783.1L1614.2 783.6L1616.4 784.1L1618.6 784.6L1620.9 785.2L1623.1 785.9L1625.3 786.6L1627.6 787.3L1629.8 788L1632.1 788.8L1634.3 789.5L1636.5 790.3L1638.8 791.2L1641 792L1641 807.2L1638.8 806.9L1636.5 806.6L1634.3 806.3L1632.1 806L1629.8 805.7L1627.6 805.3L1625.3 805L1623.1 804.6L1620.9 804.3L1618.6 803.9L1616.4 803.6L1614.2 803.2L1611.9 802.8L1609.7 802.4L1607.4 802L1605.2 801.6L1603 801.2L1600.7 800.7L1598.5 800.2L1596.3 799.7L1594 799.3L1591.8 798.8L1589.5 798.3L1587.3 797.8L1585.1 797.3L1582.8 796.9L1580.6 796.5L1578.4 796.1L1576.1 795.7L1573.9 795.3L1571.6 795L1569.4 794.7L1567.2 794.4L1564.9 794.1L1562.7 793.9L1560.5 793.6L1558.2 793.4L1556 793.1L1553.7 792.9L1551.5 792.6L1549.3 792.3L1547 792L1544.8 791.7L1542.6 791.4L1540.3 791.1L1538.1 790.7L1535.8 790.3L1533.6 789.8L1531.4 789.4L1529.1 788.9L1526.9 788.5L1524.7 788L1522.4 787.4L1520.2 786.9L1517.9 786.3L1515.7 785.7L1513.5 785.1L1511.2 784.5L1509 783.9L1506.8 783.2L1504.5 782.6L1502.3 781.8L1500 780.9L1497.8 780L1495.6 779L1493.3 778L1491.1 777L1488.9 776L1486.6 775L1484.4 774L1482.1 773.2L1479.9 772.4L1477.7 771.7L1475.4 771.1L1473.2 770.6L1471 770L1468.7 769.5L1466.5 768.9L1464.2 768.3L1462 767.8L1459.8 767.2L1457.5 766.6L1455.3 766.1L1453.1 765.5L1450.8 765L1448.6 764.4L1446.3 763.9L1444.1 763.4L1441.9 762.9L1439.6 762.4L1437.4 761.9L1435.2 761.4L1432.9 760.9L1430.7 760.4L1428.4 759.9L1426.2 759.4L1424 759L1421.7 758.5L1419.5 758.1L1417.3 757.7L1415 757.3L1412.8 756.9L1410.5 756.5L1408.3 756.2L1406.1 755.9L1403.8 755.6L1401.6 755.3L1399.4 755L1397.1 754.8L1394.9 754.5L1392.6 754.3L1390.4 754.1L1388.2 753.8L1385.9 753.6L1383.7 753.4L1381.5 753.1L1379.2 752.9L1377 752.6L1374.7 752.3L1372.5 752L1370.3 751.7L1368 751.4L1365.8 751L1363.6 750.6L1361.3 750.2L1359.1 749.6L1356.8 748.8L1354.6 748L1352.4 747.2L1350.1 746.4L1347.9 745.6L1345.7 744.9L1343.4 744.2L1341.2 743.6L1338.9 743L1336.7 742.4L1334.5 741.9L1332.2 741.3L1330 740.8Z" fill="#3350a6"/>
<path d="M1005.3 731 1009.3 731 1013.3 731.1 1017.3 731.1 1021.3 731.1 1025.3 731.2 1029.2 731.2 1033.2 731.3 1037.2 731.3 1041.2 731.4 1045.2 731.4 1049.2 731.5 1053.2 731.6 1057.1 731.6 1061.1 731.7 1065.1 731.8 1069.1 731.9 1073.1 731.9 1077.1 732 1081.1 732.1 1085 732.2 1089 732.3 1093 732.4 1097 732.4 1101 732.5 1105 732.6 1109 732.7 1112.9 732.8 1116.9 732.9 1120.9 733 1124.9 733.1 1128.9 733.2 1132.9 733.3 1136.9 733.5 1140.8 733.6 1144.8 733.7 1148.8 733.8 1152.8 733.9 1156.8 734 1160.8 734.1 1164.7 734.2 1168.7 734.4 1172.7 734.5 1176.7 734.6 1180.7 734.7 1184.7 734.8 1188.7 735 1192.6 735.1 1196.6 735.2 1200.6 735.4 1204.6 735.5 1208.6 735.7 1212.6 735.9 1216.6 736.1 1220.5 736.2 1224.5 736.4 1228.5 736.6 1232.5 736.8 1236.5 737 1240.5 737.2 1244.5 737.4 1248.4 737.6 1252.4 737.8 1256.4 737.9 1260.4 738.1 1264.4 738.3 1268.4 738.4 1272.4 738.5 1276.3 738.7 1280.3 738.8 1284.3 738.9 1288.3 739 1292.3 739 1296.3 739.1 1300.2 739.2 1304.2 739.3 1308.2 739.4 1312.2 739.5 1316.2 739.6 1320.2 739.7 1324.2 739.8 1328.1 740 1332.1 740.2 1336.1 740.4 1340.1 740.7 1344.1 741.1 1348.1 741.4 1352.1 741.8 1356 742.3 1360 742.7 1364 743.1 1368 743.5 1372 743.9 1376 744.3 1380 744.7 1383.9 745.1 1387.9 745.4 1391.9 745.8 1395.9 746.2 1399.9 746.6 1403.9 747.1 1407.9 747.6 1411.8 748.2 1415.8 748.8 1419.8 749.6 1423.8 750.4 1427.8 751.3 1431.8 752.2 1435.7 753.1 1439.7 753.9 1443.7 754.7 1447.7 755.4 1451.7 756.2 1455.7 756.9 1459.7 757.6 1463.6 758.3 1467.6 759 1471.6 759.7 1475.6 760.4 1479.6 761.3 1483.6 762.3 1487.6 763.5 1491.5 764.9 1495.5 766.5 1499.5 768 1503.5 769.5 1507.5 770.9 1511.5 772.5 1515.5 774.1 1519.4 775.7 1523.4 777.3 1527.4 778.8 1531.4 780.3 1535.4 781.5 1539.4 782.5 1543.4 783.5 1547.3 784.3 1551.3 785.1 1555.3 785.7 1559.3 786.4 1563.3 787 1567.3 787.6 1571.2 788.2 1575.2 788.8 1579.2 789.3 1583.2 789.9 1587.2 790.3 1591.2 790.8 1595.2 791.3 1599.1 791.8 1603.1 792.3 1607.1 792.9 1611.1 793.7 1615.1 794.5 1619.1 795.5 1623.1 796.6 1627 797.8 1631 798.8 1635 798.8 1639 798.8" fill="none" stroke="#3350a6" stroke-width="5.5"/>
</svg>
</body></html>
